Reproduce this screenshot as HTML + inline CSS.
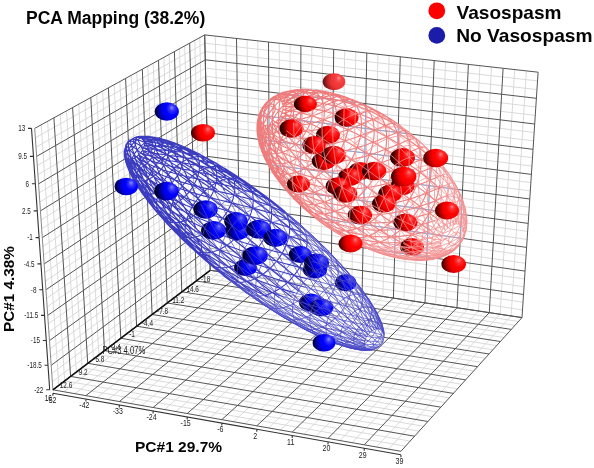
<!DOCTYPE html>
<html><head><meta charset="utf-8"><style>
html,body{margin:0;padding:0;background:#fff;}
body{width:594px;height:468px;overflow:hidden;position:relative;font-family:"Liberation Sans",sans-serif;}
svg{position:absolute;left:0;top:0;will-change:transform;}
</style></head><body>
<svg width="594" height="468" viewBox="0 0 594 468">
<defs><radialGradient id="gr" cx="0.8" cy="0.46" r="0.92" fx="0.7" fy="0.34" gradientTransform="translate(0.8 0.46) scale(1 1.45) translate(-0.8 -0.46)"><stop offset="0" stop-color="#ff7c7c"/><stop offset="0.12" stop-color="#ff2828"/><stop offset="0.28" stop-color="#ff0000"/><stop offset="0.34" stop-color="#ff0000"/><stop offset="0.44" stop-color="#ee0000"/><stop offset="0.55" stop-color="#c80000"/><stop offset="0.66" stop-color="#900000"/><stop offset="0.77" stop-color="#5a0000"/><stop offset="0.9" stop-color="#300000"/><stop offset="1" stop-color="#300000"/></radialGradient><radialGradient id="gr2" cx="0.9" cy="0.46" r="0.92" fx="0.7" fy="0.34" gradientTransform="translate(0.9 0.46) scale(1 1.45) translate(-0.9 -0.46)"><stop offset="0" stop-color="#ff7070"/><stop offset="0.12" stop-color="#ff2424"/><stop offset="0.28" stop-color="#f80000"/><stop offset="0.34" stop-color="#f80000"/><stop offset="0.44" stop-color="#e40000"/><stop offset="0.55" stop-color="#b80000"/><stop offset="0.66" stop-color="#800000"/><stop offset="0.77" stop-color="#500000"/><stop offset="0.9" stop-color="#2c0000"/><stop offset="1" stop-color="#2c0000"/></radialGradient><radialGradient id="gb2" cx="0.9" cy="0.46" r="0.92" fx="0.7" fy="0.34" gradientTransform="translate(0.9 0.46) scale(1 1.45) translate(-0.9 -0.46)"><stop offset="0" stop-color="#8080ff"/><stop offset="0.12" stop-color="#3030ff"/><stop offset="0.28" stop-color="#0000f8"/><stop offset="0.34" stop-color="#0000f8"/><stop offset="0.44" stop-color="#0000e4"/><stop offset="0.55" stop-color="#0000b8"/><stop offset="0.66" stop-color="#000080"/><stop offset="0.77" stop-color="#000050"/><stop offset="0.9" stop-color="#00002c"/><stop offset="1" stop-color="#00002c"/></radialGradient><radialGradient id="gr3" cx="0.8" cy="0.46" r="0.92" fx="0.7" fy="0.34" gradientTransform="translate(0.8 0.46) scale(1 1.45) translate(-0.8 -0.46)"><stop offset="0" stop-color="#ff9090"/><stop offset="0.12" stop-color="#f84848"/><stop offset="0.28" stop-color="#f03838"/><stop offset="0.34" stop-color="#f03838"/><stop offset="0.44" stop-color="#e83030"/><stop offset="0.55" stop-color="#c82828"/><stop offset="0.66" stop-color="#a02020"/><stop offset="0.77" stop-color="#701818"/><stop offset="0.9" stop-color="#501010"/><stop offset="1" stop-color="#501010"/></radialGradient><radialGradient id="gb" cx="0.8" cy="0.46" r="0.92" fx="0.7" fy="0.34" gradientTransform="translate(0.8 0.46) scale(1 1.45) translate(-0.8 -0.46)"><stop offset="0" stop-color="#8c8cff"/><stop offset="0.12" stop-color="#3434ff"/><stop offset="0.28" stop-color="#0000ff"/><stop offset="0.34" stop-color="#0000ff"/><stop offset="0.44" stop-color="#0000ee"/><stop offset="0.55" stop-color="#0000c8"/><stop offset="0.66" stop-color="#000090"/><stop offset="0.77" stop-color="#00005a"/><stop offset="0.9" stop-color="#000030"/><stop offset="1" stop-color="#000030"/></radialGradient></defs>
<path d="M220.1 271.8L215.3 36.1M210.0 262.9L522.5 309.9M230.0 273.3L225.9 37.2M209.8 255.5L523.0 302.2M249.9 276.4L247.1 39.6M209.5 240.6L524.0 286.8M259.9 277.9L257.8 40.8M209.3 233.1L524.5 279.0M280.1 280.9L279.3 43.2M209.0 218.0L525.6 263.3M290.2 282.5L290.1 44.4M208.8 210.4L526.1 255.4M310.6 285.5L311.8 46.9M208.4 195.2L527.1 239.4M320.8 287.1L322.7 48.1M208.3 187.5L527.6 231.4M341.4 290.2L344.7 50.5M207.9 172.0L528.7 215.3M351.7 291.8L355.8 51.8M207.7 164.2L529.2 207.2M372.5 294.9L378.0 54.3M207.4 148.5L530.3 190.9M382.9 296.5L389.1 55.5M207.2 140.6L530.8 182.6M403.9 299.7L411.6 58.0M206.8 124.7L531.9 166.1M414.5 301.3L422.9 59.3M206.6 116.8L532.5 157.7M435.7 304.5L445.6 61.8M206.3 100.7L533.6 140.9M446.3 306.1L457.0 63.1M206.1 92.6L534.1 132.5M467.8 309.4L479.9 65.7M205.7 76.3L535.3 115.4M478.5 311.0L491.5 67.0M205.5 68.1L535.8 106.9M500.2 314.3L514.7 69.6M205.1 51.5L536.9 89.6M511.1 316.0L526.4 70.9M204.9 43.2L537.5 80.9M58.8 385.3L41.2 124.9M52.3 381.7L210.0 262.9M64.7 380.8L47.6 121.3M51.8 373.5L209.8 255.5M76.3 372.0L60.2 114.4M50.6 357.1L209.5 240.6M82.1 367.7L66.5 111.0M50.0 348.8L209.3 233.1M93.4 359.1L78.7 104.2M48.9 332.2L209.0 218.0M98.9 354.8L84.8 100.9M48.3 323.8L208.8 210.4M109.9 346.5L96.7 94.3M47.1 306.9L208.4 195.2M115.4 342.3L102.6 91.1M46.5 298.4L208.3 187.5M126.1 334.2L114.2 84.7M45.3 281.2L207.9 172.0M131.4 330.2L119.9 81.5M44.7 272.6L207.7 164.2M141.8 322.3L131.2 75.3M43.5 255.2L207.4 148.5M147.0 318.3L136.8 72.3M42.9 246.4L207.2 140.6M157.1 310.6L147.8 66.2M41.7 228.8L206.8 124.7M162.2 306.8L153.2 63.3M41.1 219.9L206.6 116.8M172.1 299.3L163.9 57.4M39.8 202.0L206.3 100.7M177.0 295.5L169.1 54.5M39.2 192.9L206.1 92.6M186.7 288.2L179.5 48.8M37.9 174.7L205.7 76.3M191.4 284.6L184.7 45.9M37.3 165.6L205.5 68.1M200.9 277.4L194.8 40.4M36.0 147.1L205.1 51.5M205.5 273.8L199.8 37.6M35.3 137.8L204.9 43.2M63.9 391.7L220.1 271.8M58.8 385.3L405.5 446.2M74.9 393.7L230.0 273.3M64.7 380.8L410.1 441.1M97.0 397.6L249.9 276.4M76.3 372.0L419.1 431.2M108.1 399.6L259.9 277.9M82.1 367.7L423.5 426.3M130.5 403.5L280.1 280.9M93.4 359.1L432.2 416.7M141.8 405.5L290.2 282.5M98.9 354.8L436.5 411.9M164.4 409.5L310.6 285.5M109.9 346.5L445.0 402.6M175.8 411.5L320.8 287.1M115.4 342.3L449.2 397.9M198.7 415.6L341.4 290.2M126.1 334.2L457.5 388.8M210.2 417.6L351.7 291.8M131.4 330.2L461.6 384.3M233.4 421.7L372.5 294.9M141.8 322.3L469.6 375.5M245.1 423.7L382.9 296.5M147.0 318.3L473.6 371.1M268.5 427.9L403.9 299.7M157.1 310.6L481.4 362.4M280.3 430.0L414.5 301.3M162.2 306.8L485.2 358.2M304.1 434.2L435.7 304.5M172.1 299.3L492.8 349.8M316.0 436.3L446.3 306.1M177.0 295.5L496.6 345.6M340.0 440.5L467.8 309.4M186.7 288.2L504.0 337.5M352.1 442.6L478.5 311.0M191.4 284.6L507.7 333.4M376.4 446.9L500.2 314.3M200.9 277.4L514.9 325.4M388.6 449.1L511.1 316.0M205.5 273.8L518.5 321.5" stroke="#d6d6d6" stroke-width="0.9" fill="none"/>
<path d="M210.2 270.3L204.7 34.9M210.2 270.3L522.0 317.6M239.9 274.8L236.5 38.4M209.7 248.1L523.5 294.5M270.0 279.4L268.5 42.0M209.1 225.6L525.0 271.1M300.4 284.0L300.9 45.6M208.6 202.8L526.6 247.4M331.1 288.7L333.7 49.3M208.1 179.7L528.2 223.4M362.1 293.4L366.8 53.0M207.5 156.4L529.8 199.0M393.4 298.1L400.3 56.8M207.0 132.7L531.4 174.4M425.0 302.9L434.2 60.6M206.4 108.7L533.0 149.3M457.0 307.8L468.4 64.4M205.9 84.4L534.7 124.0M489.3 312.7L503.1 68.3M205.3 59.8L536.4 98.3M522.0 317.6L538.1 72.2M204.7 34.9L538.1 72.2M52.9 389.8L210.2 270.3M70.6 376.4L53.9 117.8M51.2 365.3L209.7 248.1M87.7 363.3L72.6 107.6M49.5 340.5L209.1 225.6M104.5 350.6L90.8 97.6M47.7 315.4L208.6 202.8M120.8 338.3L108.4 87.9M45.9 289.8L208.1 179.7M136.6 326.2L125.6 78.4M44.1 263.9L207.5 156.4M152.1 314.5L142.3 69.2M42.3 237.6L207.0 132.7M167.2 303.0L158.5 60.3M40.4 210.9L206.4 108.7M181.8 291.8L174.4 51.6M38.6 183.8L205.9 84.4M196.2 281.0L189.7 43.1M36.6 156.4L205.3 59.8M210.2 270.3L204.7 34.9M34.7 128.4L204.7 34.9M52.9 389.8L210.2 270.3M52.9 389.8L400.9 451.3M85.9 395.6L239.9 274.8M70.6 376.4L414.6 436.2M119.3 401.5L270.0 279.4M87.7 363.3L427.9 421.5M153.1 407.5L300.4 284.0M104.5 350.6L440.8 407.2M187.2 413.5L331.1 288.7M120.8 338.3L453.4 393.4M221.8 419.6L362.1 293.4M136.6 326.2L465.6 379.9M256.8 425.8L393.4 298.1M152.1 314.5L477.5 366.7M292.2 432.1L425.0 302.9M167.2 303.0L489.0 354.0M328.0 438.4L457.0 307.8M181.8 291.8L500.3 341.5M364.2 444.8L489.3 312.7M196.2 281.0L511.3 329.4M400.9 451.3L522.0 317.6M210.2 270.3L522.0 317.6" stroke="#555" stroke-width="1" fill="none"/>
<path d="M52.9 389.8L34.7 128.4" stroke="#8a8a8a" stroke-width="1" fill="none"/>
<path d="M31.5 128.4L49.7 389.8M52.9 393.2L400.9 454.7M31.5 128.4L28.0 128.4M33.4 156.4L29.9 156.4M35.4 183.8L31.9 183.8M37.2 210.9L33.7 210.9M39.1 237.6L35.6 237.6M40.9 263.9L37.4 263.9M42.7 289.8L39.2 289.8M44.5 315.4L41.0 315.4M46.3 340.5L42.8 340.5M48.0 365.3L44.5 365.3M49.7 389.8L46.2 389.8M52.9 393.2L52.9 395.8M85.9 399.0L85.9 401.6M119.3 404.9L119.3 407.5M153.1 410.9L153.1 413.5M187.2 416.9L187.2 419.5M221.8 423.0L221.8 425.6M256.8 429.2L256.8 431.8M292.2 435.5L292.2 438.1M328.0 441.8L328.0 444.4M364.2 448.2L364.2 450.8M400.9 454.7L400.9 457.3" stroke="#333" stroke-width="1.1" fill="none"/>
<path d="M52.9 389.8L210.2 270.3" stroke="#111" stroke-width="1.6" fill="none"/>
<g font-family="Liberation Sans, sans-serif"><text transform="translate(25.2 128.4) scale(0.72 1)" font-size="8.8" text-anchor="end" dominant-baseline="central" fill="#1a1a1a" >13</text><text transform="translate(27.1 156.4) scale(0.72 1)" font-size="8.8" text-anchor="end" dominant-baseline="central" fill="#1a1a1a" >9.5</text><text transform="translate(29.1 183.8) scale(0.72 1)" font-size="8.8" text-anchor="end" dominant-baseline="central" fill="#1a1a1a" >6</text><text transform="translate(30.9 210.9) scale(0.72 1)" font-size="8.8" text-anchor="end" dominant-baseline="central" fill="#1a1a1a" >2.5</text><text transform="translate(32.8 237.6) scale(0.72 1)" font-size="8.8" text-anchor="end" dominant-baseline="central" fill="#1a1a1a" >-1</text><text transform="translate(34.6 263.9) scale(0.72 1)" font-size="8.8" text-anchor="end" dominant-baseline="central" fill="#1a1a1a" >-4.5</text><text transform="translate(36.4 289.8) scale(0.72 1)" font-size="8.8" text-anchor="end" dominant-baseline="central" fill="#1a1a1a" >-8</text><text transform="translate(38.2 315.4) scale(0.72 1)" font-size="8.8" text-anchor="end" dominant-baseline="central" fill="#1a1a1a" >-11.5</text><text transform="translate(40.0 340.5) scale(0.72 1)" font-size="8.8" text-anchor="end" dominant-baseline="central" fill="#1a1a1a" >-15</text><text transform="translate(41.7 365.3) scale(0.72 1)" font-size="8.8" text-anchor="end" dominant-baseline="central" fill="#1a1a1a" >-18.5</text><text transform="translate(43.4 389.8) scale(0.72 1)" font-size="8.8" text-anchor="end" dominant-baseline="central" fill="#1a1a1a" >-22</text><text transform="translate(51.4 399.8) scale(0.8 1)" font-size="8.8" text-anchor="middle" dominant-baseline="central" fill="#1a1a1a" >-52</text><text transform="translate(84.4 405.6) scale(0.8 1)" font-size="8.8" text-anchor="middle" dominant-baseline="central" fill="#1a1a1a" >-42</text><text transform="translate(117.8 411.5) scale(0.8 1)" font-size="8.8" text-anchor="middle" dominant-baseline="central" fill="#1a1a1a" >-33</text><text transform="translate(151.6 417.5) scale(0.8 1)" font-size="8.8" text-anchor="middle" dominant-baseline="central" fill="#1a1a1a" >-24</text><text transform="translate(185.7 423.5) scale(0.8 1)" font-size="8.8" text-anchor="middle" dominant-baseline="central" fill="#1a1a1a" >-15</text><text transform="translate(220.3 429.6) scale(0.8 1)" font-size="8.8" text-anchor="middle" dominant-baseline="central" fill="#1a1a1a" >-6</text><text transform="translate(255.3 435.8) scale(0.8 1)" font-size="8.8" text-anchor="middle" dominant-baseline="central" fill="#1a1a1a" >2</text><text transform="translate(290.7 442.1) scale(0.8 1)" font-size="8.8" text-anchor="middle" dominant-baseline="central" fill="#1a1a1a" >11</text><text transform="translate(326.5 448.4) scale(0.8 1)" font-size="8.8" text-anchor="middle" dominant-baseline="central" fill="#1a1a1a" >20</text><text transform="translate(362.7 454.8) scale(0.8 1)" font-size="8.8" text-anchor="middle" dominant-baseline="central" fill="#1a1a1a" >29</text><text transform="translate(399.4 461.3) scale(0.8 1)" font-size="8.8" text-anchor="middle" dominant-baseline="central" fill="#1a1a1a" >39</text><text transform="translate(48.3 398.2) scale(0.7 1)" font-size="9.2" text-anchor="middle" dominant-baseline="central" fill="#1a1a1a" >16</text><text transform="translate(66.0 384.8) scale(0.7 1)" font-size="9.2" text-anchor="middle" dominant-baseline="central" fill="#1a1a1a" >12.6</text><text transform="translate(83.1 371.7) scale(0.7 1)" font-size="9.2" text-anchor="middle" dominant-baseline="central" fill="#1a1a1a" >9.2</text><text transform="translate(99.9 359.0) scale(0.7 1)" font-size="9.2" text-anchor="middle" dominant-baseline="central" fill="#1a1a1a" >5.8</text><text transform="translate(116.2 346.7) scale(0.7 1)" font-size="9.2" text-anchor="middle" dominant-baseline="central" fill="#1a1a1a" >2.4</text><text transform="translate(132.0 334.6) scale(0.7 1)" font-size="9.2" text-anchor="middle" dominant-baseline="central" fill="#1a1a1a" >-1</text><text transform="translate(147.5 322.9) scale(0.7 1)" font-size="9.2" text-anchor="middle" dominant-baseline="central" fill="#1a1a1a" >-4.4</text><text transform="translate(162.6 311.4) scale(0.7 1)" font-size="9.2" text-anchor="middle" dominant-baseline="central" fill="#1a1a1a" >-7.8</text><text transform="translate(177.2 300.2) scale(0.7 1)" font-size="9.2" text-anchor="middle" dominant-baseline="central" fill="#1a1a1a" >-11.2</text><text transform="translate(191.6 289.4) scale(0.7 1)" font-size="9.2" text-anchor="middle" dominant-baseline="central" fill="#1a1a1a" >-14.6</text><text transform="translate(205.6 278.7) scale(0.7 1)" font-size="9.2" text-anchor="middle" dominant-baseline="central" fill="#1a1a1a" >-18</text><text transform="translate(123.8 351.0) scale(0.72 1)" font-size="10.6" text-anchor="middle" dominant-baseline="central" fill="#1a1a1a" >PC#3 4.07%</text></g>
<path d="M381.4 345.0L379.8 346.6L377.9 347.9L375.6 349.0L373.1 349.7L370.1 350.2L366.9 350.4L363.4 350.3L359.5 349.9L355.4 349.2L351.0 348.2L346.3 347.0L341.3 345.4L336.1 343.6L330.7 341.5L325.1 339.2L319.3 336.6L313.3 333.7L307.1 330.6L300.8 327.3L294.4 323.8L287.8 320.0L281.2 316.0L274.4 311.8L267.7 307.5L260.8 302.9L254.0 298.3L247.2 293.4L240.3 288.4L233.6 283.3L226.8 278.1L220.2 272.8L213.6 267.5L207.2 262.0L200.9 256.5L194.7 251.0L188.7 245.4L182.9 239.9L177.2 234.3L171.8 228.8L166.7 223.3L161.7 217.8L157.1 212.4L152.6 207.2L148.5 201.9L144.7 196.9L141.2 191.9L137.9 187.1L135.1 182.4L132.5 177.9L130.3 173.5L128.4 169.4L126.9 165.4L125.7 161.7L124.9 158.2L124.4 154.9L124.3 151.8L124.5 149.0L125.1 146.5L126.1 144.2L127.4 142.2L129.1 140.5L131.1 139.1L133.4 137.9L136.1 137.0L139.1 136.5L142.4 136.2L146.0 136.2L149.9 136.5L154.1 137.2L158.6 138.1L163.3 139.3L168.3 140.8L173.5 142.6L178.9 144.6L184.5 147.0L190.3 149.6L196.3 152.4L202.5 155.6L208.7 158.9L215.1 162.5L221.6 166.4L228.2 170.4L234.9 174.7L241.6 179.1L248.4 183.7L255.1 188.5L261.9 193.5L268.6 198.5L275.3 203.7L282.0 209.1L288.5 214.5L295.0 220.0L301.4 225.5L307.6 231.1L313.7 236.7L319.6 242.4L325.4 248.0L330.9 253.7L336.3 259.3L341.4 264.8L346.3 270.3L351.0 275.7L355.3 281.1L359.5 286.3L363.3 291.4L366.8 296.3L370.0 301.2L373.0 305.8L375.5 310.3L377.8 314.6L379.7 318.7L381.3 322.6L382.6 326.2L383.5 329.6L384.0 332.8L384.2 335.8L384.0 338.5L383.5 340.9L382.6 343.1Z" fill="#fff" opacity="0.55"/>
<ellipse cx="361.9" cy="174.85" rx="120.1" ry="62.4" transform="rotate(34.7 361.9 174.85)" fill="#fff" opacity="0.55"/>
<clipPath id="cp"><ellipse cx="361.9" cy="174.85" rx="120.1" ry="62.4" transform="rotate(34.7 361.9 174.85)"/></clipPath>
<path d="M210.2 270.3L204.7 34.9M210.2 270.3L522.0 317.6M239.9 274.8L236.5 38.4M209.7 248.1L523.5 294.5M270.0 279.4L268.5 42.0M209.1 225.6L525.0 271.1M300.4 284.0L300.9 45.6M208.6 202.8L526.6 247.4M331.1 288.7L333.7 49.3M208.1 179.7L528.2 223.4M362.1 293.4L366.8 53.0M207.5 156.4L529.8 199.0M393.4 298.1L400.3 56.8M207.0 132.7L531.4 174.4M425.0 302.9L434.2 60.6M206.4 108.7L533.0 149.3M457.0 307.8L468.4 64.4M205.9 84.4L534.7 124.0M489.3 312.7L503.1 68.3M205.3 59.8L536.4 98.3M522.0 317.6L538.1 72.2M204.7 34.9L538.1 72.2" stroke="#98a2d4" stroke-width="1" fill="none" clip-path="url(#cp)"/>
<path d="M306.9 239.2L307.1 242.9L306.8 246.7L306.2 250.7L305.2 254.7L303.8 258.8L302.0 262.8L300.0 266.8L297.6 270.7L294.9 274.4L291.9 278.0L288.8 281.3L285.4 284.4L281.9 287.1L278.3 289.6L274.6 291.6L270.9 293.3L267.2 294.6L263.6 295.5M283.1 210.1L285.1 212.3L286.8 215.0L288.1 217.9L289.0 221.2L289.6 224.7L289.7 228.4L289.5 232.3L288.8 236.3L287.8 240.4L286.4 244.5L284.6 248.6L282.5 252.7L280.0 256.6L277.3 260.4L274.3 264.0L271.1 267.4L267.7 270.5L264.2 273.3L260.5 275.8L256.8 277.9L253.0 279.6L249.3 280.9L245.6 281.8L242.0 282.3L238.5 282.3L235.2 281.9L232.2 281.1L229.4 279.8L226.8 278.1M209.2 263.7L207.0 261.7L205.1 259.3L203.6 256.5L202.5 253.5L201.8 250.1L201.4 246.6M247.4 191.0L250.9 190.8L254.2 191.0L257.3 191.6L260.2 192.7L262.8 194.2L265.1 196.1L267.1 198.3L268.8 200.9L270.1 203.9L271.0 207.1L271.5 210.6L271.7 214.2L271.4 218.1L270.7 222.1L269.7 226.1L268.3 230.2L266.5 234.3L264.4 238.3L262.0 242.3L259.3 246.0L256.3 249.6L253.1 253.0L249.8 256.1L246.2 258.8L242.6 261.3L238.9 263.4L235.2 265.1L231.4 266.4L227.8 267.3L224.2 267.8L220.8 267.8L217.5 267.4L214.5 266.6L211.7 265.4L209.2 263.7M192.5 248.9L190.4 246.9L188.6 244.6L187.1 241.9L186.0 238.9L185.3 235.7L185.0 232.2L185.1 228.6L185.5 224.8L186.3 220.8L187.6 216.9L189.1 212.9L191.0 208.9L193.3 205.0L195.8 201.2L198.6 197.6L201.6 194.2L204.8 191.0L208.2 188.1L211.7 185.5L215.3 183.3L219.0 181.4L222.6 179.9L226.2 178.8L229.7 178.2L233.1 177.9L236.3 178.1L239.3 178.7L242.1 179.8L244.7 181.2L246.9 183.0L248.9 185.2L250.5 187.8L251.7 190.6L252.6 193.7L253.1 197.1L253.2 200.7L253.0 204.4L252.3 208.3L251.3 212.2L249.9 216.2L248.2 220.2L246.2 224.1L243.8 227.9L241.2 231.6L238.3 235.1L235.2 238.4L231.9 241.4L228.5 244.1L224.9 246.5L221.3 248.5L217.7 250.2L214.1 251.5L210.5 252.4L207.1 252.8L203.7 252.9L200.6 252.5L197.6 251.7L194.9 250.5L192.5 248.9M177.1 233.9L175.0 232.1L173.3 229.8L172.0 227.3L170.9 224.5L170.3 221.4L170.0 218.1L170.0 214.6L170.5 211.0L171.3 207.3L172.4 203.5L173.9 199.7L175.8 195.9L177.9 192.2L180.3 188.6L182.9 185.2L185.8 181.9L188.9 178.9L192.1 176.1L195.4 173.7L198.9 171.5L202.3 169.7L205.8 168.3L209.2 167.3L212.5 166.6L215.7 166.4L218.8 166.6L221.7 167.2L224.3 168.1L226.7 169.5L228.9 171.2L230.7 173.3L232.2 175.7L233.4 178.4L234.3 181.4L234.7 184.6L234.8 188.0L234.6 191.6L234.0 195.2L233.0 199.0L231.7 202.8L230.0 206.6L228.1 210.3L225.8 213.9L223.3 217.4L220.6 220.7L217.6 223.8L214.5 226.7L211.2 229.3L207.9 231.6L204.4 233.5L201.0 235.1L197.6 236.4L194.2 237.2L190.9 237.7L187.7 237.7L184.7 237.4L181.9 236.6L179.4 235.5L177.1 233.9M163.2 219.2L161.4 217.4L159.8 215.4L158.5 213.0L157.6 210.4L157.0 207.6L156.7 204.5L156.8 201.3L157.2 197.9L157.9 194.5L159.0 190.9L160.4 187.4L162.1 183.9L164.1 180.5L166.3 177.1L168.8 173.9L171.4 170.9L174.3 168.1L177.3 165.6L180.3 163.3L183.5 161.3L186.7 159.6L189.9 158.3L193.1 157.3L196.2 156.7L199.1 156.5L202.0 156.7L204.6 157.2L207.1 158.1L209.3 159.4L211.3 161.0L213.0 162.9L214.4 165.1L215.5 167.6L216.3 170.4L216.7 173.3L216.8 176.5L216.6 179.8L216.0 183.2L215.1 186.7L213.9 190.2L212.3 193.7L210.5 197.1L208.4 200.5L206.1 203.8L203.5 206.8L200.8 209.7L197.9 212.4L194.9 214.8L191.8 216.9L188.6 218.7L185.4 220.2L182.2 221.4L179.1 222.2L176.0 222.6L173.1 222.6L170.3 222.3L167.7 221.6L165.4 220.6L163.2 219.2M151.3 204.8L149.6 203.3L148.2 201.4L147.1 199.3L146.2 197.0L145.7 194.4L145.4 191.7L145.5 188.8L145.9 185.7L146.5 182.6L147.5 179.5L148.8 176.3L150.3 173.1L152.1 170.0L154.1 167.0L156.3 164.1L158.7 161.4L161.3 158.9L164.0 156.6L166.7 154.5L169.6 152.7L172.5 151.2L175.4 150.0L178.2 149.1L181.0 148.6L183.7 148.4L186.2 148.5L188.6 149.0L190.8 149.8L192.8 150.9L194.6 152.4L196.1 154.1L197.4 156.1L198.4 158.4L199.1 160.8L199.5 163.5L199.5 166.3L199.3 169.3L198.8 172.4L198.0 175.5L196.9 178.7L195.5 181.8L193.8 185.0L192.0 188.0L189.9 190.9L187.6 193.7L185.1 196.3L182.5 198.7L179.7 200.9L176.9 202.8L174.1 204.4L171.2 205.8L168.3 206.8L165.5 207.5L162.8 207.9L160.1 208.0L157.6 207.7L155.3 207.1L153.2 206.1L151.3 204.8M141.4 191.3L140.0 189.9L138.8 188.3L137.8 186.5L137.1 184.5L136.6 182.2L136.4 179.8L136.4 177.3L136.8 174.7L137.4 172.0L138.2 169.2L139.3 166.5L140.6 163.7L142.2 161.1L143.9 158.4L145.9 155.9L147.9 153.6L150.2 151.4L152.5 149.4L154.9 147.6L157.4 146.0L159.9 144.7L162.4 143.7L164.9 142.9L167.3 142.4L169.6 142.3L171.8 142.4L173.9 142.8L175.8 143.5L177.6 144.4L179.1 145.7L180.4 147.2L181.5 148.9L182.4 150.9L183.0 153.0L183.3 155.3L183.4 157.8L183.2 160.4L182.7 163.0L182.0 165.8L181.0 168.5L179.8 171.3L178.4 174.0L176.8 176.6L174.9 179.2L172.9 181.6L170.8 183.8L168.5 185.9L166.1 187.8L163.7 189.5L161.2 190.9L158.7 192.1L156.2 193.0L153.8 193.6L151.4 193.9L149.1 194.0L147.0 193.7L144.9 193.2L143.1 192.4L141.4 191.3M133.9 178.8L132.7 177.6L131.7 176.3L130.9 174.8L130.3 173.1L129.9 171.3L129.8 169.3L129.8 167.2L130.1 165.0L130.6 162.8L131.3 160.5L132.2 158.3L133.3 156.0L134.6 153.8L136.0 151.6L137.6 149.5L139.3 147.6L141.2 145.8L143.1 144.1L145.1 142.6L147.2 141.3L149.2 140.2L151.3 139.4L153.3 138.8L155.3 138.4L157.2 138.2L159.1 138.3L160.8 138.6L162.4 139.2L163.8 140.0L165.1 141.0L166.2 142.3L167.1 143.7L167.8 145.3L168.3 147.1L168.6 149.0L168.6 151.0L168.4 153.2L168.1 155.4L167.5 157.6L166.7 159.9L165.7 162.2L164.5 164.4L163.1 166.6L161.6 168.7L160.0 170.7L158.2 172.6L156.3 174.3L154.3 175.9L152.3 177.3L150.3 178.4L148.2 179.4L146.1 180.2L144.1 180.7L142.2 181.0L140.3 181.0L138.5 180.8L136.8 180.3L135.3 179.7L133.9 178.8M128.9 167.5L128.0 166.7L127.2 165.7L126.6 164.5L126.1 163.2L125.8 161.8L125.7 160.3L125.7 158.6L126.0 157.0L126.3 155.3L126.9 153.5L127.6 151.8L128.4 150.0L129.4 148.3L130.5 146.6L131.8 145.0L133.1 143.5L134.5 142.1L136.0 140.9L137.5 139.7L139.1 138.7L140.7 137.9L142.3 137.2L143.8 136.7L145.4 136.4L146.9 136.3L148.3 136.4L149.6 136.6L150.8 137.1L151.9 137.7L152.9 138.5L153.7 139.4L154.4 140.5L155.0 141.8L155.3 143.1L155.5 144.6L155.6 146.2L155.5 147.8L155.2 149.5L154.7 151.2L154.1 153.0L153.3 154.7L152.4 156.5L151.4 158.1L150.2 159.8L148.9 161.3L147.5 162.8L146.1 164.1L144.6 165.3L143.0 166.4L141.5 167.3L139.9 168.0L138.3 168.6L136.7 169.0L135.2 169.2L133.8 169.3L132.4 169.1L131.1 168.8L129.9 168.2L128.9 167.5M126.4 157.8L125.8 157.2L125.3 156.6L124.9 155.8L124.6 154.9L124.4 153.9L124.3 152.9L124.3 151.8L124.4 150.7L124.7 149.5L125.1 148.3L125.6 147.1L126.1 145.9L126.8 144.8L127.6 143.6L128.4 142.6L129.3 141.5L130.2 140.6L131.3 139.7L132.3 139.0L133.4 138.3L134.4 137.7L135.5 137.3L136.6 136.9L137.6 136.7L138.6 136.6L139.6 136.7L140.5 136.9L141.3 137.1L142.1 137.6L142.7 138.1L143.3 138.7L143.8 139.5L144.1 140.3L144.4 141.3L144.5 142.3L144.6 143.3L144.5 144.4L144.3 145.6L144.0 146.8L143.5 147.9L143.0 149.1L142.4 150.3L141.7 151.4L140.9 152.6L140.0 153.6L139.1 154.6L138.1 155.5L137.1 156.3L136.0 157.0L135.0 157.7L133.9 158.2L132.8 158.6L131.7 158.8L130.7 159.0L129.7 159.0L128.8 158.9L127.9 158.7L127.1 158.3L126.4 157.8M126.6 149.9L126.3 149.6L126.0 149.2L125.8 148.8L125.6 148.4L125.5 147.9L125.5 147.4L125.5 146.8L125.6 146.2L125.7 145.6L125.9 145.0L126.1 144.4L126.4 143.8L126.8 143.3L127.2 142.7L127.6 142.1L128.0 141.6L128.5 141.1L129.0 140.7L129.6 140.3L130.1 140.0L130.6 139.7L131.2 139.5L131.7 139.3L132.3 139.2L132.8 139.1L133.2 139.2L133.7 139.3L134.1 139.4L134.5 139.6L134.8 139.9L135.1 140.2L135.4 140.6L135.5 141.0L135.7 141.5L135.7 142.0L135.8 142.5L135.7 143.1L135.6 143.7L135.5 144.3L135.2 144.9L135.0 145.5L134.7 146.0L134.3 146.6L133.9 147.2L133.5 147.7L133.0 148.2L132.5 148.7L132.0 149.1L131.4 149.5L130.9 149.8L130.4 150.0L129.8 150.2L129.3 150.4L128.8 150.4L128.3 150.4L127.8 150.4L127.4 150.3L127.0 150.1L126.6 149.9M229.6 280.3L224.1 276.0L218.7 271.6L213.3 267.2L208.0 262.7L202.8 258.2L197.7 253.7L192.8 249.2L187.9 244.6L183.2 240.0L178.6 235.5L174.1 230.9L169.8 226.4L165.7 221.9L161.7 217.4L157.9 213.0L154.3 208.7L150.9 204.4L147.7 200.1L144.7 196.0L141.9 192.0L139.3 188.0L136.9 184.1L134.8 180.4L132.9 176.8L131.2 173.3L129.8 169.9L128.6 166.7L127.6 163.6L126.9 160.6L126.4 157.8M214.4 266.9L209.1 262.5L203.8 258.0L198.6 253.5L193.6 249.1L188.7 244.6L183.9 240.1L179.2 235.6L174.7 231.1L170.3 226.6L166.1 222.2L162.0 217.8L158.2 213.4L154.5 209.1L151.0 204.9L147.7 200.8L144.6 196.7L141.7 192.7L139.1 188.8L136.6 185.0L134.4 181.3L132.4 177.7L130.7 174.3L129.2 170.9L127.9 167.8L126.9 164.7L126.1 161.8L125.5 159.1L125.2 156.5M206.4 256.2L201.2 251.8L196.0 247.4L191.0 243.0L186.1 238.5L181.3 234.1L176.7 229.7L172.2 225.3L167.9 221.0L163.7 216.6L159.8 212.4L156.0 208.2L152.3 204.0L148.9 200.0L145.7 196.0L142.7 192.1L139.9 188.3L137.3 184.6L135.0 181.0L132.9 177.5L131.0 174.2L129.3 171.0L127.9 167.9L126.7 164.9L125.8 162.1L125.1 159.5L124.7 157.0L124.5 154.7M200.3 244.4L195.1 240.0L190.1 235.7L185.2 231.3L180.5 227.0L175.9 222.7L171.4 218.4L167.1 214.2L163.0 210.1L159.0 206.0L155.2 201.9L151.6 198.0L148.2 194.1L145.1 190.3L142.1 186.6L139.3 183.1L136.8 179.6L134.5 176.3L132.4 173.1L130.5 170.0L128.9 167.0L127.5 164.2L126.4 161.6L125.5 159.1L124.8 156.7L124.4 154.6L124.3 152.5M196.0 231.9L191.0 227.6L186.1 223.3L181.3 219.1L176.7 214.9L172.2 210.8L167.9 206.7L163.8 202.7L159.8 198.8L156.0 195.0L152.4 191.2L149.0 187.6L145.8 184.0L142.8 180.6L140.0 177.3L137.4 174.1L135.1 171.0L132.9 168.1L131.0 165.3L129.4 162.6L128.0 160.2L126.8 157.8L125.9 155.7L125.2 153.7L124.7 151.8L124.5 150.2M193.5 219.1L188.6 215.0L183.8 210.8L179.2 206.8L174.7 202.8L170.3 198.9L166.1 195.0L162.1 191.3L158.2 187.7L154.6 184.1L151.1 180.7L147.8 177.4L144.7 174.2L141.8 171.2L139.2 168.2L136.8 165.5L134.5 162.8L132.6 160.4L130.8 158.1L129.3 155.9L128.0 153.9L127.0 152.1L126.2 150.4L125.6 149.0L125.3 147.7M197.7 210.7L192.7 206.6L187.9 202.6L183.2 198.6L178.6 194.8L174.2 191.0L169.9 187.4L165.8 183.8L161.8 180.4L158.0 177.0L154.4 173.8L151.0 170.8L147.8 167.9L144.8 165.1L142.0 162.4L139.5 159.9L137.1 157.6L135.0 155.5L133.1 153.5L131.4 151.6L129.9 150.0L128.7 148.5L127.8 147.2L127.0 146.1L126.5 145.2M203.2 202.7L198.1 198.7L193.2 194.8L188.4 191.0L183.8 187.2L179.3 183.6L174.9 180.1L170.6 176.7L166.6 173.5L162.6 170.4L158.9 167.4L155.3 164.5L152.0 161.8L148.8 159.3L145.8 156.9L143.1 154.7L140.5 152.7L138.2 150.8L136.1 149.1L134.2 147.6L132.5 146.3L131.1 145.1L129.9 144.2L128.9 143.4L128.2 142.8M209.7 195.6L204.6 191.6L199.7 187.8L194.8 184.1L190.0 180.5L185.4 177.0L180.8 173.6L176.5 170.4L172.2 167.3L168.1 164.4L164.2 161.6L160.5 158.9L156.9 156.5L153.5 154.2L150.4 152.0L147.4 150.1L144.6 148.3L142.0 146.7L139.6 145.2L137.5 144.0L135.5 143.0L133.8 142.1L132.4 141.5L131.1 141.0L130.1 140.7M217.0 189.7L211.9 185.8L206.8 182.0L201.8 178.4L196.9 174.9L192.1 171.5L187.5 168.3L182.9 165.2L178.5 162.2L174.3 159.4L170.2 156.8L166.2 154.3L162.4 152.0L158.8 149.9L155.4 147.9L152.1 146.2L149.1 144.6L146.2 143.2L143.6 142.0L141.2 141.0L138.9 140.2L136.9 139.6L135.1 139.2L133.6 139.0L132.3 139.0M230.0 189.2L224.7 185.3L219.5 181.5L214.3 177.8L209.2 174.2L204.2 170.7L199.3 167.4L194.5 164.3L189.8 161.3L185.2 158.4L180.7 155.7L176.4 153.2L172.2 150.9L168.2 148.7L164.4 146.7L160.7 144.9L157.2 143.3L153.8 141.9L150.7 140.7L147.8 139.6L145.0 138.8L142.5 138.2L140.2 137.7L138.1 137.5L136.2 137.5L134.5 137.7M243.2 190.6L237.8 186.6L232.4 182.7L227.1 178.9L221.8 175.2L216.6 171.7L211.5 168.2L206.4 165.0L201.4 161.9L196.6 158.9L191.8 156.1L187.1 153.5L182.6 151.1L178.2 148.8L174.0 146.7L169.9 144.8L165.9 143.1L162.2 141.6L158.6 140.2L155.2 139.1L151.9 138.2L148.9 137.4L146.0 136.9L143.4 136.6L141.0 136.5L138.8 136.6L136.8 136.9M256.1 194.0L250.6 189.9L245.2 185.8L239.7 181.9L234.3 178.1L228.9 174.5L223.6 170.9L218.4 167.5L213.2 164.3L208.0 161.2L203.0 158.2L198.1 155.5L193.2 152.8L188.5 150.4L183.9 148.2L179.4 146.1L175.1 144.2L170.9 142.5L166.9 141.0L163.1 139.7L159.4 138.6L155.9 137.7L152.5 137.0L149.4 136.5L146.5 136.3L143.7 136.2L141.2 136.3L138.9 136.6M268.2 199.4L262.7 195.2L257.2 191.1L251.7 187.0L246.3 183.1L240.8 179.3L235.3 175.6L229.9 172.0L224.5 168.6L219.2 165.3L213.9 162.2L208.8 159.2L203.7 156.4L198.7 153.8L193.8 151.3L189.0 149.0L184.3 146.9L179.8 145.0L175.4 143.3L171.1 141.7L167.1 140.4L163.1 139.3L159.4 138.3L155.8 137.6L152.4 137.1L149.2 136.7L146.2 136.6L143.4 136.7L140.8 137.0M284.7 211.3L279.3 206.9L273.8 202.5L268.3 198.3L262.8 194.1L257.2 190.1L251.7 186.1L246.2 182.3L240.6 178.5L235.1 174.9L229.7 171.5L224.2 168.1L218.9 164.9L213.6 161.9L208.3 159.0L203.2 156.3L198.2 153.7L193.2 151.4L188.4 149.2L183.7 147.2L179.1 145.3L174.7 143.7L170.4 142.2L166.3 141.0L162.3 139.9L158.5 139.1L154.9 138.4L151.5 138.0L148.3 137.7L145.2 137.7L142.4 137.8M294.2 220.6L288.9 216.1L283.5 211.7L278.0 207.4L272.5 203.1L267.0 198.9L261.4 194.8L255.8 190.8L250.2 186.9L244.6 183.1L239.1 179.5L233.5 175.9L228.0 172.5L222.6 169.2L217.2 166.0L211.8 163.0L206.6 160.2L201.4 157.5L196.4 155.0L191.4 152.7L186.6 150.5L181.9 148.5L177.3 146.7L172.9 145.1L168.6 143.7L164.5 142.4L160.6 141.4L156.8 140.6L153.2 139.9L149.8 139.5L146.6 139.2L143.6 139.2M302.1 231.3L296.9 226.9L291.5 222.4L286.1 218.1L280.6 213.7L275.1 209.4L269.5 205.2L263.9 201.1L258.3 197.0L252.7 193.0L247.1 189.2L241.5 185.4L235.9 181.7L230.4 178.2L224.8 174.8L219.4 171.5L214.0 168.3L208.7 165.4L203.5 162.5L198.3 159.8L193.3 157.3L188.4 154.9L183.6 152.7L178.9 150.7L174.4 148.9L170.1 147.2L165.8 145.8L161.8 144.5L157.9 143.4L154.2 142.5L150.7 141.8L147.4 141.3L144.3 141.0M308.2 243.2L303.0 238.8L297.8 234.3L292.4 229.9L287.0 225.5L281.5 221.2L276.0 216.9L270.4 212.6L264.8 208.4L259.2 204.3L253.6 200.3L247.9 196.3L242.3 192.4L236.7 188.6L231.1 185.0L225.6 181.4L220.1 178.0L214.7 174.6L209.4 171.5L204.1 168.4L199.0 165.5L193.9 162.8L189.0 160.2L184.2 157.7L179.5 155.5L174.9 153.4L170.5 151.5L166.3 149.7L162.2 148.2L158.3 146.8L154.6 145.6L151.0 144.6L147.7 143.7L144.6 143.1M312.5 255.7L307.4 251.4L302.2 247.0L296.9 242.6L291.6 238.2L286.2 233.8L280.7 229.5L275.1 225.1L269.6 220.8L264.0 216.6L258.3 212.4L252.7 208.2L247.1 204.2L241.5 200.2L235.9 196.3L230.3 192.4L224.8 188.7L219.4 185.1L214.0 181.6L208.6 178.2L203.4 175.0L198.3 171.8L193.2 168.8L188.3 166.0L183.5 163.3L178.9 160.7L174.4 158.4L170.0 156.1L165.8 154.1L161.7 152.2L157.9 150.5L154.2 149.0L150.7 147.6L147.4 146.5L144.3 145.5M315.0 268.4L310.0 264.2L304.9 259.9L299.7 255.5L294.4 251.2L289.0 246.8L283.6 242.5L278.1 238.1L272.6 233.7L267.0 229.4L261.4 225.1L255.8 220.8L250.2 216.6L244.6 212.4L239.0 208.3L233.5 204.3L228.0 200.3L222.5 196.4L217.1 192.6L211.7 188.9L206.5 185.3L201.3 181.8L196.3 178.4L191.3 175.2L186.5 172.1L181.8 169.1L177.2 166.3L172.8 163.6L168.5 161.1L164.4 158.7L160.4 156.5L156.7 154.4L153.1 152.6L149.7 150.9L146.5 149.3L143.5 148.0M311.0 276.7L305.9 272.5L300.8 268.3L295.6 264.1L290.2 259.7L284.9 255.4L279.4 251.1L273.9 246.7L268.4 242.3L262.9 237.9L257.3 233.6L251.7 229.2L246.2 224.9L240.6 220.6L235.1 216.4L229.6 212.2L224.1 208.1L218.8 204.0L213.4 200.0L208.2 196.1L203.0 192.3L198.0 188.6L193.0 185.0L188.2 181.5L183.5 178.1L178.9 174.9L174.5 171.8L170.2 168.8L166.1 165.9L162.1 163.2L158.3 160.7L154.7 158.3L151.3 156.1L148.1 154.1L145.1 152.2L142.3 150.5M305.6 284.5L300.5 280.4L295.3 276.3L290.1 272.1L284.7 267.8L279.3 263.5L273.9 259.1L268.4 254.8L262.9 250.4L257.4 246.0L251.8 241.5L246.3 237.1L240.8 232.7L235.3 228.3L229.8 224.0L224.4 219.7L219.1 215.4L213.8 211.2L208.6 207.0L203.5 203.0L198.5 199.0L193.6 195.0L188.8 191.2L184.1 187.5L179.6 183.9L175.2 180.3L170.9 177.0L166.8 173.7L162.9 170.6L159.2 167.6L155.6 164.7L152.2 162.0L149.0 159.5L146.0 157.1L143.2 154.9L140.7 152.8M299.2 291.5L294.0 287.5L288.8 283.4L283.5 279.2L278.1 275.0L272.7 270.7L267.2 266.4L261.7 262.0L256.2 257.6L250.7 253.1L245.3 248.7L239.8 244.2L234.3 239.7L228.9 235.2L223.6 230.8L218.3 226.4L213.0 222.0L207.9 217.6L202.8 213.3L197.9 209.1L193.0 204.9L188.3 200.8L183.7 196.7L179.2 192.8L174.8 189.0L170.7 185.2L166.6 181.6L162.8 178.1L159.1 174.7L155.6 171.4L152.3 168.3L149.2 165.3L146.2 162.5L143.5 159.8L141.0 157.3L138.7 154.9M292.0 297.2L286.8 293.3L281.4 289.2L276.1 285.1L270.7 280.9L265.2 276.6L259.8 272.3L254.3 267.9L248.8 263.5L243.4 259.0L237.9 254.5L232.5 250.0L227.1 245.5L221.8 241.0L216.6 236.4L211.4 231.9L206.3 227.4L201.3 222.9L196.4 218.5L191.6 214.1L186.9 209.8L182.4 205.5L178.0 201.3L173.7 197.2L169.6 193.2L165.7 189.3L161.9 185.4L158.3 181.7L154.9 178.1L151.6 174.6L148.6 171.3L145.8 168.1L143.2 165.0L140.8 162.0L138.6 159.3L136.6 156.7M279.1 297.6L273.7 293.6L268.3 289.5L262.8 285.3L257.4 281.1L251.9 276.7L246.4 272.4L241.0 267.9L235.6 263.4L230.2 258.9L224.8 254.4L219.6 249.8L214.3 245.2L209.2 240.6L204.1 236.0L199.2 231.5L194.3 226.9L189.6 222.4L185.0 217.9L180.5 213.5L176.2 209.1L172.0 204.8L167.9 200.5L164.1 196.4L160.4 192.3L156.9 188.3L153.5 184.4L150.4 180.7L147.5 177.0L144.8 173.5L142.2 170.1L139.9 166.8L137.8 163.7L136.0 160.8L134.3 158.0M265.9 296.2L260.5 292.1L255.0 288.0L249.5 283.7L244.0 279.4L238.6 275.0L233.1 270.6L227.8 266.1L222.4 261.6L217.1 257.0L211.9 252.4L206.8 247.8L201.8 243.1L196.9 238.5L192.1 233.9L187.4 229.3L182.8 224.7L178.4 220.2L174.1 215.7L169.9 211.2L166.0 206.9L162.2 202.5L158.6 198.3L155.1 194.1L151.9 190.1L148.8 186.1L146.0 182.2L143.3 178.5L140.9 174.8L138.7 171.3L136.7 168.0L134.9 164.8L133.4 161.7L132.1 158.8M253.0 292.9L247.5 288.7L242.0 284.5L236.5 280.2L231.1 275.8L225.7 271.4L220.3 266.9L215.0 262.3L209.8 257.8L204.7 253.2L199.7 248.5L194.8 243.9L190.0 239.3L185.3 234.6L180.7 230.0L176.3 225.4L172.1 220.9L168.0 216.4L164.0 211.9L160.3 207.5L156.7 203.1L153.3 198.9L150.1 194.7L147.1 190.6L144.3 186.6L141.7 182.7L139.4 178.9L137.2 175.3L135.3 171.7L133.6 168.3L132.2 165.1L130.9 162.0L129.9 159.0M240.8 287.6L235.2 283.3L229.8 279.0L224.3 274.6L218.9 270.2L213.6 265.7L208.4 261.2L203.3 256.6L198.2 252.1L193.3 247.5L188.5 242.8L183.8 238.2L179.2 233.6L174.8 229.0L170.5 224.5L166.4 220.0L162.5 215.5L158.7 211.0L155.2 206.7L151.8 202.3L148.6 198.1L145.6 194.0L142.9 189.9L140.3 185.9L138.0 182.1L135.8 178.3L134.0 174.7L132.3 171.2L130.9 167.9L129.7 164.7L128.7 161.6L128.0 158.7M253.6 193.0L252.0 191.0L250.4 189.0L248.7 187.1L247.0 185.3L245.3 183.5L243.5 181.8L241.8 180.2L240.0 178.6L238.1 177.2L236.3 175.7L234.4 174.4L232.5 173.1L230.5 171.9L228.5 170.7L226.5 169.6L224.5 168.6L222.4 167.6L220.3 166.6L218.1 165.8L216.0 164.9L213.8 164.2L211.6 163.4L209.3 162.7L207.1 162.1L204.8 161.5L202.5 160.9L200.2 160.4L197.9 159.9L195.5 159.4L193.2 159.0L190.8 158.6L188.5 158.2L186.1 157.8L183.8 157.4L181.4 157.1L179.1 156.7L176.7 156.4L174.4 156.1L172.1 155.8L169.9 155.5L167.6 155.1L165.4 154.8L163.2 154.5L161.0 154.2L158.9 153.9L156.9 153.5L154.8 153.2L152.9 152.8L150.9 152.5L149.1 152.1L147.3 151.7L145.6 151.3L143.9 150.9L142.3 150.5M263.9 197.6L262.2 195.7L260.4 193.9L258.7 192.2L256.9 190.5L255.0 188.9L253.1 187.3L251.2 185.8L249.3 184.4L247.3 183.0L245.3 181.7L243.2 180.5L241.1 179.3L239.0 178.1L236.9 177.1L234.7 176.0L232.4 175.1L230.2 174.1L227.9 173.3L225.5 172.4L223.2 171.6L220.8 170.9L218.4 170.2L216.0 169.5L213.5 168.9L211.0 168.3L208.5 167.7L206.0 167.1L203.5 166.6L201.0 166.1L198.4 165.6L195.9 165.1L193.3 164.7L190.8 164.2L188.2 163.8L185.7 163.4L183.2 162.9L180.7 162.5L178.2 162.1L175.7 161.6L173.3 161.2L170.8 160.8L168.5 160.3L166.1 159.9L163.8 159.4L161.6 158.9L159.3 158.5L157.2 158.0L155.1 157.4L153.0 156.9L151.1 156.4L149.1 155.8L147.3 155.2L145.5 154.7L143.8 154.1L142.2 153.4L140.7 152.8M273.7 203.2L271.9 201.5L270.0 199.8L268.1 198.2L266.2 196.7L264.2 195.2L262.2 193.8L260.2 192.4L258.1 191.1L255.9 189.9L253.7 188.7L251.5 187.5L249.3 186.4L247.0 185.4L244.6 184.4L242.2 183.4L239.8 182.5L237.4 181.6L234.9 180.8L232.4 180.0L229.8 179.2L227.2 178.5L224.6 177.8L222.0 177.1L219.3 176.5L216.7 175.9L214.0 175.3L211.3 174.7L208.6 174.1L205.8 173.6L203.1 173.0L200.4 172.5L197.6 171.9L194.9 171.4L192.2 170.9L189.5 170.3L186.8 169.8L184.1 169.3L181.4 168.7L178.8 168.2L176.2 167.6L173.6 167.0L171.1 166.4L168.6 165.8L166.2 165.2L163.8 164.6L161.4 163.9L159.1 163.3L156.9 162.6L154.8 161.9L152.7 161.2L150.6 160.5L148.7 159.7L146.8 158.9L145.0 158.2L143.3 157.4L141.7 156.6L140.2 155.7L138.7 154.9M282.9 209.8L281.0 208.3L279.0 206.8L277.0 205.3L274.9 203.9L272.8 202.5L270.6 201.2L268.4 200.0L266.2 198.8L263.9 197.6L261.5 196.5L259.1 195.5L256.7 194.5L254.2 193.5L251.7 192.6L249.1 191.7L246.5 190.8L243.9 190.0L241.2 189.2L238.5 188.4L235.8 187.6L233.0 186.9L230.2 186.2L227.4 185.5L224.5 184.9L221.7 184.2L218.8 183.5L215.9 182.9L213.0 182.3L210.1 181.7L207.2 181.0L204.2 180.4L201.3 179.8L198.4 179.1L195.5 178.5L192.7 177.9L189.8 177.2L187.0 176.5L184.2 175.9L181.4 175.2L178.6 174.5L175.9 173.7L173.3 173.0L170.6 172.2L168.1 171.5L165.5 170.7L163.1 169.9L160.7 169.0L158.4 168.2L156.1 167.3L153.9 166.4L151.8 165.5L149.7 164.6L147.8 163.6L145.9 162.7L144.1 161.7L142.4 160.7L140.8 159.7L139.3 158.7L137.9 157.7L136.6 156.7M289.4 215.9L287.3 214.6L285.1 213.3L282.9 212.0L280.6 210.7L278.3 209.6L275.9 208.4L273.5 207.3L271.1 206.3L268.5 205.2L266.0 204.3L263.4 203.3L260.7 202.4L258.0 201.5L255.3 200.6L252.5 199.8L249.6 199.0L246.8 198.2L243.9 197.4L241.0 196.7L238.0 195.9L235.0 195.2L232.0 194.5L229.0 193.8L225.9 193.1L222.9 192.4L219.8 191.7L216.7 191.0L213.6 190.3L210.6 189.6L207.5 188.8L204.4 188.1L201.3 187.4L198.3 186.6L195.3 185.8L192.3 185.0L189.3 184.2L186.3 183.4L183.4 182.6L180.5 181.7L177.7 180.8L174.9 179.9L172.2 179.0L169.5 178.0L166.9 177.1L164.3 176.1L161.8 175.1L159.4 174.0L157.0 173.0L154.7 171.9L152.5 170.8L150.4 169.7L148.4 168.6L146.4 167.4L144.6 166.3L142.8 165.1L141.1 163.9L139.6 162.7L138.1 161.5L136.8 160.4L135.5 159.2L134.3 158.0M296.9 224.4L294.7 223.2L292.4 222.0L290.0 220.8L287.6 219.7L285.1 218.6L282.6 217.6L280.0 216.5L277.4 215.6L274.7 214.6L272.0 213.7L269.2 212.8L266.4 211.9L263.5 211.0L260.6 210.2L257.6 209.4L254.6 208.6L251.5 207.8L248.5 207.0L245.4 206.2L242.2 205.5L239.1 204.7L235.9 203.9L232.7 203.2L229.5 202.4L226.2 201.6L223.0 200.8L219.8 200.0L216.5 199.2L213.3 198.4L210.1 197.6L206.8 196.7L203.6 195.9L200.4 195.0L197.3 194.1L194.1 193.1L191.0 192.2L187.9 191.2L184.9 190.2L181.9 189.2L179.0 188.1L176.1 187.0L173.2 185.9L170.4 184.8L167.7 183.6L165.1 182.5L162.5 181.3L160.0 180.0L157.5 178.8L155.2 177.5L152.9 176.3L150.7 175.0L148.6 173.6L146.6 172.3L144.7 171.0L142.9 169.6L141.2 168.3L139.6 166.9L138.1 165.5L136.7 164.2L135.3 162.8L134.2 161.4L133.1 160.1L132.1 158.8M303.6 233.5L301.2 232.4L298.8 231.3L296.3 230.2L293.7 229.2L291.1 228.2L288.4 227.3L285.6 226.3L282.8 225.4L280.0 224.5L277.1 223.6L274.1 222.7L271.1 221.9L268.1 221.0L265.0 220.2L261.9 219.4L258.7 218.6L255.5 217.8L252.3 217.0L249.0 216.1L245.7 215.3L242.4 214.5L239.0 213.7L235.7 212.8L232.3 212.0L228.9 211.1L225.5 210.2L222.1 209.3L218.7 208.4L215.4 207.5L212.0 206.5L208.6 205.5L205.3 204.5L202.0 203.5L198.7 202.4L195.4 201.3L192.2 200.2L189.0 199.0L185.9 197.9L182.8 196.7L179.8 195.4L176.8 194.2L173.8 192.9L171.0 191.6L168.2 190.2L165.5 188.9L162.8 187.5L160.2 186.0L157.7 184.6L155.3 183.2L153.0 181.7L150.8 180.2L148.6 178.7L146.6 177.2L144.6 175.6L142.8 174.1L141.0 172.6L139.3 171.0L137.8 169.5L136.4 168.0L135.0 166.4L133.8 164.9L132.7 163.4L131.6 161.9L130.7 160.4L129.9 159.0M309.3 243.1L306.8 242.1L304.2 241.1L301.6 240.1L298.9 239.2L296.1 238.3L293.2 237.3L290.4 236.5L287.4 235.6L284.4 234.7L281.3 233.8L278.2 233.0L275.1 232.2L271.9 231.3L268.6 230.5L265.3 229.6L262.0 228.8L258.6 227.9L255.2 227.1L251.8 226.2L248.4 225.3L244.9 224.4L241.4 223.5L237.9 222.6L234.4 221.6L230.9 220.6L227.3 219.6L223.8 218.6L220.3 217.6L216.8 216.5L213.3 215.4L209.9 214.2L206.4 213.1L203.0 211.9L199.6 210.6L196.2 209.4L192.9 208.1L189.7 206.8L186.4 205.4L183.3 204.0L180.2 202.6L177.1 201.2L174.1 199.7L171.2 198.2L168.3 196.6L165.5 195.1L162.8 193.5L160.2 191.9L157.7 190.3L155.2 188.6L152.9 186.9L150.6 185.3L148.4 183.6L146.3 181.9L144.3 180.2L142.5 178.4L140.7 176.7L139.0 175.0L137.4 173.3L135.9 171.6L134.6 169.9L133.3 168.2L132.2 166.6L131.1 164.9L130.2 163.3L129.4 161.8L128.6 160.2L128.0 158.7M311.4 252.1L308.7 251.2L305.9 250.3L303.1 249.4L300.2 248.5L297.2 247.6L294.2 246.8L291.1 245.9L287.9 245.1L284.7 244.2L281.4 243.4L278.1 242.5L274.8 241.7L271.4 240.8L268.0 239.9L264.5 239.0L261.0 238.1L257.5 237.2L253.9 236.2L250.3 235.2L246.7 234.3L243.1 233.2L239.5 232.2L235.8 231.1L232.2 230.0L228.6 228.9L224.9 227.7L221.3 226.5L217.7 225.3L214.1 224.1L210.6 222.8L207.0 221.4L203.5 220.1L200.1 218.7L196.6 217.2L193.3 215.7L189.9 214.2L186.6 212.7L183.4 211.1L180.2 209.5L177.1 207.9L174.1 206.2L171.1 204.5L168.2 202.8L165.4 201.0L162.7 199.2L160.0 197.4L157.4 195.6L155.0 193.8L152.6 191.9L150.3 190.0L148.1 188.1L146.0 186.3L144.0 184.4L142.1 182.5L140.3 180.6L138.6 178.7L137.0 176.8L135.5 175.0L134.1 173.1L132.8 171.3L131.7 169.5L130.6 167.7L129.7 166.0L128.8 164.3L128.1 162.6L127.4 161.0L126.9 159.4L126.4 157.8M312.3 261.4L309.4 260.5L306.4 259.7L303.4 258.8L300.3 258.0L297.1 257.1L293.9 256.3L290.6 255.4L287.3 254.6L283.9 253.7L280.4 252.8L276.9 251.9L273.4 251.0L269.9 250.0L266.3 249.1L262.6 248.1L259.0 247.1L255.3 246.0L251.6 244.9L247.9 243.8L244.2 242.7L240.5 241.5L236.7 240.3L233.0 239.1L229.3 237.8L225.6 236.5L221.9 235.2L218.2 233.8L214.5 232.4L210.9 230.9L207.3 229.4L203.7 227.8L200.2 226.3L196.7 224.6L193.3 223.0L189.9 221.3L186.6 219.5L183.3 217.8L180.1 216.0L177.0 214.1L173.9 212.3L170.9 210.3L168.0 208.4L165.2 206.5L162.4 204.5L159.7 202.5L157.2 200.5L154.7 198.4L152.3 196.4L150.0 194.3L147.8 192.3L145.7 190.2L143.7 188.2L141.8 186.1L139.9 184.0L138.2 182.0L136.6 180.0L135.2 177.9L133.8 175.9L132.5 174.0L131.3 172.0L130.2 170.1L129.2 168.3L128.4 166.4L127.6 164.6L126.9 162.9L126.4 161.2L125.9 159.6L125.5 158.0L125.2 156.5M312.1 270.6L309.0 269.8L305.8 269.0L302.6 268.1L299.3 267.3L295.9 266.4L292.5 265.5L289.1 264.6L285.6 263.7L282.0 262.8L278.4 261.8L274.8 260.8L271.1 259.8L267.4 258.8L263.7 257.7L259.9 256.6L256.2 255.4L252.4 254.2L248.6 253.0L244.8 251.8L241.0 250.4L237.2 249.1L233.4 247.7L229.6 246.3L225.8 244.8L222.0 243.3L218.3 241.8L214.6 240.1L210.9 238.5L207.3 236.8L203.7 235.1L200.1 233.3L196.6 231.5L193.1 229.6L189.7 227.7L186.4 225.8L183.1 223.8L179.9 221.8L176.7 219.8L173.7 217.7L170.7 215.6L167.8 213.5L164.9 211.4L162.2 209.2L159.5 207.0L156.9 204.8L154.5 202.6L152.1 200.4L149.8 198.1L147.6 195.9L145.5 193.6L143.5 191.4L141.6 189.2L139.8 187.0L138.1 184.8L136.5 182.6L135.0 180.4L133.6 178.3L132.3 176.2L131.2 174.1L130.1 172.1L129.1 170.1L128.2 168.2L127.4 166.3L126.7 164.4L126.1 162.6L125.6 160.9L125.2 159.2L124.9 157.7L124.7 156.1L124.5 154.7M310.7 279.6L307.5 278.8L304.1 277.9L300.7 277.1L297.3 276.2L293.8 275.2L290.2 274.3L286.6 273.3L283.0 272.3L279.3 271.3L275.6 270.2L271.8 269.1L268.0 267.9L264.2 266.8L260.4 265.5L256.6 264.3L252.7 263.0L248.9 261.6L245.0 260.2L241.1 258.7L237.3 257.2L233.4 255.7L229.6 254.1L225.8 252.5L222.0 250.8L218.2 249.0L214.5 247.3L210.8 245.4L207.1 243.6L203.5 241.6L199.9 239.7L196.4 237.7L193.0 235.6L189.6 233.5L186.2 231.4L182.9 229.2L179.7 227.0L176.6 224.8L173.5 222.5L170.6 220.2L167.7 217.9L164.9 215.6L162.1 213.2L159.5 210.9L156.9 208.5L154.5 206.1L152.1 203.7L149.8 201.3L147.7 198.9L145.6 196.5L143.6 194.1L141.7 191.7L140.0 189.3L138.3 187.0L136.7 184.7L135.2 182.4L133.8 180.1L132.6 177.9L131.4 175.7L130.3 173.5L129.3 171.4L128.4 169.4L127.6 167.4L126.9 165.5L126.3 163.6L125.7 161.8L125.3 160.1L124.9 158.4L124.6 156.8L124.4 155.3L124.3 153.9L124.3 152.5M305.1 287.2L301.6 286.3L298.1 285.4L294.5 284.4L290.9 283.4L287.2 282.3L283.5 281.2L279.7 280.1L275.9 278.9L272.1 277.7L268.3 276.5L264.4 275.2L260.6 273.8L256.7 272.4L252.8 270.9L248.9 269.4L245.0 267.9L241.1 266.3L237.2 264.6L233.3 262.9L229.5 261.1L225.6 259.3L221.8 257.5L218.1 255.5L214.3 253.6L210.6 251.6L207.0 249.5L203.4 247.4L199.8 245.2L196.3 243.0L192.9 240.8L189.5 238.5L186.2 236.2L182.9 233.8L179.8 231.4L176.7 229.0L173.6 226.5L170.7 224.1L167.8 221.6L165.1 219.0L162.4 216.5L159.8 214.0L157.3 211.4L154.8 208.8L152.5 206.3L150.3 203.7L148.2 201.1L146.1 198.6L144.2 196.1L142.3 193.5L140.6 191.0L138.9 188.6L137.4 186.1L135.9 183.7L134.5 181.3L133.3 179.0L132.1 176.7L131.0 174.4L130.0 172.3L129.1 170.1L128.3 168.0L127.6 166.0L126.9 164.1L126.3 162.2L125.9 160.4L125.5 158.7L125.1 157.1L124.9 155.5L124.7 154.0L124.6 152.7L124.5 151.4L124.5 150.2M294.8 292.8L291.1 291.7L287.4 290.6L283.6 289.4L279.8 288.2L276.0 286.9L272.2 285.6L268.3 284.2L264.4 282.7L260.5 281.2L256.6 279.7L252.7 278.1L248.8 276.4L244.9 274.7L241.0 273.0L237.1 271.1L233.2 269.2L229.4 267.3L225.6 265.3L221.8 263.3L218.0 261.2L214.3 259.0L210.6 256.8L207.0 254.6L203.4 252.3L199.9 249.9L196.5 247.5L193.1 245.1L189.7 242.6L186.5 240.1L183.3 237.6L180.1 235.0L177.1 232.4L174.1 229.7L171.2 227.1L168.4 224.4L165.7 221.7L163.1 219.0L160.5 216.3L158.1 213.6L155.7 210.9L153.4 208.1L151.3 205.4L149.2 202.7L147.2 200.0L145.3 197.4L143.5 194.7L141.8 192.1L140.1 189.5L138.6 186.9L137.2 184.4L135.8 181.9L134.6 179.5L133.4 177.1L132.3 174.8L131.3 172.5L130.4 170.3L129.6 168.2L128.8 166.1L128.2 164.1L127.6 162.2L127.1 160.3L126.6 158.6L126.2 156.9L125.9 155.3L125.7 153.8L125.5 152.4L125.4 151.0L125.3 149.8L125.3 148.7L125.3 147.7M283.6 296.7L279.8 295.4L275.9 294.0L272.1 292.5L268.2 291.0L264.3 289.4L260.4 287.8L256.5 286.1L252.6 284.3L248.7 282.5L244.8 280.6L240.9 278.7L237.1 276.7L233.2 274.6L229.4 272.5L225.7 270.4L221.9 268.1L218.2 265.8L214.5 263.5L210.9 261.1L207.4 258.7L203.8 256.2L200.4 253.7L197.0 251.1L193.7 248.5L190.4 245.8L187.2 243.1L184.1 240.4L181.0 237.7L178.0 234.9L175.1 232.1L172.3 229.2L169.6 226.4L166.9 223.6L164.4 220.7L161.9 217.8L159.5 215.0L157.2 212.1L155.0 209.2L152.9 206.4L150.8 203.6L148.9 200.8L147.1 198.0L145.3 195.2L143.6 192.5L142.0 189.8L140.5 187.1L139.1 184.5L137.8 182.0L136.6 179.5L135.4 177.0L134.3 174.6L133.3 172.3L132.4 170.0L131.6 167.8L130.8 165.7L130.1 163.6L129.5 161.7L128.9 159.8L128.5 158.0L128.0 156.3L127.7 154.7L127.3 153.1L127.1 151.7L126.9 150.4L126.7 149.1L126.6 148.0L126.6 147.0L126.5 146.0L126.5 145.2M268.2 296.8L264.3 295.1L260.4 293.3L256.5 291.5L252.7 289.5L248.8 287.6L245.0 285.5L241.2 283.4L237.3 281.3L233.6 279.0L229.8 276.7L226.1 274.4L222.4 272.0L218.8 269.5L215.2 267.0L211.7 264.5L208.2 261.8L204.7 259.2L201.4 256.5L198.0 253.7L194.8 250.9L191.6 248.1L188.5 245.3L185.5 242.4L182.5 239.5L179.6 236.5L176.8 233.6L174.1 230.6L171.4 227.6L168.9 224.6L166.4 221.6L164.0 218.6L161.7 215.6L159.4 212.6L157.3 209.6L155.2 206.7L153.3 203.8L151.4 200.8L149.6 198.0L147.9 195.1L146.3 192.3L144.7 189.5L143.3 186.8L141.9 184.1L140.6 181.5L139.4 178.9L138.2 176.4L137.2 173.9L136.2 171.6L135.2 169.3L134.4 167.0L133.6 164.9L132.9 162.8L132.2 160.8L131.6 158.9L131.1 157.1L130.6 155.4L130.2 153.7L129.8 152.2L129.4 150.7L129.1 149.4L128.9 148.2L128.7 147.0L128.5 146.0L128.4 145.0L128.3 144.2L128.2 143.5L128.2 142.8M249.3 291.6L245.5 289.4L241.8 287.1L238.0 284.8L234.3 282.4L230.7 279.9L227.0 277.4L223.4 274.9L219.9 272.2L216.4 269.6L213.0 266.8L209.6 264.0L206.2 261.2L203.0 258.3L199.8 255.4L196.6 252.5L193.5 249.5L190.5 246.5L187.6 243.5L184.7 240.4L181.9 237.3L179.2 234.2L176.6 231.1L174.0 228.0L171.6 224.9L169.2 221.8L166.9 218.7L164.7 215.6L162.5 212.5L160.4 209.4L158.5 206.3L156.6 203.3L154.8 200.3L153.0 197.4L151.4 194.4L149.8 191.5L148.3 188.7L146.9 185.9L145.5 183.2L144.2 180.5L143.0 177.9L141.9 175.4L140.8 172.9L139.8 170.5L138.9 168.1L138.0 165.9L137.2 163.7L136.5 161.6L135.8 159.6L135.1 157.7L134.5 155.9L134.0 154.2L133.5 152.5L133.0 151.0L132.6 149.6L132.2 148.2L131.9 147.0L131.5 145.9L131.3 144.8L131.0 143.9L130.8 143.0L130.6 142.3L130.4 141.7L130.2 141.2L130.1 140.7M228.6 279.5L225.1 276.8L221.7 274.0L218.3 271.2L215.0 268.3L211.7 265.3L208.5 262.4L205.3 259.3L202.2 256.3L199.2 253.2L196.2 250.1L193.3 246.9L190.5 243.8L187.8 240.6L185.1 237.4L182.5 234.2L180.0 231.0L177.5 227.7L175.2 224.5L172.9 221.3L170.7 218.1L168.5 214.9L166.5 211.7L164.5 208.6L162.6 205.4L160.8 202.4L159.0 199.3L157.4 196.3L155.8 193.3L154.2 190.4L152.8 187.5L151.4 184.7L150.1 181.9L148.8 179.2L147.6 176.6L146.5 174.0L145.4 171.5L144.4 169.1L143.5 166.8L142.6 164.5L141.7 162.4L140.9 160.3L140.2 158.3L139.5 156.4L138.8 154.6L138.2 152.9L137.6 151.2L137.1 149.7L136.6 148.3L136.1 147.0L135.6 145.7L135.2 144.6L134.8 143.6L134.4 142.7L134.1 141.8L133.7 141.1L133.4 140.5L133.1 140.0L132.8 139.5L132.5 139.2L132.3 139.0M208.5 259.5L205.5 256.4L202.6 253.1L199.8 249.9L197.0 246.7L194.4 243.4L191.7 240.1L189.2 236.8L186.7 233.5L184.3 230.2L182.0 226.9L179.7 223.6L177.5 220.3L175.4 217.0L173.4 213.7L171.4 210.5L169.5 207.3L167.7 204.1L165.9 201.0L164.3 197.9L162.7 194.8L161.1 191.8L159.6 188.9L158.2 186.0L156.8 183.2L155.6 180.4L154.3 177.7L153.1 175.1L152.0 172.5L150.9 170.0L149.9 167.6L148.9 165.3L148.0 163.1L147.1 160.9L146.3 158.8L145.5 156.9L144.7 155.0L144.0 153.2L143.3 151.5L142.6 149.9L142.0 148.4L141.4 147.0L140.8 145.7L140.2 144.5L139.7 143.4L139.1 142.4L138.6 141.5L138.1 140.7L137.6 140.0L137.2 139.4L136.7 138.9L136.3 138.5L135.8 138.1L135.4 137.9L134.9 137.7L134.5 137.7M199.1 242.4L196.6 239.0L194.2 235.6L191.9 232.3L189.6 228.9L187.4 225.5L185.2 222.2L183.1 218.8L181.1 215.5L179.2 212.2L177.3 208.9L175.5 205.7L173.8 202.5L172.1 199.4L170.5 196.3L168.9 193.2L167.4 190.2L166.0 187.2L164.6 184.4L163.2 181.5L162.0 178.8L160.7 176.1L159.6 173.5L158.4 170.9L157.3 168.5L156.3 166.1L155.3 163.8L154.3 161.6L153.4 159.5L152.5 157.5L151.6 155.6L150.8 153.7L150.0 152.0L149.2 150.3L148.4 148.8L147.7 147.3L147.0 145.9L146.3 144.7L145.6 143.5L144.9 142.4L144.2 141.5L143.6 140.6L142.9 139.8L142.3 139.1L141.7 138.5L141.0 138.0L140.4 137.6L139.8 137.3L139.2 137.0L138.6 136.9L138.0 136.8L137.4 136.8L136.8 136.9M195.8 227.3L193.7 223.9L191.7 220.5L189.7 217.1L187.8 213.8L186.0 210.5L184.2 207.2L182.5 204.0L180.8 200.8L179.2 197.6L177.6 194.5L176.1 191.5L174.6 188.5L173.2 185.6L171.9 182.7L170.5 179.9L169.3 177.2L168.1 174.6L166.9 172.0L165.7 169.5L164.6 167.1L163.5 164.8L162.5 162.5L161.5 160.4L160.5 158.3L159.5 156.3L158.6 154.5L157.6 152.7L156.7 151.0L155.8 149.4L155.0 147.9L154.1 146.5L153.3 145.2L152.4 143.9L151.6 142.8L150.8 141.8L150.0 140.8L149.2 140.0L148.4 139.2L147.6 138.6L146.8 138.0L146.0 137.5L145.2 137.1L144.4 136.8L143.6 136.5L142.8 136.4L142.1 136.3L141.3 136.3L140.5 136.3L139.7 136.4L138.9 136.6M197.3 215.3L195.4 212.0L193.7 208.7L192.0 205.5L190.3 202.3L188.7 199.1L187.1 196.0L185.6 192.9L184.2 189.9L182.7 187.0L181.3 184.1L180.0 181.3L178.7 178.6L177.4 175.9L176.2 173.3L175.0 170.8L173.8 168.4L172.6 166.0L171.5 163.8L170.4 161.6L169.3 159.5L168.3 157.5L167.2 155.6L166.2 153.8L165.2 152.1L164.2 150.4L163.2 148.9L162.2 147.4L161.2 146.1L160.2 144.8L159.3 143.7L158.3 142.6L157.3 141.6L156.4 140.7L155.4 139.9L154.4 139.2L153.5 138.5L152.5 138.0L151.5 137.5L150.6 137.1L149.6 136.8L148.6 136.5L147.6 136.4L146.7 136.3L145.7 136.2L144.7 136.3L143.7 136.3L142.8 136.5L141.8 136.7L140.8 137.0M200.6 203.9L199.0 200.7L197.4 197.6L195.9 194.6L194.4 191.6L193.0 188.6L191.6 185.7L190.2 182.9L188.9 180.2L187.6 177.5L186.3 175.0L185.0 172.4L183.8 170.0L182.6 167.7L181.4 165.4L180.2 163.2L179.0 161.1L177.8 159.1L176.7 157.2L175.6 155.4L174.4 153.6L173.3 152.0L172.2 150.4L171.1 149.0L170.0 147.6L168.8 146.3L167.7 145.1L166.6 144.0L165.5 143.0L164.4 142.0L163.2 141.2L162.1 140.4L161.0 139.7L159.8 139.1L158.7 138.6L157.5 138.1L156.4 137.7L155.2 137.4L154.0 137.2L152.9 137.0L151.7 136.9L150.5 136.8L149.4 136.8L148.2 136.8L147.0 137.0L145.9 137.1L144.7 137.3L143.6 137.5L142.4 137.8M206.9 196.5L205.4 193.5L204.0 190.6L202.5 187.8L201.1 185.0L199.8 182.3L198.4 179.6L197.1 177.1L195.8 174.6L194.5 172.1L193.2 169.8L191.9 167.6L190.6 165.4L189.4 163.3L188.1 161.3L186.9 159.4L185.6 157.6L184.4 155.8L183.1 154.2L181.9 152.6L180.6 151.1L179.4 149.8L178.1 148.5L176.9 147.2L175.6 146.1L174.3 145.1L173.1 144.1L171.8 143.2L170.5 142.4L169.2 141.7L167.8 141.0L166.5 140.4L165.2 139.9L163.8 139.5L162.5 139.1L161.1 138.8L159.8 138.5L158.4 138.3L157.1 138.2L155.7 138.1L154.3 138.0L153.0 138.1L151.6 138.1L150.2 138.2L148.9 138.3L147.5 138.5L146.2 138.7L144.9 138.9L143.6 139.2M215.5 193.1L214.0 190.3L212.6 187.5L211.2 184.9L209.8 182.2L208.4 179.7L207.1 177.3L205.7 174.9L204.4 172.6L203.0 170.3L201.7 168.2L200.3 166.1L199.0 164.2L197.6 162.3L196.3 160.5L194.9 158.7L193.6 157.1L192.2 155.5L190.8 154.1L189.4 152.7L188.0 151.4L186.6 150.2L185.2 149.0L183.8 147.9L182.3 147.0L180.9 146.0L179.4 145.2L177.9 144.4L176.4 143.7L174.9 143.1L173.4 142.6L171.9 142.1L170.4 141.6L168.8 141.2L167.3 140.9L165.7 140.7L164.1 140.4L162.6 140.3L161.0 140.2L159.4 140.1L157.9 140.0L156.3 140.0L154.8 140.1L153.2 140.1L151.7 140.2L150.2 140.3L148.7 140.5L147.2 140.6L145.8 140.8L144.3 141.0M224.5 190.7L223.1 188.0L221.7 185.5L220.2 183.0L218.8 180.6L217.4 178.3L216.0 176.0L214.6 173.8L213.1 171.7L211.7 169.7L210.3 167.8L208.8 165.9L207.4 164.1L205.9 162.4L204.4 160.8L202.9 159.3L201.4 157.8L199.9 156.4L198.3 155.1L196.8 153.9L195.2 152.8L193.6 151.7L192.0 150.7L190.4 149.8L188.8 148.9L187.1 148.1L185.5 147.4L183.8 146.7L182.1 146.1L180.4 145.6L178.6 145.1L176.9 144.7L175.2 144.3L173.4 144.0L171.7 143.7L169.9 143.4L168.1 143.2L166.4 143.1L164.6 142.9L162.9 142.9L161.1 142.8L159.4 142.7L157.6 142.7L155.9 142.7L154.2 142.7L152.5 142.8L150.9 142.8L149.3 142.9L147.7 143.0L146.1 143.0L144.6 143.1M233.8 189.4L232.3 187.0L230.9 184.7L229.4 182.4L227.9 180.2L226.4 178.1L224.9 176.0L223.4 174.1L221.8 172.2L220.3 170.4L218.7 168.6L217.1 167.0L215.5 165.4L213.9 163.9L212.3 162.4L210.6 161.1L209.0 159.8L207.3 158.6L205.5 157.4L203.8 156.4L202.0 155.4L200.3 154.4L198.5 153.6L196.6 152.8L194.8 152.0L192.9 151.3L191.1 150.7L189.2 150.1L187.2 149.6L185.3 149.1L183.4 148.7L181.4 148.3L179.5 147.9L177.5 147.6L175.6 147.3L173.6 147.1L171.6 146.9L169.7 146.7L167.7 146.5L165.8 146.4L163.9 146.3L161.9 146.2L160.0 146.1L158.2 146.0L156.3 145.9L154.5 145.8L152.7 145.8L150.9 145.7L149.2 145.7L147.5 145.6L145.9 145.6L144.3 145.5M243.0 189.5L241.5 187.3L239.9 185.2L238.4 183.1L236.8 181.2L235.2 179.3L233.6 177.4L231.9 175.7L230.2 174.0L228.6 172.4L226.8 170.8L225.1 169.4L223.3 168.0L221.5 166.6L219.7 165.4L217.9 164.2L216.0 163.1L214.1 162.0L212.2 161.0L210.3 160.1L208.3 159.2L206.3 158.4L204.3 157.6L202.2 156.9L200.2 156.2L198.1 155.6L196.0 155.0L193.9 154.5L191.8 154.0L189.6 153.6L187.5 153.2L185.3 152.8L183.2 152.4L181.0 152.1L178.9 151.8L176.7 151.6L174.5 151.3L172.4 151.1L170.3 150.8L168.1 150.6L166.0 150.4L164.0 150.2L161.9 150.0L159.9 149.8L157.9 149.6L155.9 149.5L154.0 149.3L152.1 149.1L150.3 148.9L148.5 148.7L146.8 148.4L145.1 148.2L143.5 148.0" stroke="#3c3cc0" stroke-width="1.1" fill="none"/>
<path d="M439.7 184.9L438.7 190.4L437.2 195.9L435.2 201.5L432.7 207.1L429.9 212.5L426.6 217.8L423.0 222.8L419.0 227.6L414.8 232.0L410.4 236.0L405.8 239.6L401.0 242.7L396.2 245.4M429.5 156.3L430.6 161.0L431.2 166.1L431.2 171.4L430.7 177.0L429.6 182.6L428.1 188.4L426.0 194.2L423.5 200.0L420.5 205.6L417.1 211.1L413.3 216.3L409.2 221.3L404.9 225.9L400.3 230.1L395.5 233.8L390.5 237.0L385.6 239.8L380.5 241.9L375.6 243.5L370.7 244.4M415.8 139.4L417.9 143.4L419.5 147.9L420.6 152.7L421.2 157.9L421.2 163.3L420.6 169.0L419.6 174.8L418.0 180.7L415.9 186.7L413.3 192.6L410.2 198.3L406.8 203.9L402.9 209.3L398.8 214.3L394.3 219.0L389.6 223.3L384.7 227.1L379.6 230.4L374.5 233.2L369.4 235.4L364.3 237.0L359.4 238.0L354.5 238.4L349.9 238.1L345.6 237.2M399.1 124.8L402.2 127.8L404.8 131.4L407.0 135.4L408.6 139.9L409.7 144.7L410.3 149.9L410.3 155.4L409.8 161.1L408.7 167.0L407.1 173.0L405.0 178.9L402.4 184.9L399.3 190.7L395.8 196.3L391.9 201.7L387.7 206.8L383.2 211.5L378.5 215.8L373.5 219.7L368.5 223.0L363.3 225.8L358.2 228.0L353.1 229.6L348.0 230.6L343.2 231.0L338.5 230.7L334.2 229.8L330.1 228.3L326.4 226.2M315.4 218.0L312.1 215.3L309.3 212.1M376.1 112.0L380.3 113.2L384.2 115.0L387.6 117.4L390.7 120.4L393.3 123.9L395.4 127.9L397.1 132.3L398.2 137.2L398.7 142.3L398.7 147.8L398.2 153.5L397.1 159.3L395.5 165.2L393.4 171.1L390.9 177.0L387.8 182.8L384.3 188.4L380.5 193.7L376.3 198.8L371.8 203.5L367.1 207.8L362.2 211.6L357.2 214.9L352.1 217.7L347.0 219.9L341.9 221.5L336.9 222.5L332.1 222.8L327.5 222.6L323.1 221.7L319.1 220.1L315.4 218.0M305.1 209.2L301.9 206.6L299.1 203.4L296.8 199.8L295.0 195.6L293.7 191.1M355.5 105.0L360.1 105.0L364.5 105.5L368.6 106.7L372.4 108.5L375.8 110.9L378.8 113.8L381.3 117.2L383.4 121.1L385.0 125.4L386.1 130.2L386.6 135.2L386.6 140.6L386.1 146.1L385.1 151.8L383.5 157.6L381.4 163.4L378.9 169.1L375.9 174.8L372.6 180.3L368.8 185.5L364.7 190.4L360.3 195.0L355.7 199.2L350.9 203.0L346.0 206.2L341.0 208.9L336.0 211.1L331.0 212.6L326.2 213.6L321.4 213.9L316.9 213.7L312.7 212.8L308.7 211.3L305.1 209.2M295.7 200.0L292.6 197.4L289.9 194.4L287.7 190.8L285.9 186.9L284.6 182.5L283.8 177.8L283.6 172.8L283.8 167.5M325.2 105.6L330.0 103.2L334.8 101.4L339.5 100.2L344.2 99.6L348.6 99.5L352.8 100.1L356.8 101.2L360.4 103.0L363.7 105.2L366.6 108.0L369.1 111.3L371.1 115.1L372.6 119.3L373.6 123.8L374.1 128.7L374.2 133.8L373.7 139.2L372.7 144.7L371.2 150.2L369.2 155.8L366.7 161.4L363.9 166.8L360.6 172.1L357.0 177.1L353.0 181.9L348.8 186.3L344.4 190.3L339.8 193.9L335.0 197.0L330.2 199.7L325.4 201.7L320.6 203.2L315.9 204.2L311.4 204.5L307.0 204.2L303.0 203.4L299.1 202.0L295.7 200.0M287.2 190.3L284.3 187.9L281.7 185.0L279.6 181.7L277.9 177.9L276.7 173.8L276.0 169.3L275.7 164.6L276.0 159.6L276.7 154.5L277.9 149.2L279.5 143.9L281.6 138.7L284.1 133.4L287.0 128.4L290.3 123.5L293.9 118.8L297.7 114.5L301.9 110.5L306.1 106.9L310.6 103.7L315.1 100.9L319.7 98.7L324.2 97.0L328.7 95.9L333.1 95.3L337.3 95.2L341.3 95.8L345.1 96.8L348.5 98.5L351.6 100.6L354.3 103.3L356.7 106.4L358.6 110.0L360.0 113.9L361.0 118.2L361.5 122.8L361.5 127.7L361.0 132.8L360.1 137.9L358.7 143.2L356.8 148.5L354.5 153.8L351.8 158.9L348.7 163.9L345.2 168.7L341.5 173.2L337.5 177.4L333.3 181.2L328.9 184.6L324.5 187.6L319.9 190.0L315.3 192.0L310.8 193.4L306.4 194.3L302.1 194.6L298.0 194.4L294.1 193.6L290.5 192.2L287.2 190.3M279.8 180.5L277.1 178.2L274.7 175.5L272.8 172.4L271.2 168.9L270.1 165.1L269.4 160.9L269.1 156.5L269.4 151.9L270.0 147.1L271.1 142.3L272.7 137.3L274.6 132.4L276.9 127.6L279.6 122.9L282.7 118.3L286.0 114.0L289.6 110.0L293.4 106.2L297.4 102.9L301.5 99.9L305.7 97.4L310.0 95.3L314.2 93.7L318.4 92.7L322.5 92.1L326.4 92.1L330.1 92.6L333.6 93.6L336.8 95.1L339.7 97.1L342.2 99.5L344.4 102.5L346.1 105.8L347.5 109.4L348.4 113.4L348.9 117.7L348.9 122.3L348.4 126.9L347.5 131.8L346.2 136.7L344.5 141.6L342.3 146.5L339.8 151.3L336.9 155.9L333.7 160.3L330.3 164.5L326.6 168.4L322.7 172.0L318.6 175.1L314.4 177.9L310.2 180.2L306.0 182.0L301.7 183.3L297.6 184.2L293.6 184.5L289.8 184.2L286.2 183.5L282.8 182.2L279.8 180.5M273.6 170.5L271.1 168.5L269.0 166.0L267.2 163.2L265.8 160.0L264.7 156.5L264.1 152.7L263.9 148.7L264.1 144.5L264.7 140.2L265.7 135.8L267.1 131.3L268.9 126.8L271.0 122.4L273.5 118.1L276.2 114.0L279.2 110.1L282.5 106.4L286.0 103.0L289.6 100.0L293.4 97.3L297.2 95.0L301.0 93.1L304.9 91.6L308.7 90.7L312.4 90.2L316.0 90.1L319.3 90.6L322.5 91.5L325.4 92.9L328.0 94.7L330.4 96.9L332.3 99.6L333.9 102.6L335.2 105.9L336.0 109.6L336.4 113.5L336.4 117.6L336.0 121.8L335.2 126.2L334.0 130.7L332.4 135.2L330.5 139.6L328.2 144.0L325.6 148.2L322.7 152.2L319.5 156.0L316.1 159.6L312.6 162.8L308.9 165.7L305.1 168.2L301.2 170.3L297.4 171.9L293.6 173.1L289.8 173.9L286.2 174.1L282.7 173.9L279.4 173.3L276.4 172.1L273.6 170.5M268.7 160.6L266.5 158.8L264.6 156.7L263.0 154.2L261.7 151.3L260.8 148.2L260.3 144.9L260.1 141.3L260.3 137.6L260.8 133.8L261.7 129.9L262.9 125.9L264.5 121.9L266.4 118.0L268.6 114.2L271.0 110.6L273.7 107.1L276.6 103.8L279.7 100.8L282.9 98.1L286.2 95.7L289.6 93.7L293.0 92.0L296.4 90.8L299.8 89.9L303.1 89.4L306.2 89.4L309.2 89.8L312.0 90.6L314.6 91.8L316.9 93.4L319.0 95.4L320.7 97.8L322.1 100.4L323.2 103.4L324.0 106.6L324.3 110.1L324.3 113.7L324.0 117.5L323.3 121.4L322.2 125.4L320.8 129.3L319.1 133.2L317.0 137.1L314.7 140.8L312.2 144.4L309.4 147.8L306.4 150.9L303.2 153.8L300.0 156.3L296.6 158.6L293.2 160.4L289.8 161.9L286.4 163.0L283.0 163.6L279.8 163.8L276.7 163.7L273.8 163.1L271.1 162.0L268.7 160.6M265.1 151.0L263.2 149.4L261.6 147.6L260.3 145.4L259.2 143.0L258.4 140.3L257.9 137.5L257.8 134.4L257.9 131.2L258.4 127.9L259.1 124.6L260.2 121.2L261.5 117.8L263.2 114.5L265.0 111.2L267.1 108.1L269.4 105.1L271.9 102.3L274.5 99.7L277.3 97.4L280.1 95.4L283.0 93.6L286.0 92.2L288.9 91.1L291.8 90.4L294.6 90.0L297.3 89.9L299.8 90.3L302.2 91.0L304.5 92.0L306.5 93.4L308.2 95.1L309.7 97.1L310.9 99.4L311.8 101.9L312.5 104.7L312.8 107.7L312.8 110.8L312.5 114.0L311.9 117.4L311.0 120.7L309.8 124.1L308.3 127.5L306.5 130.8L304.6 134.0L302.4 137.1L300.0 140.0L297.4 142.6L294.7 145.1L291.9 147.3L289.0 149.2L286.1 150.8L283.2 152.0L280.3 152.9L277.4 153.5L274.7 153.7L272.0 153.6L269.5 153.0L267.2 152.2L265.1 151.0M263.0 141.6L261.4 140.4L260.1 138.8L259.0 137.1L258.1 135.1L257.5 132.9L257.1 130.6L257.0 128.1L257.1 125.5L257.5 122.8L258.1 120.1L259.0 117.3L260.1 114.5L261.4 111.8L262.9 109.1L264.6 106.5L266.5 104.1L268.5 101.8L270.7 99.7L272.9 97.8L275.3 96.1L277.6 94.7L280.0 93.6L282.4 92.7L284.8 92.1L287.1 91.7L289.3 91.7L291.4 92.0L293.4 92.6L295.2 93.4L296.8 94.5L298.2 95.9L299.4 97.6L300.4 99.4L301.2 101.5L301.7 103.8L302.0 106.2L302.0 108.8L301.7 111.4L301.2 114.1L300.5 116.9L299.5 119.7L298.3 122.4L296.9 125.1L295.2 127.8L293.4 130.3L291.5 132.6L289.4 134.8L287.2 136.8L284.9 138.6L282.5 140.2L280.2 141.5L277.8 142.5L275.4 143.3L273.0 143.7L270.8 143.9L268.6 143.8L266.6 143.3L264.7 142.6L263.0 141.6M262.3 132.8L261.1 131.8L260.1 130.7L259.2 129.3L258.6 127.8L258.1 126.2L257.8 124.4L257.7 122.5L257.8 120.5L258.1 118.4L258.5 116.3L259.2 114.2L260.0 112.1L261.1 110.0L262.2 108.0L263.5 106.0L265.0 104.2L266.5 102.4L268.2 100.8L269.9 99.4L271.6 98.1L273.5 97.0L275.3 96.1L277.1 95.4L278.9 95.0L280.7 94.7L282.4 94.7L284.0 94.9L285.5 95.3L286.8 96.0L288.1 96.9L289.2 97.9L290.1 99.2L290.9 100.6L291.4 102.2L291.8 103.9L292.0 105.8L292.0 107.7L291.9 109.7L291.5 111.8L290.9 113.9L290.2 116.0L289.2 118.1L288.1 120.2L286.9 122.2L285.5 124.1L284.0 125.9L282.4 127.6L280.8 129.1L279.0 130.5L277.2 131.7L275.4 132.7L273.6 133.5L271.7 134.0L270.0 134.4L268.2 134.5L266.6 134.4L265.0 134.1L263.6 133.5L262.3 132.8M263.0 124.6L262.2 123.9L261.6 123.1L261.0 122.2L260.5 121.2L260.2 120.1L260.0 118.9L259.9 117.6L260.0 116.3L260.2 114.9L260.5 113.4L261.0 112.0L261.5 110.6L262.2 109.2L263.0 107.8L263.9 106.5L264.8 105.2L265.9 104.1L267.0 103.0L268.2 102.0L269.4 101.1L270.6 100.4L271.8 99.8L273.0 99.3L274.3 99.0L275.4 98.9L276.6 98.9L277.7 99.0L278.7 99.3L279.6 99.7L280.4 100.3L281.2 101.0L281.8 101.9L282.3 102.8L282.7 103.9L283.0 105.1L283.1 106.3L283.1 107.6L283.0 109.0L282.7 110.4L282.3 111.8L281.8 113.3L281.2 114.7L280.5 116.1L279.6 117.4L278.7 118.7L277.7 119.9L276.6 121.1L275.5 122.1L274.3 123.0L273.1 123.8L271.9 124.5L270.6 125.0L269.4 125.4L268.2 125.6L267.1 125.7L265.9 125.7L264.9 125.4L263.9 125.1L263.0 124.6M265.2 117.1L264.8 116.7L264.5 116.3L264.2 115.9L264.0 115.4L263.8 114.8L263.7 114.2L263.7 113.6L263.7 112.9L263.8 112.2L264.0 111.5L264.2 110.7L264.5 110.0L264.8 109.3L265.2 108.6L265.6 108.0L266.1 107.3L266.7 106.7L267.2 106.2L267.8 105.7L268.4 105.3L269.0 104.9L269.6 104.6L270.3 104.4L270.9 104.2L271.5 104.1L272.0 104.1L272.6 104.2L273.1 104.3L273.6 104.6L274.0 104.8L274.4 105.2L274.7 105.6L274.9 106.1L275.1 106.7L275.3 107.2L275.3 107.9L275.3 108.5L275.3 109.2L275.1 109.9L275.0 110.6L274.7 111.4L274.4 112.1L274.0 112.8L273.6 113.5L273.1 114.1L272.6 114.7L272.1 115.3L271.5 115.8L270.9 116.3L270.3 116.7L269.7 117.0L269.1 117.3L268.4 117.5L267.8 117.6L267.3 117.6L266.7 117.6L266.2 117.5L265.7 117.3L265.2 117.1M328.5 227.6L324.3 224.7L320.2 221.7L316.1 218.6L312.2 215.4L308.4 212.1L304.6 208.8L301.0 205.4L297.5 201.9L294.2 198.4L291.0 194.8L287.9 191.2L284.9 187.5L282.2 183.8L279.6 180.1L277.1 176.4L274.9 172.7L272.8 169.0L270.8 165.3L269.1 161.6L267.6 158.0L266.2 154.4L265.1 150.8L264.1 147.3L263.4 143.8L262.8 140.4L262.4 137.1L262.3 133.8L262.3 130.6L262.6 127.5L263.0 124.6M309.3 211.7L305.4 208.5L301.6 205.3L298.0 202.0L294.5 198.7L291.1 195.3L287.8 191.9L284.7 188.4L281.8 185.0L279.0 181.5L276.4 177.9L273.9 174.4L271.7 170.9L269.6 167.4L267.7 163.9L266.0 160.4L264.5 157.0L263.2 153.5L262.1 150.2L261.2 146.9L260.5 143.6L260.0 140.4L259.7 137.3L259.6 134.2L259.8 131.2L260.1 128.4L260.6 125.6L261.4 122.9M293.7 192.8L290.2 189.6L286.9 186.3L283.7 183.1L280.7 179.8L277.9 176.5L275.2 173.2L272.7 169.9L270.3 166.6L268.2 163.3L266.2 160.1L264.5 156.9L262.9 153.7L261.6 150.5L260.4 147.5L259.4 144.4L258.7 141.5L258.2 138.6L257.8 135.7L257.7 133.0L257.8 130.3L258.1 127.7L258.7 125.3L259.4 122.9L260.3 120.6M285.3 175.4L282.2 172.3L279.2 169.3L276.4 166.2L273.7 163.1L271.2 160.1L269.0 157.1L266.9 154.1L264.9 151.2L263.2 148.4L261.7 145.5L260.4 142.8L259.3 140.1L258.4 137.5L257.8 134.9L257.3 132.4L257.0 130.1L257.0 127.8L257.1 125.6L257.5 123.5L258.1 121.5L258.9 119.6L259.9 117.8M283.2 160.4L280.2 157.5L277.4 154.7L274.7 151.9L272.2 149.2L269.9 146.5L267.8 143.9L265.8 141.3L264.1 138.9L262.5 136.4L261.2 134.1L260.1 131.8L259.1 129.7L258.4 127.6L257.9 125.6L257.6 123.7L257.5 122.0L257.6 120.3L257.9 118.7L258.5 117.3L259.2 116.0L260.2 114.8M283.8 145.2L280.8 142.7L278.1 140.2L275.5 137.8L273.1 135.4L270.8 133.2L268.8 131.0L266.9 128.9L265.3 126.9L263.8 125.0L262.5 123.2L261.5 121.5L260.6 119.9L259.9 118.5L259.5 117.1L259.2 115.9L259.2 114.8L259.4 113.8L259.8 112.9L260.3 112.1L261.1 111.5M286.5 130.8L283.6 128.6L280.9 126.5L278.3 124.5L275.9 122.6L273.7 120.8L271.7 119.1L269.8 117.5L268.1 116.1L266.6 114.7L265.3 113.5L264.2 112.4L263.3 111.4L262.6 110.6L262.1 109.9L261.8 109.3L261.7 108.9L261.8 108.6L262.2 108.4L262.7 108.3M294.2 119.8L291.1 117.9L288.2 116.0L285.4 114.3L282.7 112.8L280.3 111.3L278.0 110.0L275.8 108.8L273.9 107.7L272.1 106.8L270.5 106.0L269.1 105.4L267.9 104.9L266.8 104.5L266.0 104.3L265.3 104.2L264.9 104.3L264.6 104.5L264.6 104.9L264.7 105.4M306.7 112.1L303.3 110.3L300.0 108.6L296.8 107.0L293.8 105.6L290.8 104.3L288.1 103.1L285.5 102.1L283.0 101.3L280.7 100.6L278.6 100.0L276.7 99.6L274.9 99.3L273.3 99.2L271.8 99.3L270.6 99.5L269.5 99.9L268.6 100.4L268.0 101.0L267.5 101.9L267.2 102.8M320.7 106.3L316.9 104.5L313.3 102.8L309.8 101.3L306.3 99.9L303.0 98.7L299.8 97.6L296.7 96.7L293.8 95.9L291.0 95.4L288.3 94.9L285.8 94.6L283.5 94.5L281.3 94.6L279.2 94.8L277.4 95.2L275.7 95.7L274.1 96.4L272.8 97.3L271.6 98.3L270.7 99.5L269.9 100.8M335.5 103.0L331.5 101.1L327.6 99.4L323.7 97.8L319.9 96.4L316.2 95.2L312.6 94.1L309.1 93.2L305.7 92.4L302.4 91.8L299.2 91.4L296.2 91.1L293.3 91.1L290.5 91.2L287.9 91.4L285.4 91.8L283.1 92.4L280.9 93.2L278.9 94.1L277.1 95.2L275.4 96.5L274.0 97.9L272.7 99.5M354.7 104.7L350.5 102.6L346.3 100.6L342.1 98.8L337.9 97.1L333.9 95.6L329.8 94.3L325.8 93.1L322.0 92.0L318.1 91.2L314.4 90.5L310.8 90.0L307.3 89.6L303.8 89.5L300.5 89.5L297.4 89.7L294.3 90.0L291.4 90.5L288.7 91.2L286.1 92.1L283.6 93.1L281.3 94.3L279.2 95.7L277.2 97.2L275.4 98.9M377.9 112.7L373.6 110.1L369.2 107.7L364.9 105.5L360.5 103.3L356.1 101.3L351.8 99.5L347.5 97.8L343.2 96.3L338.9 94.9L334.7 93.7L330.5 92.7L326.5 91.8L322.4 91.1L318.5 90.5L314.6 90.2L310.9 90.0L307.2 90.0L303.7 90.1L300.3 90.4L297.0 90.9L293.8 91.6L290.8 92.4L287.9 93.4L285.1 94.6L282.6 95.9L280.2 97.4L277.9 99.0M399.5 125.0L395.3 122.1L391.1 119.3L386.7 116.6L382.4 114.1L378.0 111.6L373.5 109.3L369.0 107.1L364.6 105.1L360.1 103.2L355.6 101.4L351.1 99.8L346.7 98.4L342.2 97.1L337.9 95.9L333.5 94.9L329.3 94.1L325.1 93.5L320.9 93.0L316.9 92.7L312.9 92.5L309.1 92.5L305.3 92.7L301.7 93.0L298.2 93.5L294.8 94.2L291.5 95.0L288.4 96.0L285.5 97.2L282.7 98.5L280.0 100.0M414.5 138.0L410.5 135.0L406.4 132.0L402.2 129.1L397.9 126.3L393.6 123.5L389.1 120.9L384.7 118.4L380.2 116.1L375.6 113.8L371.0 111.6L366.4 109.6L361.8 107.8L357.2 106.0L352.6 104.4L348.0 102.9L343.5 101.6L339.0 100.5L334.5 99.4L330.1 98.6L325.8 97.9L321.5 97.3L317.3 96.9L313.2 96.7L309.2 96.6L305.3 96.7L301.5 96.9L297.9 97.3L294.3 97.9L291.0 98.6L287.7 99.5L284.6 100.5L281.7 101.7M430.1 156.9L426.5 153.7L422.7 150.6L418.8 147.5L414.9 144.5L410.8 141.5L406.6 138.6L402.3 135.8L397.9 133.0L393.5 130.3L389.0 127.8L384.4 125.3L379.8 122.9L375.2 120.6L370.5 118.5L365.8 116.4L361.1 114.5L356.4 112.7L351.8 111.0L347.1 109.5L342.5 108.0L337.9 106.8L333.3 105.6L328.9 104.6L324.4 103.7L320.1 103.0L315.9 102.4L311.7 102.0L307.6 101.7L303.7 101.6L299.9 101.6L296.1 101.8L292.6 102.1L289.1 102.6L285.9 103.2L282.7 103.9M438.5 174.3L435.2 171.2L431.7 168.1L428.1 165.0L424.4 162.0L420.5 159.0L416.5 156.0L412.4 153.0L408.2 150.1L404.0 147.3L399.6 144.5L395.1 141.8L390.6 139.1L386.0 136.5L381.4 134.0L376.8 131.5L372.1 129.2L367.4 126.9L362.6 124.8L357.9 122.7L353.2 120.8L348.5 118.9L343.8 117.2L339.2 115.6L334.6 114.1L330.0 112.7L325.6 111.5L321.2 110.4L316.9 109.4L312.6 108.6L308.5 107.9L304.5 107.3L300.6 106.8L296.8 106.5L293.2 106.4L289.7 106.3L286.3 106.5L283.1 106.7M440.6 189.3L437.4 186.4L434.1 183.5L430.6 180.6L427.0 177.7L423.2 174.7L419.4 171.8L415.4 168.9L411.3 166.0L407.1 163.1L402.8 160.2L398.5 157.3L394.0 154.5L389.5 151.7L384.9 149.0L380.3 146.3L375.7 143.7L371.0 141.2L366.3 138.7L361.6 136.3L356.9 133.9L352.2 131.7L347.5 129.5L342.9 127.5L338.3 125.5L333.7 123.6L329.2 121.8L324.8 120.2L320.5 118.6L316.2 117.2L312.0 115.9L307.9 114.7L303.9 113.6L300.1 112.6L296.4 111.8L292.8 111.1L289.3 110.5L286.0 110.1L282.9 109.8M440.0 204.5L437.0 201.9L433.7 199.2L430.3 196.5L426.8 193.7L423.2 190.9L419.4 188.1L415.5 185.2L411.5 182.4L407.4 179.5L403.2 176.6L398.9 173.6L394.6 170.7L390.2 167.8L385.7 165.0L381.2 162.1L376.6 159.3L372.0 156.5L367.4 153.7L362.8 151.0L358.2 148.3L353.5 145.7L348.9 143.1L344.4 140.6L339.8 138.2L335.3 135.8L330.9 133.6L326.5 131.4L322.2 129.3L318.0 127.3L313.8 125.3L309.8 123.5L305.9 121.8L302.0 120.2L298.3 118.7L294.8 117.3L291.3 116.1L288.1 114.9L284.9 113.9L281.9 113.0M437.3 218.9L434.2 216.6L431.0 214.2L427.7 211.8L424.2 209.2L420.6 206.6L416.9 204.0L413.1 201.2L409.1 198.5L405.1 195.6L401.0 192.8L396.8 189.9L392.5 186.9L388.2 184.0L383.8 181.0L379.4 178.0L375.0 175.0L370.5 172.0L366.0 169.0L361.5 166.1L356.9 163.1L352.4 160.2L348.0 157.3L343.5 154.4L339.1 151.6L334.7 148.8L330.4 146.0L326.2 143.4L322.0 140.8L317.9 138.2L313.9 135.8L310.0 133.4L306.2 131.1L302.5 128.9L298.9 126.7L295.5 124.7L292.1 122.8L289.0 121.0L286.0 119.3L283.1 117.7L280.4 116.2M429.6 229.9L426.4 227.8L423.1 225.7L419.6 223.4L416.0 221.1L412.3 218.6L408.5 216.1L404.6 213.5L400.6 210.8L396.6 208.0L392.4 205.1L388.3 202.2L384.0 199.3L379.7 196.3L375.4 193.2L371.0 190.1L366.7 187.0L362.3 183.9L357.9 180.7L353.5 177.5L349.2 174.3L344.8 171.2L340.5 168.0L336.3 164.8L332.1 161.7L327.9 158.6L323.9 155.5L319.9 152.5L315.9 149.5L312.1 146.5L308.4 143.7L304.8 140.8L301.3 138.1L297.9 135.4L294.7 132.8L291.6 130.3L288.6 127.9L285.8 125.5L283.2 123.3L280.7 121.2L278.3 119.2M417.1 237.6L413.6 235.6L410.0 233.5L406.2 231.3L402.4 229.0L398.5 226.6L394.5 224.0L390.5 221.4L386.4 218.7L382.2 215.8L378.0 212.9L373.8 209.9L369.6 206.9L365.3 203.8L361.0 200.6L356.8 197.4L352.5 194.1L348.3 190.8L344.0 187.4L339.9 184.1L335.7 180.7L331.6 177.3L327.6 173.9L323.7 170.5L319.8 167.1L316.0 163.7L312.3 160.3L308.7 157.0L305.3 153.7L301.9 150.5L298.6 147.3L295.5 144.1L292.5 141.1L289.7 138.0L287.0 135.1L284.5 132.2L282.1 129.5L279.8 126.8L277.8 124.2L275.9 121.7M403.1 243.4L399.3 241.4L395.4 239.3L391.5 237.1L387.5 234.8L383.4 232.3L379.3 229.7L375.1 227.0L371.0 224.2L366.8 221.3L362.6 218.3L358.4 215.2L354.2 212.1L350.0 208.8L345.8 205.5L341.7 202.1L337.6 198.7L333.6 195.2L329.6 191.7L325.7 188.2L321.9 184.6L318.1 181.0L314.4 177.4L310.9 173.7L307.4 170.1L304.0 166.5L300.8 162.9L297.7 159.4L294.7 155.8L291.8 152.3L289.1 148.9L286.6 145.5L284.2 142.2L281.9 138.9L279.8 135.7L277.9 132.6L276.2 129.5L274.6 126.6L273.2 123.7M388.3 246.7L384.2 244.7L380.2 242.6L376.0 240.3L371.9 237.8L367.7 235.3L363.5 232.6L359.3 229.8L355.1 226.9L350.9 223.9L346.7 220.8L342.6 217.6L338.5 214.3L334.5 210.9L330.5 207.5L326.6 204.0L322.7 200.4L319.0 196.8L315.3 193.1L311.7 189.4L308.2 185.7L304.8 182.0L301.6 178.2L298.4 174.4L295.4 170.6L292.6 166.9L289.8 163.1L287.2 159.4L284.8 155.7L282.5 152.1L280.4 148.5L278.5 144.9L276.7 141.4L275.1 138.0L273.6 134.6L272.4 131.4L271.3 128.2L270.4 125.1M369.1 245.0L364.8 242.7L360.6 240.3L356.3 237.8L352.1 235.1L347.9 232.3L343.7 229.4L339.5 226.4L335.4 223.3L331.4 220.1L327.4 216.8L323.4 213.4L319.6 209.9L315.8 206.4L312.2 202.7L308.6 199.1L305.1 195.4L301.8 191.6L298.6 187.8L295.5 184.0L292.5 180.2L289.7 176.3L287.0 172.5L284.5 168.6L282.2 164.8L280.0 161.0L277.9 157.2L276.1 153.5L274.4 149.8L272.9 146.1L271.5 142.5L270.4 139.0L269.4 135.5L268.7 132.2L268.1 128.9L267.7 125.7M345.9 237.0L341.6 234.4L337.4 231.6L333.2 228.7L329.1 225.6L325.0 222.5L321.0 219.3L317.1 216.0L313.3 212.6L309.6 209.2L306.0 205.6L302.4 202.0L299.1 198.4L295.8 194.7L292.7 191.0L289.7 187.2L286.9 183.4L284.2 179.6L281.7 175.7L279.3 171.9L277.1 168.1L275.1 164.3L273.3 160.5L271.6 156.8L270.1 153.0L268.8 149.4L267.7 145.7L266.8 142.2L266.1 138.7L265.6 135.3L265.2 131.9L265.1 128.7L265.2 125.5M397.7 123.8L397.1 123.4L396.4 123.1L395.6 122.9L394.7 122.8L393.7 122.9L392.7 123.1L391.5 123.4L390.1 123.7L388.7 124.2L387.2 124.8L385.6 125.4L383.8 126.1L382.0 126.9L380.1 127.7L378.0 128.6L375.8 129.6L373.6 130.5L371.2 131.5L368.8 132.5L366.2 133.5L363.6 134.6L360.9 135.6L358.1 136.6L355.3 137.6L352.4 138.6L349.4 139.5L346.4 140.4L343.4 141.2L340.3 142.0L337.2 142.7L334.0 143.4L330.9 144.0L327.7 144.5L324.6 144.9L321.5 145.2L318.3 145.5L315.3 145.7L312.2 145.7L309.2 145.7L306.2 145.6L303.3 145.4L300.5 145.1L297.7 144.7L295.1 144.2L292.5 143.6L290.0 142.9L287.6 142.1L285.3 141.2L283.1 140.2L281.0 139.2L279.1 138.1L277.3 136.9L275.6 135.7L274.1 134.4L272.6 133.0L271.4 131.6L270.2 130.2L269.2 128.7L268.4 127.2L267.7 125.7M406.5 130.6L405.7 130.5L404.8 130.5L403.8 130.6L402.6 130.8L401.4 131.1L400.0 131.5L398.6 132.0L397.0 132.6L395.3 133.2L393.5 134.0L391.6 134.8L389.5 135.6L387.4 136.5L385.1 137.5L382.8 138.5L380.3 139.5L377.8 140.5L375.1 141.6L372.4 142.6L369.6 143.6L366.7 144.7L363.7 145.7L360.6 146.6L357.5 147.6L354.4 148.5L351.2 149.3L347.9 150.1L344.6 150.8L341.3 151.5L338.0 152.1L334.6 152.6L331.3 153.0L328.0 153.3L324.6 153.6L321.3 153.7L318.1 153.8L314.8 153.7L311.6 153.6L308.5 153.3L305.4 153.0L302.4 152.5L299.5 152.0L296.7 151.3L293.9 150.6L291.2 149.8L288.7 148.8L286.2 147.8L283.9 146.7L281.7 145.5L279.6 144.2L277.6 142.9L275.8 141.5L274.1 140.1L272.5 138.6L271.1 137.0L269.8 135.4L268.7 133.8L267.7 132.2L266.9 130.5L266.2 128.8L265.6 127.2L265.2 125.5M415.3 138.6L414.3 138.6L413.3 138.8L412.1 139.0L410.8 139.3L409.4 139.8L407.9 140.3L406.3 140.9L404.5 141.6L402.7 142.4L400.7 143.2L398.6 144.1L396.4 145.0L394.1 146.0L391.6 147.0L389.1 148.0L386.4 149.0L383.7 150.1L380.8 151.1L377.9 152.2L374.9 153.2L371.8 154.2L368.6 155.2L365.4 156.2L362.1 157.1L358.7 157.9L355.3 158.7L351.9 159.4L348.4 160.1L344.9 160.6L341.4 161.1L337.9 161.5L334.4 161.9L330.9 162.1L327.4 162.2L323.9 162.2L320.4 162.2L317.0 162.0L313.7 161.7L310.4 161.3L307.2 160.8L304.0 160.2L300.9 159.5L297.9 158.7L295.0 157.8L292.2 156.8L289.5 155.7L286.9 154.5L284.5 153.3L282.1 151.9L279.9 150.5L277.8 149.0L275.8 147.4L274.0 145.8L272.3 144.1L270.7 142.4L269.3 140.7L268.1 138.9L266.9 137.1L266.0 135.3L265.1 133.4L264.4 131.6L263.9 129.8L263.5 128.0L263.2 126.3L263.0 124.6M423.3 147.2L422.2 147.4L421.0 147.6L419.7 148.0L418.3 148.5L416.7 149.0L415.0 149.7L413.3 150.4L411.4 151.2L409.3 152.0L407.2 152.9L404.9 153.9L402.5 154.8L400.0 155.9L397.4 156.9L394.7 158.0L391.9 159.0L388.9 160.1L385.9 161.1L382.8 162.2L379.6 163.2L376.3 164.2L373.0 165.1L369.6 166.0L366.1 166.8L362.5 167.6L359.0 168.3L355.3 169.0L351.7 169.5L348.0 170.0L344.3 170.4L340.7 170.7L337.0 170.9L333.3 171.0L329.6 171.0L326.0 170.9L322.4 170.7L318.9 170.3L315.4 169.9L311.9 169.4L308.5 168.7L305.2 168.0L302.0 167.1L298.9 166.1L295.9 165.0L292.9 163.9L290.1 162.6L287.4 161.2L284.8 159.8L282.3 158.3L280.0 156.7L277.8 155.0L275.7 153.2L273.7 151.4L271.9 149.6L270.3 147.7L268.7 145.8L267.4 143.8L266.1 141.9L265.0 139.9L264.1 137.9L263.3 135.9L262.6 133.9L262.1 132.0L261.7 130.1L261.4 128.2L261.3 126.4L261.3 124.6L261.4 122.9M429.2 156.6L427.9 157.0L426.4 157.5L424.9 158.1L423.2 158.7L421.4 159.5L419.5 160.3L417.4 161.1L415.2 162.0L412.9 163.0L410.5 164.0L407.9 165.0L405.3 166.1L402.5 167.1L399.6 168.2L396.6 169.3L393.5 170.3L390.3 171.3L387.0 172.4L383.7 173.3L380.2 174.3L376.7 175.2L373.1 176.0L369.5 176.8L365.8 177.5L362.0 178.1L358.3 178.6L354.5 179.1L350.6 179.5L346.8 179.7L343.0 179.9L339.1 180.0L335.3 179.9L331.5 179.8L327.8 179.5L324.0 179.1L320.3 178.7L316.7 178.1L313.1 177.4L309.6 176.5L306.2 175.6L302.9 174.5L299.7 173.4L296.5 172.1L293.5 170.8L290.5 169.3L287.7 167.8L285.0 166.1L282.4 164.4L280.0 162.6L277.7 160.8L275.5 158.8L273.5 156.8L271.6 154.8L269.8 152.7L268.2 150.6L266.7 148.5L265.4 146.3L264.2 144.2L263.2 142.0L262.3 139.9L261.5 137.7L260.9 135.6L260.4 133.5L260.0 131.5L259.8 129.5L259.7 127.6L259.7 125.7L259.8 123.9L260.0 122.2L260.3 120.6M433.9 166.6L432.4 167.2L430.7 167.9L428.9 168.7L426.9 169.5L424.8 170.4L422.6 171.3L420.3 172.3L417.9 173.3L415.3 174.3L412.6 175.3L409.8 176.4L406.8 177.5L403.8 178.5L400.6 179.6L397.4 180.6L394.1 181.6L390.6 182.6L387.1 183.5L383.5 184.4L379.8 185.2L376.1 186.0L372.3 186.7L368.5 187.3L364.6 187.8L360.7 188.2L356.8 188.6L352.8 188.8L348.8 188.9L344.9 189.0L340.9 188.9L337.0 188.7L333.1 188.4L329.2 188.0L325.3 187.4L321.5 186.8L317.8 186.0L314.1 185.1L310.5 184.1L307.0 183.0L303.6 181.7L300.3 180.4L297.0 178.9L293.9 177.4L290.9 175.7L288.0 174.0L285.2 172.1L282.5 170.2L280.0 168.2L277.6 166.2L275.4 164.1L273.3 161.9L271.3 159.6L269.5 157.4L267.8 155.1L266.2 152.8L264.8 150.4L263.6 148.1L262.4 145.7L261.5 143.4L260.6 141.1L259.9 138.8L259.3 136.6L258.9 134.4L258.6 132.2L258.4 130.1L258.3 128.1L258.3 126.2L258.4 124.3L258.7 122.5L259.0 120.9L259.4 119.3L259.9 117.8M439.1 176.4L437.4 177.1L435.6 177.9L433.7 178.7L431.6 179.6L429.4 180.5L427.1 181.5L424.6 182.5L422.0 183.5L419.3 184.6L416.5 185.7L413.5 186.7L410.5 187.8L407.3 188.8L404.0 189.9L400.6 190.8L397.2 191.8L393.6 192.7L390.0 193.6L386.2 194.4L382.4 195.1L378.6 195.8L374.7 196.4L370.7 196.9L366.7 197.3L362.7 197.6L358.6 197.8L354.6 197.9L350.5 197.9L346.4 197.7L342.4 197.5L338.3 197.2L334.3 196.7L330.3 196.1L326.4 195.4L322.5 194.5L318.7 193.6L315.0 192.5L311.3 191.3L307.7 189.9L304.2 188.5L300.8 187.0L297.5 185.3L294.3 183.5L291.2 181.7L288.3 179.7L285.4 177.7L282.7 175.6L280.2 173.4L277.7 171.1L275.4 168.8L273.2 166.4L271.2 164.0L269.3 161.5L267.6 159.0L266.0 156.5L264.5 154.0L263.2 151.5L262.0 148.9L261.0 146.4L260.1 143.9L259.3 141.5L258.7 139.1L258.2 136.7L257.8 134.4L257.5 132.1L257.4 130.0L257.3 127.9L257.4 125.8L257.6 123.9L257.8 122.1L258.1 120.4L258.6 118.8L259.0 117.3L259.6 116.0L260.2 114.8M441.6 187.0L439.7 187.8L437.7 188.7L435.5 189.6L433.2 190.6L430.7 191.6L428.2 192.6L425.5 193.7L422.6 194.7L419.7 195.8L416.6 196.8L413.5 197.9L410.2 198.9L406.8 199.9L403.3 200.8L399.7 201.7L396.0 202.6L392.3 203.3L388.4 204.0L384.5 204.7L380.6 205.2L376.6 205.7L372.5 206.1L368.4 206.4L364.3 206.5L360.2 206.6L356.0 206.5L351.8 206.4L347.7 206.1L343.6 205.7L339.5 205.1L335.4 204.5L331.3 203.7L327.3 202.8L323.4 201.8L319.5 200.6L315.7 199.3L312.0 197.9L308.4 196.4L304.8 194.8L301.4 193.0L298.1 191.1L294.8 189.2L291.7 187.1L288.7 184.9L285.9 182.7L283.1 180.4L280.5 178.0L278.0 175.5L275.7 173.0L273.5 170.4L271.4 167.8L269.5 165.1L267.8 162.4L266.1 159.7L264.6 157.0L263.3 154.3L262.1 151.6L261.0 148.9L260.1 146.2L259.3 143.6L258.6 141.0L258.0 138.5L257.6 136.0L257.3 133.6L257.1 131.2L257.0 129.0L257.0 126.8L257.1 124.8L257.3 122.8L257.5 121.0L257.9 119.2L258.3 117.6L258.7 116.1L259.3 114.8L259.9 113.6L260.5 112.5L261.1 111.5M440.8 198.4L438.6 199.4L436.2 200.4L433.7 201.4L431.0 202.4L428.2 203.5L425.3 204.5L422.3 205.6L419.1 206.6L415.8 207.6L412.4 208.6L409.0 209.5L405.4 210.4L401.7 211.2L397.9 211.9L394.1 212.6L390.2 213.2L386.2 213.8L382.2 214.2L378.1 214.6L374.0 214.8L369.8 214.9L365.6 214.9L361.4 214.9L357.2 214.6L353.0 214.3L348.8 213.9L344.6 213.3L340.5 212.6L336.3 211.7L332.3 210.7L328.2 209.6L324.3 208.4L320.4 207.0L316.5 205.6L312.8 203.9L309.1 202.2L305.6 200.4L302.1 198.4L298.8 196.3L295.5 194.1L292.4 191.9L289.4 189.5L286.5 187.1L283.8 184.5L281.2 181.9L278.7 179.2L276.3 176.5L274.1 173.7L272.1 170.9L270.2 168.1L268.4 165.2L266.7 162.3L265.2 159.4L263.9 156.5L262.7 153.6L261.6 150.7L260.6 147.9L259.8 145.1L259.1 142.3L258.5 139.6L258.1 137.0L257.7 134.4L257.5 132.0L257.3 129.6L257.3 127.3L257.3 125.1L257.5 123.0L257.7 121.0L258.0 119.1L258.3 117.4L258.7 115.8L259.2 114.3L259.7 112.9L260.2 111.7L260.8 110.7L261.4 109.7L262.0 109.0L262.7 108.3M441.0 208.7L438.5 209.7L435.9 210.8L433.2 211.8L430.3 212.8L427.3 213.9L424.2 214.9L421.0 215.8L417.7 216.8L414.2 217.7L410.7 218.6L407.0 219.4L403.3 220.1L399.5 220.7L395.6 221.3L391.6 221.8L387.6 222.2L383.5 222.5L379.3 222.8L375.2 222.9L371.0 222.8L366.7 222.7L362.5 222.4L358.3 222.1L354.0 221.6L349.8 220.9L345.6 220.2L341.4 219.3L337.3 218.2L333.2 217.1L329.2 215.8L325.2 214.3L321.3 212.8L317.5 211.1L313.7 209.2L310.1 207.3L306.5 205.2L303.1 203.1L299.8 200.8L296.5 198.4L293.4 195.9L290.4 193.4L287.6 190.7L284.8 188.0L282.2 185.1L279.8 182.3L277.5 179.4L275.3 176.4L273.2 173.4L271.3 170.3L269.6 167.3L267.9 164.2L266.5 161.1L265.1 158.0L263.9 155.0L262.8 151.9L261.9 148.9L261.0 146.0L260.3 143.1L259.7 140.2L259.3 137.4L258.9 134.7L258.6 132.1L258.5 129.6L258.4 127.1L258.4 124.8L258.5 122.6L258.7 120.5L258.9 118.5L259.2 116.6L259.6 114.9L260.0 113.3L260.5 111.9L260.9 110.5L261.4 109.4L262.0 108.3L262.5 107.5L263.1 106.7L263.6 106.1L264.2 105.7L264.7 105.4M434.8 220.6L431.9 221.6L428.8 222.5L425.7 223.5L422.4 224.4L419.0 225.3L415.5 226.2L412.0 226.9L408.3 227.6L404.5 228.3L400.6 228.8L396.7 229.3L392.7 229.7L388.7 230.0L384.6 230.1L380.4 230.2L376.2 230.2L372.0 230.0L367.8 229.7L363.5 229.3L359.3 228.7L355.1 228.0L350.8 227.2L346.7 226.3L342.5 225.2L338.4 223.9L334.3 222.6L330.3 221.1L326.3 219.4L322.5 217.7L318.7 215.8L315.0 213.8L311.3 211.6L307.8 209.4L304.4 207.0L301.1 204.5L297.9 201.9L294.9 199.2L291.9 196.4L289.1 193.6L286.4 190.7L283.9 187.7L281.4 184.6L279.2 181.5L277.0 178.3L275.0 175.1L273.1 171.9L271.4 168.7L269.8 165.4L268.4 162.2L267.1 158.9L265.9 155.7L264.8 152.5L263.9 149.4L263.1 146.3L262.4 143.2L261.8 140.2L261.3 137.3L261.0 134.5L260.7 131.7L260.5 129.1L260.5 126.5L260.5 124.1L260.5 121.7L260.7 119.5L260.9 117.4L261.1 115.5L261.5 113.6L261.8 111.9L262.2 110.4L262.6 109.0L263.1 107.7L263.5 106.6L264.0 105.6L264.5 104.8L265.0 104.1L265.5 103.6L265.9 103.2L266.4 102.9L266.8 102.8L267.2 102.8M426.7 231.4L423.5 232.2L420.1 233.1L416.6 233.8L413.0 234.5L409.3 235.1L405.5 235.6L401.6 236.1L397.7 236.4L393.7 236.7L389.6 236.8L385.5 236.9L381.4 236.8L377.2 236.6L373.0 236.3L368.8 235.8L364.6 235.2L360.4 234.5L356.2 233.6L352.0 232.6L347.8 231.5L343.7 230.2L339.6 228.8L335.6 227.3L331.7 225.6L327.8 223.7L323.9 221.8L320.2 219.7L316.5 217.5L313.0 215.1L309.5 212.7L306.2 210.1L302.9 207.4L299.8 204.6L296.8 201.7L293.9 198.8L291.2 195.7L288.6 192.6L286.1 189.4L283.7 186.2L281.5 182.9L279.4 179.6L277.5 176.2L275.7 172.8L274.0 169.4L272.5 166.0L271.1 162.6L269.8 159.2L268.6 155.9L267.6 152.5L266.7 149.2L266.0 146.0L265.3 142.8L264.7 139.7L264.3 136.7L263.9 133.7L263.7 130.9L263.5 128.1L263.4 125.5L263.4 122.9L263.5 120.5L263.6 118.2L263.8 116.0L264.1 113.9L264.3 112.0L264.7 110.3L265.0 108.6L265.4 107.1L265.8 105.8L266.2 104.6L266.6 103.5L267.0 102.6L267.4 101.9L267.8 101.3L268.2 100.8L268.6 100.5L268.9 100.3L269.2 100.2L269.5 100.3L269.7 100.5L269.9 100.8M410.1 241.7L406.3 242.1L402.5 242.4L398.6 242.7L394.6 242.8L390.6 242.8L386.5 242.7L382.4 242.5L378.3 242.1L374.1 241.6L370.0 241.0L365.8 240.3L361.6 239.4L357.5 238.3L353.4 237.2L349.3 235.9L345.2 234.4L341.2 232.8L337.3 231.0L333.4 229.2L329.5 227.1L325.8 225.0L322.1 222.7L318.6 220.3L315.1 217.8L311.7 215.1L308.5 212.4L305.3 209.5L302.3 206.5L299.4 203.5L296.6 200.3L293.9 197.1L291.4 193.8L289.0 190.5L286.7 187.1L284.6 183.6L282.6 180.1L280.7 176.6L279.0 173.1L277.4 169.5L275.9 166.0L274.6 162.4L273.4 158.9L272.3 155.4L271.3 152.0L270.5 148.6L269.8 145.2L269.2 142.0L268.6 138.7L268.2 135.6L267.9 132.6L267.7 129.6L267.5 126.8L267.4 124.0L267.4 121.4L267.5 118.9L267.6 116.5L267.8 114.3L268.0 112.1L268.3 110.2L268.6 108.3L268.9 106.6L269.2 105.1L269.6 103.7L269.9 102.4L270.3 101.3L270.6 100.4L271.0 99.5L271.3 98.9L271.6 98.3L271.9 98.0L272.1 97.7L272.3 97.6L272.5 97.6L272.6 97.8L272.7 98.0L272.7 98.4L272.7 98.9L272.7 99.5M339.3 233.9L335.5 231.9L331.8 229.7L328.2 227.4M314.5 216.8L311.4 213.9L308.3 210.8L305.4 207.7L302.6 204.5L299.9 201.2L297.4 197.8L295.0 194.3L292.7 190.8L290.5 187.3L288.5 183.7L286.6 180.1L284.8 176.4L283.2 172.7L281.6 169.1L280.3 165.4L279.0 161.8L277.9 158.1L276.9 154.6L276.0 151.0L275.2 147.5L274.5 144.1L274.0 140.7L273.5 137.4L273.1 134.2L272.8 131.1L272.6 128.1L272.5 125.1L272.5 122.3L272.5 119.7L272.5 117.1L272.7 114.7L272.8 112.4L273.0 110.2L273.3 108.2L273.5 106.3L273.8 104.6L274.1 103.0L274.4 101.5L274.7 100.2L275.0 99.1L275.3 98.1L275.6 97.3L275.8 96.6L276.0 96.0L276.2 95.6L276.4 95.3L276.5 95.1L276.6 95.1L276.6 95.2L276.6 95.4L276.5 95.8L276.4 96.2L276.2 96.7L276.0 97.4L275.7 98.1L275.4 98.9M282.4 153.3L281.6 149.7L280.9 146.1L280.3 142.6L279.8 139.1L279.4 135.8L279.0 132.5L278.8 129.4L278.6 126.3L278.5 123.3L278.5 120.5L278.5 117.8L278.6 115.2L278.7 112.7L278.9 110.4L279.1 108.2L279.3 106.2L279.5 104.3L279.8 102.5L280.0 100.9L280.3 99.5L280.6 98.2L280.8 97.0L281.0 96.0L281.2 95.2L281.4 94.4L281.5 93.9L281.6 93.4L281.7 93.1L281.7 92.9L281.7 92.9L281.6 93.0L281.5 93.2L281.3 93.5L281.1 93.9L280.8 94.4L280.4 95.0L280.0 95.7L279.6 96.4L279.1 97.2L278.5 98.1L277.9 99.0M286.2 134.0L285.9 130.7L285.7 127.6L285.6 124.5L285.5 121.5L285.5 118.7L285.6 115.9L285.7 113.3L285.8 110.9L285.9 108.5L286.1 106.4L286.3 104.3L286.5 102.4L286.8 100.7L287.0 99.1L287.2 97.6L287.4 96.4L287.6 95.2L287.7 94.2L287.8 93.4L287.9 92.6L288.0 92.1L288.0 91.6L288.0 91.3L287.9 91.2L287.8 91.1L287.6 91.2L287.3 91.4L287.0 91.7L286.7 92.1L286.3 92.6L285.8 93.1L285.3 93.8L284.7 94.5L284.0 95.3L283.3 96.2L282.6 97.1L281.8 98.0L280.9 99.0L280.0 100.0M293.5 122.7L293.5 119.7L293.5 116.9L293.5 114.2L293.6 111.6L293.8 109.2L293.9 106.9L294.1 104.7L294.3 102.7L294.5 100.9L294.6 99.2L294.8 97.6L295.0 96.2L295.1 94.9L295.2 93.8L295.3 92.8L295.4 92.0L295.4 91.3L295.3 90.8L295.3 90.4L295.1 90.1L294.9 89.9L294.7 89.9L294.4 90.0L294.0 90.2L293.6 90.5L293.1 90.9L292.6 91.4L292.0 92.0L291.3 92.6L290.6 93.4L289.8 94.1L288.9 95.0L288.0 95.9L287.1 96.8L286.1 97.7L285.0 98.7L283.9 99.7L282.8 100.7L281.7 101.7M302.4 112.8L302.5 110.2L302.6 107.8L302.8 105.6L302.9 103.5L303.1 101.5L303.2 99.7L303.4 98.1L303.5 96.5L303.6 95.2L303.7 94.0L303.7 92.9L303.7 92.0L303.7 91.2L303.6 90.6L303.5 90.1L303.3 89.7L303.0 89.5L302.7 89.4L302.4 89.4L301.9 89.5L301.4 89.8L300.9 90.1L300.3 90.5L299.6 91.0L298.8 91.6L298.0 92.3L297.1 93.0L296.2 93.8L295.2 94.6L294.1 95.5L293.0 96.4L291.8 97.3L290.6 98.3L289.4 99.3L288.1 100.2L286.8 101.2L285.5 102.1L284.1 103.0L282.7 103.9M312.1 109.2L312.2 106.9L312.3 104.8L312.5 102.7L312.6 100.8L312.7 99.1L312.8 97.5L312.9 96.1L312.9 94.8L312.9 93.7L312.9 92.7L312.8 91.8L312.7 91.1L312.5 90.6L312.2 90.2L311.9 89.9L311.6 89.7L311.2 89.6L310.7 89.7L310.1 89.9L309.5 90.1L308.8 90.5L308.0 91.0L307.1 91.5L306.2 92.1L305.3 92.8L304.2 93.6L303.1 94.4L301.9 95.2L300.7 96.1L299.4 97.0L298.1 97.9L296.7 98.9L295.3 99.8L293.8 100.8L292.4 101.7L290.8 102.6L289.3 103.5L287.8 104.4L286.2 105.2L284.7 106.0L283.1 106.7M322.5 104.5L322.6 102.6L322.7 100.8L322.8 99.2L322.8 97.7L322.8 96.3L322.8 95.2L322.7 94.1L322.6 93.2L322.4 92.5L322.2 91.9L321.9 91.4L321.5 91.0L321.1 90.8L320.6 90.7L320.1 90.7L319.4 90.9L318.7 91.1L317.9 91.4L317.1 91.9L316.1 92.4L315.1 93.0L314.1 93.6L312.9 94.4L311.7 95.1L310.4 96.0L309.1 96.8L307.7 97.7L306.2 98.6L304.7 99.6L303.1 100.5L301.5 101.4L299.9 102.4L298.2 103.3L296.5 104.2L294.8 105.0L293.1 105.9L291.4 106.7L289.6 107.4L287.9 108.1L286.2 108.7L284.5 109.3L282.9 109.8M333.3 103.2L333.3 101.5L333.3 100.0L333.3 98.6L333.2 97.4L333.1 96.3L333.0 95.4L332.7 94.6L332.5 94.0L332.1 93.5L331.7 93.1L331.2 92.8L330.7 92.7L330.0 92.7L329.3 92.8L328.5 93.0L327.7 93.3L326.7 93.7L325.7 94.2L324.6 94.8L323.4 95.4L322.2 96.2L320.8 96.9L319.4 97.7L318.0 98.6L316.4 99.5L314.8 100.4L313.2 101.3L311.5 102.3L309.7 103.2L307.9 104.1L306.1 105.0L304.2 105.9L302.4 106.8L300.4 107.7L298.5 108.5L296.6 109.2L294.7 109.9L292.8 110.6L290.9 111.2L289.0 111.7L287.2 112.1L285.4 112.5L283.6 112.8L281.9 113.0M344.3 104.5L344.2 103.0L344.2 101.6L344.1 100.4L343.9 99.3L343.7 98.4L343.5 97.6L343.1 96.9L342.7 96.4L342.3 96.0L341.7 95.7L341.1 95.6L340.4 95.6L339.6 95.7L338.8 95.9L337.8 96.2L336.8 96.6L335.7 97.0L334.5 97.6L333.2 98.3L331.8 99.0L330.4 99.7L328.9 100.5L327.3 101.4L325.6 102.3L323.9 103.2L322.1 104.1L320.3 105.1L318.4 106.0L316.4 107.0L314.4 107.9L312.4 108.8L310.3 109.7L308.2 110.5L306.1 111.4L304.0 112.1L301.9 112.9L299.7 113.5L297.6 114.1L295.6 114.7L293.5 115.1L291.5 115.5L289.5 115.8L287.5 116.1L285.6 116.2L283.8 116.3L282.1 116.3L280.4 116.2M355.3 105.4L355.2 104.2L355.0 103.1L354.8 102.2L354.5 101.4L354.1 100.7L353.6 100.2L353.1 99.8L352.5 99.5L351.8 99.4L351.1 99.4L350.2 99.5L349.3 99.7L348.3 100.0L347.1 100.4L345.9 100.8L344.7 101.4L343.3 102.0L341.8 102.8L340.3 103.5L338.6 104.3L336.9 105.2L335.1 106.1L333.3 107.0L331.3 108.0L329.3 108.9L327.3 109.9L325.1 110.8L323.0 111.8L320.8 112.7L318.5 113.6L316.3 114.5L314.0 115.3L311.7 116.1L309.3 116.8L307.0 117.5L304.7 118.1L302.4 118.7L300.1 119.2L297.8 119.6L295.6 119.9L293.4 120.2L291.3 120.3L289.2 120.4L287.2 120.4L285.2 120.3L283.4 120.2L281.6 119.9L279.9 119.6L278.3 119.2M366.2 107.7L365.9 106.8L365.6 106.0L365.2 105.3L364.7 104.8L364.1 104.4L363.4 104.2L362.7 104.0L361.9 104.0L361.0 104.1L359.9 104.3L358.8 104.7L357.7 105.1L356.4 105.6L355.0 106.1L353.5 106.8L351.9 107.5L350.3 108.3L348.5 109.1L346.7 110.0L344.8 110.9L342.8 111.8L340.7 112.8L338.6 113.8L336.4 114.8L334.1 115.7L331.8 116.7L329.4 117.6L327.0 118.5L324.5 119.4L322.0 120.3L319.5 121.1L317.0 121.8L314.5 122.5L311.9 123.2L309.4 123.7L306.9 124.2L304.4 124.6L301.9 125.0L299.5 125.2L297.1 125.4L294.8 125.5L292.5 125.5L290.3 125.4L288.2 125.3L286.1 125.0L284.2 124.7L282.3 124.2L280.5 123.7L278.9 123.1L277.3 122.5L275.9 121.7M377.1 112.1L376.7 111.4L376.2 110.7L375.7 110.3L375.1 109.9L374.4 109.7L373.6 109.6L372.7 109.6L371.7 109.7L370.6 109.9L369.4 110.2L368.2 110.7L366.8 111.2L365.3 111.8L363.7 112.4L362.1 113.2L360.3 114.0L358.5 114.8L356.5 115.7L354.5 116.6L352.3 117.6L350.1 118.6L347.9 119.6L345.5 120.5L343.1 121.5L340.6 122.5L338.1 123.5L335.5 124.4L332.9 125.3L330.2 126.2L327.5 127.0L324.8 127.8L322.0 128.5L319.3 129.1L316.5 129.7L313.8 130.2L311.1 130.6L308.4 131.0L305.7 131.2L303.1 131.4L300.5 131.5L298.0 131.5L295.5 131.4L293.1 131.2L290.8 131.0L288.6 130.6L286.4 130.2L284.4 129.6L282.4 129.0L280.6 128.3L278.9 127.5L277.3 126.7L275.8 125.8L274.4 124.8L273.2 123.7M387.6 117.5L387.1 116.9L386.5 116.5L385.9 116.1L385.1 115.9L384.3 115.8L383.3 115.9L382.3 116.0L381.2 116.3L379.9 116.6L378.6 117.1L377.1 117.6L375.6 118.2L373.9 118.9L372.1 119.7L370.3 120.5L368.3 121.3L366.3 122.3L364.1 123.2L361.9 124.2L359.5 125.2L357.1 126.2L354.6 127.2L352.1 128.2L349.4 129.2L346.7 130.2L344.0 131.1L341.2 132.0L338.3 132.9L335.5 133.7L332.6 134.5L329.6 135.2L326.7 135.9L323.7 136.5L320.8 137.0L317.8 137.4L314.9 137.8L312.0 138.0L309.2 138.2L306.3 138.3L303.6 138.3L300.9 138.2L298.2 138.0L295.6 137.7L293.1 137.3L290.7 136.8L288.4 136.3L286.2 135.6L284.0 134.9L282.0 134.1L280.1 133.2L278.3 132.2L276.7 131.2L275.2 130.0L273.8 128.9L272.5 127.7L271.4 126.4L270.4 125.1" stroke="#ef7c7c" stroke-width="1.1" fill="none"/>
<ellipse cx="305.4" cy="104" rx="11.5" ry="8.25" fill="url(#gr2)"/>
<ellipse cx="346.6" cy="117.4" rx="12.0" ry="9.25" fill="url(#gr2)"/>
<ellipse cx="291.5" cy="128.5" rx="12.0" ry="9.25" fill="url(#gr2)"/>
<ellipse cx="328" cy="134.8" rx="12.0" ry="9.0" fill="url(#gr2)"/>
<ellipse cx="314" cy="145" rx="11.75" ry="9.0" fill="url(#gr2)"/>
<ellipse cx="323.8" cy="161" rx="12.0" ry="9.0" fill="url(#gr2)"/>
<ellipse cx="333.8" cy="155.1" rx="12.2" ry="9.25" fill="url(#gr2)"/>
<ellipse cx="402.5" cy="157.6" rx="12.5" ry="9.5" fill="url(#gr2)"/>
<ellipse cx="360.4" cy="171" rx="12.0" ry="9.0" fill="url(#gr2)"/>
<ellipse cx="374.2" cy="171.1" rx="12.2" ry="9.25" fill="url(#gr2)"/>
<ellipse cx="349.8" cy="177" rx="12.0" ry="9.0" fill="url(#gr2)"/>
<ellipse cx="402.5" cy="186.2" rx="12.0" ry="9.0" fill="url(#gr2)"/>
<ellipse cx="337.7" cy="186.2" rx="12.0" ry="9.0" fill="url(#gr2)"/>
<ellipse cx="345.3" cy="193.8" rx="12.0" ry="9.0" fill="url(#gr2)"/>
<ellipse cx="390.2" cy="193.5" rx="12.0" ry="9.0" fill="url(#gr2)"/>
<ellipse cx="384" cy="203.6" rx="12.0" ry="9.0" fill="url(#gr2)"/>
<ellipse cx="298.5" cy="184.1" rx="11.5" ry="8.5" fill="url(#gr2)"/>
<ellipse cx="360" cy="215" rx="12.25" ry="9.25" fill="url(#gr2)"/>
<ellipse cx="405.5" cy="222.5" rx="12.0" ry="9.0" fill="url(#gr2)"/>
<ellipse cx="412" cy="247" rx="12.0" ry="9.0" fill="url(#gr2)"/>
<ellipse cx="166.5" cy="191.1" rx="12.3" ry="9.3" fill="url(#gb2)"/>
<ellipse cx="205.6" cy="209.4" rx="12.15" ry="9.25" fill="url(#gb2)"/>
<ellipse cx="237.2" cy="231.2" rx="12.0" ry="9.0" fill="url(#gb2)"/>
<ellipse cx="213.6" cy="230.4" rx="12.5" ry="9.4" fill="url(#gb2)"/>
<ellipse cx="236" cy="221.5" rx="11.8" ry="9.4" fill="url(#gb2)"/>
<ellipse cx="258.7" cy="229.2" rx="12.4" ry="9.4" fill="url(#gb2)"/>
<ellipse cx="275.5" cy="237.9" rx="12.0" ry="9.15" fill="url(#gb2)"/>
<ellipse cx="245.6" cy="267.6" rx="11.5" ry="8.5" fill="url(#gb2)"/>
<ellipse cx="255" cy="255.7" rx="12.8" ry="9.4" fill="url(#gb2)"/>
<ellipse cx="300.2" cy="254.5" rx="11.5" ry="8.5" fill="url(#gb2)"/>
<ellipse cx="315" cy="270" rx="12.0" ry="8.5" fill="url(#gb2)"/>
<ellipse cx="316.5" cy="263" rx="12.5" ry="9.5" fill="url(#gb2)"/>
<ellipse cx="311" cy="302.4" rx="12.0" ry="9.0" fill="url(#gb2)"/>
<ellipse cx="321.3" cy="307.5" rx="12.0" ry="9.0" fill="url(#gb2)"/>
<ellipse cx="345.7" cy="282.8" rx="11.0" ry="8.5" fill="url(#gb2)"/>
<path d="M374.4 347.2L374.0 346.9L373.8 346.5L373.6 346.1L373.4 345.7L373.3 345.2L373.2 344.7L373.2 344.2L373.3 343.6L373.4 343.1L373.6 342.5L373.8 341.9L374.0 341.4L374.4 340.8L374.7 340.3L375.1 339.8L375.5 339.3L376.0 338.8L376.5 338.4L377.0 338.0L377.5 337.7L378.0 337.5L378.6 337.3L379.1 337.1L379.6 337.0L380.1 337.0L380.6 337.0L381.0 337.1L381.4 337.3L381.8 337.5L382.1 337.8L382.4 338.1L382.7 338.5L382.9 338.9L383.0 339.3L383.1 339.8L383.1 340.3L383.1 340.9L383.0 341.4L382.9 342.0L382.7 342.6L382.4 343.2L382.1 343.7L381.8 344.3L381.4 344.8L381.0 345.3L380.6 345.8L380.1 346.2L379.6 346.6L379.1 346.9L378.6 347.2L378.0 347.4L377.5 347.6L377.0 347.7L376.5 347.8L376.0 347.8L375.5 347.7L375.1 347.6L374.7 347.4L374.4 347.2M366.8 348.8L366.2 348.2L365.7 347.6L365.2 346.8L364.9 345.9L364.7 345.0L364.6 344.0L364.6 342.9L364.7 341.9L364.9 340.7L365.2 339.6L365.7 338.5L366.2 337.3L366.8 336.2L367.5 335.2L368.3 334.1L369.2 333.2L370.1 332.3L371.1 331.5L372.1 330.7L373.1 330.1L374.1 329.6L375.2 329.2L376.2 328.9L377.2 328.7L378.2 328.7L379.1 328.7L380.0 328.9L380.8 329.2L381.6 329.7L382.2 330.2L382.8 330.8L383.3 331.6L383.7 332.4L384.0 333.3L384.1 334.3L384.2 335.3L384.1 336.4L384.0 337.5L383.7 338.6L383.3 339.7L382.8 340.9L382.2 342.0L381.6 343.1L380.8 344.1L380.0 345.1L379.1 346.0L378.2 346.9L377.2 347.6L376.2 348.3L375.2 348.9L374.1 349.4L373.1 349.7L372.1 349.9L371.1 350.1L370.1 350.0L369.2 349.9L368.3 349.7L367.5 349.3L366.8 348.8M357.0 348.4L356.1 347.5L355.3 346.5L354.7 345.4L354.2 344.1L353.8 342.7L353.7 341.2L353.7 339.7L353.8 338.1L354.2 336.4L354.7 334.7L355.3 333.1L356.1 331.4L357.0 329.8L358.1 328.2L359.2 326.7L360.5 325.2L361.8 323.9L363.3 322.7L364.7 321.7L366.2 320.7L367.8 320.0L369.3 319.4L370.8 318.9L372.3 318.7L373.8 318.6L375.2 318.7L376.5 319.0L377.7 319.4L378.8 320.1L379.8 320.8L380.6 321.8L381.3 322.9L381.9 324.1L382.3 325.4L382.5 326.8L382.6 328.4L382.5 329.9L382.3 331.6L381.9 333.2L381.3 334.9L380.6 336.6L379.7 338.2L378.8 339.8L377.7 341.4L376.4 342.8L375.1 344.2L373.8 345.5L372.3 346.6L370.8 347.6L369.3 348.4L367.8 349.1L366.2 349.6L364.7 350.0L363.2 350.2L361.8 350.1L360.5 350.0L359.2 349.6L358.0 349.1L357.0 348.4M345.1 345.8L343.9 344.7L342.8 343.4L342.0 341.9L341.4 340.2L341.0 338.4L340.7 336.5L340.7 334.5L341.0 332.4L341.4 330.2L342.0 328.0L342.9 325.8L343.9 323.7L345.1 321.5L346.5 319.5L348.0 317.5L349.6 315.7L351.4 313.9L353.2 312.4L355.2 311.0L357.1 309.8L359.1 308.8L361.2 308.0L363.1 307.4L365.1 307.1L367.0 307.0L368.8 307.1L370.5 307.5L372.0 308.1L373.5 308.9L374.7 309.9L375.8 311.1L376.8 312.5L377.5 314.1L378.0 315.9L378.3 317.7L378.4 319.7L378.3 321.8L378.0 323.9L377.5 326.1L376.7 328.2L375.8 330.4L374.7 332.6L373.4 334.7L372.0 336.7L370.4 338.6L368.7 340.4L366.9 342.0L365.0 343.5L363.1 344.8L361.1 345.9L359.1 346.8L357.1 347.4L355.1 347.9L353.2 348.1L351.3 348.1L349.6 347.9L347.9 347.4L346.4 346.7L345.1 345.8M331.2 341.2L329.8 339.8L328.6 338.2L327.6 336.4L326.8 334.4L326.3 332.2L326.0 329.9L326.0 327.5L326.3 324.9L326.8 322.3L327.6 319.6L328.6 317.0L329.9 314.3L331.3 311.7L333.0 309.2L334.8 306.8L336.8 304.6L339.0 302.5L341.2 300.6L343.6 298.9L346.0 297.4L348.4 296.2L350.8 295.3L353.2 294.6L355.6 294.2L357.9 294.0L360.1 294.2L362.1 294.6L364.0 295.3L365.8 296.3L367.3 297.6L368.6 299.1L369.7 300.8L370.6 302.7L371.2 304.8L371.6 307.1L371.7 309.5L371.6 312.0L371.2 314.5L370.6 317.2L369.7 319.8L368.5 322.5L367.2 325.1L365.6 327.6L363.9 330.1L362.0 332.4L359.9 334.5L357.7 336.5L355.5 338.3L353.1 339.9L350.7 341.2L348.2 342.3L345.8 343.1L343.4 343.7L341.1 344.0L338.9 343.9L336.7 343.7L334.7 343.1L332.9 342.3L331.2 341.2M315.8 334.6L314.2 333.0L312.7 331.2L311.6 329.1L310.7 326.8L310.1 324.3L309.8 321.6L309.8 318.7L310.2 315.8L310.8 312.8L311.7 309.7L312.8 306.6L314.3 303.6L316.0 300.6L317.9 297.7L320.1 294.9L322.4 292.3L324.9 289.9L327.5 287.6L330.2 285.7L332.9 284.0L335.7 282.6L338.6 281.5L341.3 280.7L344.1 280.2L346.7 280.0L349.2 280.2L351.6 280.7L353.8 281.5L355.8 282.7L357.6 284.1L359.1 285.8L360.4 287.8L361.4 290.0L362.1 292.5L362.6 295.1L362.7 297.9L362.5 300.8L362.1 303.7L361.3 306.8L360.3 309.9L359.0 312.9L357.4 315.9L355.6 318.9L353.6 321.7L351.4 324.4L349.0 326.9L346.5 329.2L343.8 331.2L341.1 333.0L338.3 334.6L335.5 335.9L332.7 336.8L329.9 337.5L327.2 337.8L324.6 337.8L322.2 337.4L319.9 336.8L317.8 335.8L315.8 334.6M299.2 326.2L297.3 324.4L295.7 322.4L294.4 320.1L293.5 317.5L292.8 314.7L292.5 311.7L292.5 308.5L292.9 305.2L293.5 301.9L294.6 298.4L295.9 295.0L297.5 291.6L299.4 288.2L301.6 285.0L303.9 281.9L306.5 279.0L309.3 276.3L312.2 273.8L315.2 271.6L318.3 269.7L321.5 268.1L324.6 266.9L327.7 266.0L330.7 265.4L333.7 265.3L336.5 265.5L339.1 266.0L341.6 266.9L343.8 268.2L345.8 269.8L347.5 271.7L348.9 273.9L350.0 276.4L350.8 279.1L351.3 282.0L351.4 285.1L351.3 288.4L350.7 291.7L349.9 295.1L348.7 298.5L347.3 301.9L345.5 305.3L343.5 308.6L341.3 311.7L338.8 314.7L336.1 317.5L333.3 320.1L330.4 322.4L327.3 324.4L324.2 326.1L321.1 327.6L318.0 328.6L314.9 329.4L311.9 329.7L309.0 329.7L306.2 329.4L303.7 328.6L301.3 327.6L299.2 326.2M281.6 316.1L279.5 314.2L277.8 312.0L276.4 309.5L275.4 306.7L274.7 303.7L274.4 300.4L274.4 297.0L274.8 293.4L275.5 289.8L276.6 286.1L278.1 282.3L279.8 278.6L281.9 275.0L284.2 271.5L286.8 268.1L289.6 264.9L292.6 262.0L295.8 259.3L299.1 256.9L302.4 254.9L305.8 253.1L309.2 251.8L312.6 250.8L315.9 250.2L319.1 250.0L322.1 250.2L325.0 250.8L327.6 251.8L330.0 253.2L332.2 254.9L334.0 257.0L335.5 259.4L336.7 262.1L337.6 265.0L338.1 268.2L338.2 271.5L338.0 275.0L337.5 278.7L336.6 282.3L335.3 286.1L333.7 289.8L331.8 293.4L329.6 296.9L327.2 300.4L324.5 303.6L321.6 306.6L318.6 309.4L315.4 311.9L312.1 314.1L308.7 316.0L305.3 317.6L301.9 318.7L298.6 319.5L295.3 319.9L292.2 319.9L289.2 319.6L286.4 318.8L283.9 317.6L281.6 316.1M263.4 304.6L261.3 302.6L259.5 300.3L258.0 297.6L256.9 294.7L256.1 291.5L255.8 288.0L255.8 284.4L256.3 280.6L257.1 276.8L258.2 272.8L259.8 268.9L261.6 265.0L263.8 261.1L266.3 257.4L269.0 253.8L272.0 250.5L275.2 247.4L278.5 244.5L282.0 242.0L285.5 239.8L289.1 238.0L292.7 236.5L296.3 235.5L299.8 234.9L303.1 234.6L306.4 234.9L309.4 235.5L312.2 236.5L314.7 238.0L317.0 239.8L318.9 242.0L320.5 244.5L321.8 247.4L322.7 250.5L323.2 253.8L323.4 257.4L323.1 261.1L322.5 264.9L321.5 268.8L320.2 272.7L318.5 276.6L316.5 280.5L314.2 284.2L311.6 287.9L308.8 291.3L305.7 294.5L302.5 297.4L299.1 300.1L295.6 302.5L292.0 304.5L288.4 306.1L284.9 307.3L281.3 308.2L277.9 308.6L274.6 308.6L271.4 308.2L268.5 307.4L265.8 306.2L263.4 304.6M245.0 291.9L242.8 289.8L241.0 287.4L239.4 284.7L238.3 281.6L237.6 278.3L237.2 274.8L237.2 271.0L237.7 267.1L238.5 263.1L239.7 259.0L241.3 254.9L243.3 250.9L245.5 246.9L248.1 243.0L251.0 239.4L254.0 235.9L257.3 232.6L260.8 229.7L264.4 227.1L268.0 224.8L271.8 222.9L275.5 221.4L279.2 220.3L282.8 219.7L286.2 219.4L289.6 219.6L292.7 220.3L295.6 221.4L298.2 222.9L300.5 224.7L302.5 227.0L304.2 229.6L305.5 232.5L306.4 235.8L306.9 239.2M263.6 295.5L260.0 296.0L256.6 296.0L253.3 295.6L250.3 294.8L247.5 293.5L245.0 291.9M226.8 278.1L224.6 276.1L222.7 273.7L221.2 270.9L220.1 267.8L219.3 264.4L219.0 260.8L219.0 257.0L219.5 253.1L220.3 249.0L221.6 244.9L223.2 240.8L225.1 236.7L227.4 232.6L230.1 228.7L232.9 225.0L236.1 221.4L239.4 218.1L242.9 215.1L246.5 212.5L250.3 210.2L254.0 208.2L257.8 206.7L261.5 205.6L265.2 204.9L268.7 204.7L272.0 204.9L275.2 205.6L278.1 206.6L280.8 208.2L283.1 210.1M201.4 246.6L201.5 242.8L201.9 238.9L202.8 234.9L204.0 230.8L205.6 226.6L207.6 222.6L209.9 218.5L212.5 214.7L215.4 210.9L218.5 207.4L221.8 204.2L225.3 201.2L228.9 198.5L232.6 196.2L236.3 194.3L240.1 192.8L243.7 191.7L247.4 191.0M366.8 348.8L364.1 348.9L361.1 348.8L357.9 348.5L354.5 348.0L351.0 347.3L347.2 346.4L343.3 345.3L339.2 344.0L334.9 342.5L330.5 340.9L325.9 339.0L321.2 337.0L316.4 334.8L311.4 332.5L306.4 329.9L301.2 327.2L296.0 324.4L290.6 321.4L285.2 318.3L279.7 315.0L274.2 311.6L268.7 308.0L263.1 304.4L257.5 300.6L251.9 296.7L246.3 292.8L240.7 288.7L235.1 284.5L229.6 280.3M365.6 347.5L362.7 347.4L359.5 347.1L356.2 346.6L352.6 345.9L348.9 345.0L345.0 343.9L340.9 342.6L336.6 341.2L332.2 339.5L327.7 337.7L323.0 335.7L318.1 333.6L313.2 331.2L308.1 328.7L302.9 326.1L297.6 323.3L292.3 320.3L286.9 317.2L281.4 314.0L275.8 310.6L270.2 307.1L264.6 303.5L259.0 299.8L253.3 296.0L247.7 292.1L242.0 288.0L236.4 283.9L230.8 279.8L225.3 275.5L219.8 271.2L214.4 266.9M364.9 345.7L361.8 345.4L358.5 344.8L355.1 344.0L351.4 343.1L347.6 342.0L343.6 340.7L339.4 339.2L335.0 337.5L330.5 335.6L325.9 333.6L321.1 331.4L316.2 329.1L311.1 326.6L306.0 323.9L300.7 321.1L295.4 318.1L290.0 315.0L284.5 311.8L278.9 308.4L273.3 304.9L267.7 301.3L262.1 297.6L256.4 293.8L250.7 289.9L245.0 285.9L239.4 281.9L233.7 277.7L228.2 273.5L222.6 269.3L217.1 264.9L211.7 260.6L206.4 256.2M364.6 343.7L361.5 343.0L358.2 342.1L354.7 341.1L351.0 339.8L347.1 338.4L343.0 336.8L338.8 335.1L334.4 333.1L329.9 331.0L325.2 328.7L320.4 326.3L315.4 323.7L310.4 321.0L305.2 318.1L299.9 315.1L294.6 311.9L289.1 308.7L283.6 305.3L278.1 301.8L272.4 298.1L266.8 294.4L261.1 290.6L255.5 286.7L249.8 282.7L244.1 278.6L238.4 274.5L232.8 270.3L227.2 266.1L221.7 261.8L216.2 257.5L210.8 253.1L205.5 248.8L200.3 244.4M364.8 341.4L361.7 340.4L358.4 339.2L355.0 337.8L351.3 336.2L347.5 334.5L343.4 332.6L339.2 330.5L334.9 328.3L330.4 325.9L325.7 323.4L320.9 320.7L316.0 317.8L310.9 314.8L305.8 311.7L300.6 308.5L295.2 305.1L289.8 301.7L284.3 298.1L278.8 294.4L273.2 290.6L267.6 286.7L261.9 282.8L256.2 278.8L250.6 274.7L244.9 270.5L239.2 266.3L233.6 262.1L228.0 257.8L222.5 253.5L217.1 249.2L211.7 244.9L206.3 240.5L201.1 236.2L196.0 231.9M365.5 339.0L362.5 337.6L359.3 336.1L356.0 334.3L352.4 332.5L348.6 330.4L344.7 328.2L340.6 325.8L336.3 323.2L331.9 320.6L327.3 317.7L322.6 314.8L317.8 311.6L312.8 308.4L307.7 305.1L302.6 301.6L297.3 298.0L291.9 294.3L286.5 290.6L281.0 286.7L275.5 282.7L269.9 278.7L264.3 274.6L258.7 270.5L253.0 266.3L247.4 262.1L241.8 257.8L236.2 253.5L230.6 249.2L225.1 244.9L219.7 240.5L214.3 236.2L208.9 231.9L203.7 227.6L198.6 223.3L193.5 219.1M366.6 336.6L363.8 334.9L360.8 333.0L357.6 330.9L354.2 328.7L350.6 326.3L346.8 323.8L342.9 321.1L338.7 318.2L334.5 315.3L330.0 312.1L325.5 308.9L320.7 305.5L315.9 302.0L310.9 298.4L305.9 294.7L300.7 290.9L295.5 287.0L290.1 283.1L284.7 279.0L279.3 274.9L273.8 270.7L268.2 266.5L262.7 262.3L257.1 258.0L251.5 253.6L245.9 249.3L240.4 244.9L234.8 240.6L229.3 236.2L223.9 231.9L218.5 227.6L213.1 223.3L207.9 219.0L202.7 214.8L197.7 210.7M368.1 334.4L365.6 332.3L362.8 330.1L359.8 327.7L356.6 325.2L353.2 322.5L349.6 319.6L345.9 316.6L342.0 313.5L337.9 310.2L333.6 306.9L329.2 303.3L324.7 299.7L320.0 296.0L315.2 292.2L310.3 288.2L305.3 284.2L300.2 280.2L295.0 276.0L289.7 271.8L284.4 267.5L279.0 263.2L273.5 258.9L268.0 254.5L262.5 250.1L257.0 245.7L251.4 241.2L245.9 236.8L240.4 232.4L234.9 228.1L229.5 223.7L224.1 219.4L218.7 215.1L213.5 210.9L208.3 206.8L203.2 202.7M370.0 332.4L367.7 330.1L365.1 327.5L362.4 324.9L359.5 322.1L356.4 319.1L353.1 316.0L349.6 312.7L345.9 309.3L342.0 305.8L338.0 302.2L333.8 298.4L329.5 294.6L325.0 290.6L320.4 286.6L315.7 282.5L310.8 278.3L305.9 274.0L300.8 269.7L295.7 265.3L290.4 260.9L285.2 256.5L279.8 252.0L274.4 247.5L269.0 243.1L263.5 238.6L258.1 234.1L252.6 229.6L247.1 225.2L241.6 220.8L236.2 216.4L230.8 212.1L225.4 207.9L220.1 203.7L214.9 199.6L209.7 195.6M372.0 330.8L370.0 328.2L367.8 325.4L365.4 322.5L362.8 319.5L359.9 316.3L356.9 312.9L353.6 309.5L350.2 305.9L346.6 302.1L342.8 298.3L338.9 294.4L334.8 290.3L330.5 286.2L326.2 282.0L321.6 277.7L317.0 273.4L312.2 269.0L307.3 264.5L302.3 260.0L297.2 255.5L292.1 251.0L286.9 246.4L281.6 241.8L276.2 237.3L270.9 232.7L265.4 228.2L260.0 223.7L254.6 219.2L249.1 214.8L243.7 210.4L238.3 206.1L232.9 201.9L227.6 197.7L222.3 193.6L217.0 189.7M374.2 329.6L372.5 326.8L370.6 323.9L368.5 320.8L366.2 317.6L363.6 314.2L360.9 310.7L358.0 307.1L354.8 303.3L351.5 299.4L348.0 295.5L344.3 291.4L340.4 287.2L336.4 283.0L332.2 278.6L327.9 274.2L323.5 269.8L318.9 265.3L314.2 260.7L309.3 256.1L304.4 251.5L299.4 246.9L294.3 242.2L289.1 237.6L283.9 233.0L278.6 228.4L273.2 223.8L267.8 219.2L262.4 214.8L257.0 210.3L251.6 205.9L246.2 201.6L240.8 197.4L235.4 193.3L230.0 189.2M376.4 328.9L375.0 326.0L373.5 323.0L371.7 319.8L369.6 316.5L367.4 313.0L364.9 309.4L362.3 305.7L359.4 301.8L356.4 297.9L353.1 293.8L349.7 289.6L346.1 285.4L342.3 281.0L338.3 276.6L334.2 272.2L329.9 267.6L325.5 263.0L321.0 258.4L316.4 253.8L311.6 249.1L306.7 244.4L301.7 239.8L296.6 235.1L291.5 230.4L286.3 225.8L281.0 221.2L275.7 216.6L270.3 212.1L264.9 207.7L259.5 203.3L254.0 199.0L248.6 194.7L243.2 190.6M378.5 328.7L377.4 325.8L376.2 322.7L374.7 319.5L372.9 316.2L371.0 312.7L368.8 309.1L366.4 305.3L363.8 301.4L361.0 297.4L358.0 293.4L354.8 289.2L351.4 284.9L347.9 280.5L344.1 276.1L340.2 271.6L336.1 267.1L331.9 262.5L327.5 257.8L323.0 253.2L318.4 248.5L313.6 243.8L308.8 239.1L303.8 234.4L298.7 229.7L293.6 225.1L288.4 220.5L283.1 215.9L277.8 211.4L272.4 206.9L267.0 202.5L261.5 198.2L256.1 194.0M380.3 329.0L379.6 326.2L378.6 323.2L377.3 320.0L375.9 316.7L374.2 313.3L372.3 309.7L370.1 306.0L367.8 302.2L365.2 298.2L362.4 294.2L359.4 290.0L356.2 285.8L352.9 281.5L349.3 277.1L345.6 272.6L341.7 268.1L337.6 263.5L333.4 258.9L329.0 254.3L324.5 249.6L319.9 245.0L315.1 240.3L310.2 235.6L305.2 230.9L300.2 226.3L295.0 221.7L289.8 217.1L284.4 212.6L279.1 208.1L273.7 203.8L268.2 199.4M381.9 329.9L381.4 327.2L380.6 324.3L379.6 321.3L378.4 318.1L376.9 314.8L375.2 311.3L373.2 307.7L371.1 304.0L368.7 300.2L366.1 296.3L363.3 292.2L360.3 288.1L357.1 283.8L353.7 279.5L350.1 275.2L346.3 270.7L342.4 266.2L338.3 261.7L334.0 257.1L329.6 252.5L325.1 247.9L320.4 243.2L315.6 238.6L310.7 234.0L305.6 229.4L300.5 224.8L295.3 220.2L290.0 215.7L284.7 211.3M383.1 331.3L382.8 328.8L382.2 326.1L381.3 323.2L380.3 320.3L378.9 317.1L377.4 313.8L375.6 310.4L373.6 306.9L371.4 303.2L368.9 299.4L366.2 295.5L363.4 291.6L360.3 287.5L357.0 283.3L353.5 279.0L349.9 274.7L346.0 270.3L342.0 265.9L337.8 261.4L333.5 256.9L329.0 252.4L324.4 247.8L319.7 243.2L314.8 238.7L309.8 234.1L304.7 229.6L299.5 225.0L294.2 220.6M383.9 333.0L383.6 330.8L383.2 328.4L382.4 325.8L381.5 323.0L380.2 320.1L378.8 317.1L377.1 313.9L375.2 310.6L373.0 307.1L370.7 303.6L368.1 299.9L365.3 296.1L362.3 292.2L359.1 288.2L355.7 284.1L352.1 280.0L348.3 275.7L344.3 271.4L340.2 267.1L335.9 262.7L331.5 258.3L326.9 253.8L322.2 249.3L317.3 244.8L312.4 240.3L307.3 235.8L302.1 231.3M384.2 335.1L384.0 333.2L383.5 331.0L382.8 328.8L381.9 326.3L380.7 323.7L379.3 320.9L377.7 318.0L375.8 315.0L373.7 311.8L371.3 308.5L368.8 305.0L366.0 301.4L363.0 297.8L359.8 294.0L356.5 290.1L352.9 286.1L349.1 282.1L345.2 278.0L341.1 273.8L336.8 269.5L332.4 265.2L327.8 260.8L323.1 256.5L318.3 252.1L313.3 247.6L308.2 243.2M384.0 337.4L383.7 335.8L383.3 334.0L382.5 332.0L381.6 329.9L380.4 327.6L378.9 325.2L377.2 322.6L375.3 319.8L373.2 316.9L370.8 313.8L368.3 310.7L365.5 307.4L362.5 303.9L359.2 300.4L355.8 296.7L352.2 292.9L348.5 289.1L344.5 285.1L340.4 281.1L336.1 277.0L331.6 272.9L327.0 268.6L322.3 264.4L317.5 260.1L312.5 255.7M383.3 339.8L382.9 338.5L382.4 337.1L381.5 335.5L380.5 333.7L379.2 331.7L377.7 329.6L375.9 327.3L373.9 324.8L371.7 322.2L369.2 319.5L366.5 316.6L363.7 313.5L360.6 310.3L357.3 307.0L353.8 303.6L350.2 300.1L346.3 296.4L342.3 292.6L338.1 288.8L333.8 284.9L329.3 280.9L324.7 276.8L319.9 272.6L315.0 268.4M382.2 342.1L381.7 341.2L380.9 340.1L379.9 338.9L378.7 337.4L377.2 335.8L375.6 334.0L373.6 332.0L371.5 329.8L369.1 327.5L366.5 325.0L363.7 322.4L360.7 319.6L357.5 316.7L354.1 313.6L350.6 310.4L346.8 307.1L342.8 303.6L338.7 300.1L334.5 296.4L330.0 292.6L325.5 288.8L320.8 284.8L315.9 280.8L311.0 276.7M380.6 344.4L379.9 343.8L378.9 343.0L377.7 342.1L376.3 340.9L374.6 339.6L372.7 338.1L370.6 336.4L368.3 334.5L365.7 332.5L363.0 330.3L360.0 327.9L356.8 325.4L353.5 322.7L349.9 319.8L346.2 316.8L342.2 313.7L338.2 310.5L333.9 307.1L329.5 303.6L325.0 300.0L320.4 296.2L315.6 292.4L310.7 288.5L305.6 284.5M378.8 346.3L377.8 346.1L376.6 345.6L375.1 344.9L373.4 344.0L371.5 343.0L369.4 341.7L367.0 340.3L364.4 338.7L361.6 336.9L358.6 334.9L355.5 332.8L352.1 330.5L348.5 328.0L344.8 325.4L340.9 322.6L336.8 319.6L332.5 316.5L328.2 313.3L323.6 310.0L319.0 306.5L314.2 302.9L309.3 299.2L304.3 295.4L299.2 291.5M376.7 348.0L375.4 347.9L373.9 347.7L372.2 347.2L370.2 346.6L368.0 345.8L365.6 344.7L362.9 343.5L360.1 342.1L357.0 340.5L353.8 338.8L350.4 336.8L346.8 334.7L343.0 332.4L339.0 329.9L334.9 327.3L330.7 324.5L326.3 321.5L321.7 318.5L317.0 315.2L312.2 311.9L307.3 308.4L302.3 304.8L297.2 301.0L292.0 297.2M374.6 349.2L372.9 349.3L371.1 349.2L369.0 349.0L366.7 348.5L364.2 347.8L361.5 347.0L358.6 345.9L355.5 344.6L352.2 343.2L348.7 341.6L345.0 339.8L341.2 337.8L337.2 335.6L333.0 333.3L328.7 330.7L324.2 328.1L319.6 325.2L314.9 322.3L310.0 319.1L305.1 315.8L300.0 312.4L294.9 308.9L289.7 305.2L284.4 301.4L279.1 297.6M372.4 349.9L370.4 350.1L368.3 350.1L365.9 350.0L363.3 349.6L360.5 349.0L357.5 348.3L354.3 347.3L350.9 346.1L347.3 344.8L343.6 343.3L339.6 341.5L335.5 339.6L331.3 337.5L326.9 335.3L322.4 332.8L317.7 330.2L312.9 327.4L308.0 324.5L303.0 321.4L297.9 318.2L292.7 314.9L287.5 311.4L282.2 307.7L276.8 304.0L271.4 300.1L265.9 296.2M370.3 350.1L368.0 350.3L365.6 350.4L362.9 350.2L360.0 349.9L356.9 349.4L353.6 348.6L350.1 347.7L346.5 346.5L342.7 345.2L338.6 343.7L334.5 342.0L330.2 340.1L325.7 338.0L321.1 335.8L316.4 333.4L311.5 330.8L306.5 328.1L301.5 325.1L296.3 322.1L291.1 318.9L285.8 315.5L280.4 312.1L275.0 308.4L269.5 304.7L264.0 300.9L258.5 296.9L253.0 292.9M368.4 349.7L365.9 349.9L363.1 349.9L360.2 349.7L357.0 349.3L353.7 348.8L350.1 348.0L346.4 347.0L342.5 345.8L338.5 344.4L334.2 342.9L329.8 341.2L325.3 339.2L320.6 337.1L315.8 334.9L310.9 332.4L305.9 329.8L300.8 327.0L295.6 324.1L290.3 321.0L284.9 317.8L279.5 314.4L274.0 310.9L268.5 307.3L263.0 303.6L257.4 299.7L251.9 295.8L246.3 291.7L240.8 287.6M364.9 345.7L363.3 345.3L361.7 344.7L360.0 344.0L358.3 343.2L356.6 342.4L354.8 341.4L353.0 340.3L351.1 339.1L349.2 337.9L347.3 336.5L345.4 335.0L343.5 333.5L341.6 331.8L339.6 330.1L337.6 328.3L335.7 326.3L333.7 324.3L331.7 322.2L329.8 320.1L327.8 317.8L325.8 315.5L323.9 313.1L321.9 310.6L320.0 308.1L318.1 305.5L316.2 302.8L314.3 300.1L312.5 297.3L310.6 294.5L308.8 291.7L307.0 288.7L305.2 285.8L303.4 282.8L301.7 279.8L300.0 276.8L298.3 273.7L296.6 270.7L294.9 267.6L293.3 264.5L291.7 261.4L290.1 258.3L288.5 255.2L286.9 252.1L285.4 249.0L283.8 246.0L282.3 242.9L280.8 239.9L279.3 236.9L277.8 233.9L276.3 231.0L274.8 228.1L273.3 225.3L271.9 222.5L270.4 219.7L268.9 217.0L267.4 214.3L265.9 211.7L264.4 209.2L262.9 206.7L261.4 204.2L259.9 201.9L258.4 199.6L256.8 197.3L255.2 195.1L253.6 193.0M364.6 343.7L363.1 343.0L361.5 342.2L359.9 341.3L358.3 340.4L356.7 339.3L355.0 338.1L353.3 336.9L351.6 335.5L349.9 334.0L348.1 332.5L346.4 330.8L344.6 329.1L342.8 327.3L341.1 325.4L339.3 323.4L337.5 321.3L335.8 319.2L334.0 316.9L332.2 314.6L330.5 312.3L328.8 309.8L327.0 307.3L325.3 304.8L323.6 302.2L321.9 299.5L320.2 296.8L318.6 294.0L316.9 291.2L315.3 288.4L313.7 285.5L312.1 282.7L310.5 279.7L309.0 276.8L307.4 273.8L305.9 270.9L304.4 267.9L302.9 264.9L301.4 262.0L299.9 259.0L298.5 256.0L297.0 253.1L295.5 250.1L294.1 247.2L292.7 244.3L291.2 241.5L289.8 238.6L288.4 235.8L286.9 233.1L285.5 230.3L284.0 227.7L282.6 225.0L281.1 222.4L279.6 219.9L278.2 217.4L276.7 215.0L275.1 212.6L273.6 210.3L272.0 208.0L270.5 205.8L268.9 203.7L267.2 201.6L265.6 199.6L263.9 197.6M364.8 341.4L363.4 340.5L361.9 339.5L360.4 338.5L359.0 337.3L357.4 336.1L355.9 334.7L354.4 333.3L352.8 331.7L351.3 330.1L349.7 328.4L348.1 326.6L346.6 324.7L345.0 322.7L343.4 320.7L341.9 318.6L340.3 316.4L338.7 314.2L337.2 311.8L335.6 309.5L334.1 307.0L332.6 304.5L331.1 302.0L329.6 299.4L328.1 296.8L326.6 294.1L325.1 291.4L323.7 288.7L322.2 285.9L320.8 283.1L319.4 280.3L318.0 277.5L316.6 274.7L315.2 271.8L313.8 269.0L312.4 266.2L311.1 263.3L309.7 260.5L308.3 257.7L307.0 254.9L305.6 252.1L304.2 249.4L302.9 246.6L301.5 243.9L300.1 241.3L298.7 238.6L297.3 236.1L295.9 233.5L294.5 231.0L293.0 228.5L291.6 226.1L290.1 223.8L288.6 221.5L287.0 219.2L285.5 217.0L283.9 214.9L282.3 212.8L280.6 210.7L279.0 208.8L277.2 206.9L275.5 205.0L273.7 203.2M365.5 339.0L364.2 337.9L362.9 336.8L361.5 335.6L360.2 334.2L358.9 332.8L357.5 331.3L356.1 329.7L354.8 328.0L353.4 326.3L352.0 324.4L350.6 322.5L349.3 320.5L347.9 318.5L346.5 316.3L345.2 314.1L343.8 311.9L342.5 309.6L341.1 307.2L339.8 304.8L338.4 302.4L337.1 299.9L335.8 297.3L334.5 294.8L333.2 292.2L331.9 289.6L330.6 286.9L329.4 284.3L328.1 281.6L326.8 278.9L325.5 276.2L324.3 273.5L323.0 270.8L321.8 268.2L320.5 265.5L319.2 262.8L317.9 260.2L316.7 257.6L315.4 255.0L314.1 252.4L312.7 249.8L311.4 247.3L310.1 244.8L308.7 242.4L307.3 240.0L305.9 237.6L304.5 235.3L303.0 233.0L301.5 230.8L300.0 228.6L298.5 226.5L296.9 224.4L295.3 222.4L293.6 220.5L292.0 218.5L290.2 216.7L288.5 214.9L286.7 213.2L284.8 211.5L282.9 209.8M366.6 336.6L365.5 335.4L364.3 334.1L363.2 332.7L362.0 331.3L360.8 329.7L359.6 328.1L358.5 326.4L357.3 324.6L356.1 322.7L354.9 320.8L353.7 318.8L352.6 316.8L351.4 314.6L350.2 312.5L349.1 310.3L347.9 308.0L346.7 305.7L345.6 303.3L344.4 301.0L343.3 298.5L342.2 296.1L341.0 293.6L339.9 291.2L338.7 288.6L337.6 286.1L336.5 283.6L335.3 281.1L334.2 278.5L333.0 276.0L331.9 273.5L330.7 271.0L329.5 268.5L328.3 266.0L327.1 263.5L325.9 261.1L324.7 258.7L323.4 256.3L322.1 253.9L320.8 251.6L319.5 249.3L318.2 247.0L316.8 244.8L315.4 242.7L313.9 240.5L312.4 238.4L310.9 236.4L309.4 234.4L307.8 232.5L306.1 230.6L304.5 228.8L302.7 227.0L301.0 225.3L299.2 223.6L297.3 221.9L295.4 220.4L293.4 218.8L291.4 217.4L289.4 215.9M368.1 334.4L367.2 333.0L366.2 331.6L365.2 330.1L364.2 328.6L363.2 326.9L362.2 325.2L361.2 323.4L360.3 321.6L359.3 319.6L358.3 317.7L357.3 315.7L356.3 313.6L355.3 311.5L354.3 309.3L353.3 307.1L352.4 304.9L351.4 302.7L350.4 300.4L349.4 298.1L348.4 295.7L347.4 293.4L346.4 291.1L345.4 288.7L344.4 286.3L343.3 284.0L342.3 281.6L341.3 279.2L340.2 276.9L339.1 274.6L338.0 272.2L336.9 269.9L335.7 267.7L334.6 265.4L333.4 263.2L332.2 261.0L330.9 258.8L329.6 256.7L328.3 254.6L327.0 252.5L325.6 250.5L324.1 248.5L322.7 246.6L321.1 244.7L319.6 242.9L318.0 241.1L316.3 239.3L314.6 237.6L312.9 236.0L311.1 234.4L309.2 232.8L307.3 231.3L305.3 229.8L303.3 228.4L301.3 227.0L299.1 225.7L296.9 224.4M370.0 332.4L369.2 331.0L368.4 329.5L367.6 327.9L366.8 326.3L366.0 324.6L365.2 322.8L364.4 321.0L363.6 319.1L362.7 317.2L361.9 315.3L361.1 313.3L360.3 311.2L359.5 309.2L358.6 307.1L357.8 305.0L357.0 302.8L356.1 300.7L355.3 298.5L354.4 296.3L353.5 294.1L352.6 291.9L351.7 289.7L350.8 287.5L349.8 285.3L348.9 283.2L347.9 281.0L346.9 278.9L345.8 276.7L344.8 274.6L343.7 272.5L342.6 270.5L341.4 268.5L340.2 266.5L339.0 264.5L337.7 262.6L336.4 260.7L335.0 258.8L333.6 257.0L332.1 255.2L330.6 253.5L329.1 251.8L327.4 250.1L325.8 248.5L324.1 246.9L322.3 245.4L320.4 243.9L318.5 242.5L316.6 241.1L314.6 239.7L312.5 238.4L310.4 237.1L308.2 235.9L305.9 234.7L303.6 233.5M372.0 330.8L371.4 329.3L370.8 327.7L370.2 326.1L369.5 324.5L368.9 322.8L368.3 321.0L367.6 319.2L367.0 317.4L366.3 315.5L365.7 313.6L365.0 311.7L364.3 309.7L363.6 307.8L362.9 305.8L362.2 303.8L361.5 301.8L360.8 299.8L360.0 297.7L359.2 295.7L358.4 293.7L357.6 291.7L356.7 289.7L355.8 287.7L354.9 285.7L353.9 283.8L352.9 281.9L351.9 279.9L350.9 278.1L349.8 276.2L348.6 274.4L347.4 272.6L346.2 270.8L344.9 269.1L343.6 267.4L342.2 265.7L340.7 264.1L339.2 262.5L337.7 260.9L336.1 259.4L334.4 257.9L332.7 256.5L330.9 255.1L329.0 253.7L327.1 252.4L325.1 251.1L323.0 249.9L320.9 248.7L318.7 247.5L316.5 246.4L314.2 245.3L311.8 244.2L309.3 243.1M374.2 329.6L373.8 328.1L373.3 326.5L372.8 324.9L372.4 323.3L371.9 321.6L371.4 319.9L370.9 318.2L370.4 316.4L369.9 314.7L369.4 312.9L368.8 311.1L368.2 309.2L367.6 307.4L367.0 305.6L366.4 303.7L365.7 301.9L365.0 300.0L364.3 298.2L363.5 296.4L362.8 294.6L361.9 292.8L361.1 291.0L360.2 289.2L359.2 287.5L358.2 285.8L357.2 284.1L356.1 282.4L355.0 280.8L353.8 279.2L352.5 277.6L351.2 276.1L349.9 274.6L348.5 273.1L347.0 271.7L345.5 270.3L343.8 268.9L342.2 267.6L340.4 266.3L338.6 265.0L336.7 263.7L334.8 262.5L332.8 261.4L330.7 260.2L328.5 259.1L326.3 258.0L324.0 257.0L321.6 256.0L319.2 255.0L316.7 254.0L314.1 253.0L311.4 252.1M376.4 328.9L376.1 327.4L375.8 325.9L375.5 324.4L375.1 322.8L374.8 321.2L374.4 319.6L374.0 318.0L373.6 316.3L373.2 314.7L372.8 313.0L372.3 311.4L371.8 309.7L371.2 308.0L370.7 306.4L370.0 304.7L369.4 303.1L368.7 301.5L368.0 299.8L367.2 298.2L366.4 296.7L365.6 295.1L364.6 293.6L363.7 292.0L362.7 290.5L361.6 289.1L360.4 287.6L359.3 286.2L358.0 284.8L356.7 283.5L355.3 282.2L353.8 280.9L352.3 279.6L350.7 278.4L349.1 277.2L347.3 276.0L345.5 274.9L343.6 273.8L341.7 272.7L339.6 271.6L337.5 270.6L335.4 269.6L333.1 268.6L330.8 267.6L328.3 266.7L325.9 265.8L323.3 264.9L320.7 264.0L318.0 263.1L315.2 262.2L312.3 261.4M378.5 328.7L378.3 327.3L378.1 325.9L377.9 324.4L377.7 323.0L377.4 321.5L377.1 320.0L376.8 318.6L376.5 317.1L376.1 315.6L375.7 314.1L375.3 312.6L374.8 311.2L374.3 309.7L373.7 308.2L373.1 306.8L372.4 305.4L371.7 304.0L370.9 302.6L370.1 301.2L369.2 299.9L368.2 298.5L367.2 297.2L366.2 296.0L365.0 294.7L363.8 293.5L362.5 292.3L361.2 291.1L359.8 290.0L358.3 288.8L356.7 287.8L355.1 286.7L353.3 285.6L351.5 284.6L349.7 283.6L347.7 282.7L345.7 281.7L343.6 280.8L341.4 279.9L339.1 279.0L336.7 278.1L334.3 277.2L331.8 276.4L329.2 275.6L326.5 274.7L323.8 273.9L321.0 273.1L318.1 272.3L315.1 271.4L312.1 270.6M380.3 329.0L380.3 327.8L380.2 326.5L380.0 325.2L379.9 323.9L379.7 322.5L379.5 321.2L379.2 319.9L378.9 318.6L378.5 317.3L378.1 316.0L377.6 314.8L377.1 313.5L376.6 312.2L375.9 311.0L375.3 309.8L374.5 308.6L373.7 307.4L372.9 306.2L371.9 305.1L370.9 304.0L369.8 302.9L368.7 301.8L367.5 300.8L366.2 299.8L364.8 298.8L363.4 297.8L361.8 296.8L360.2 295.9L358.5 295.0L356.7 294.1L354.9 293.2L352.9 292.3L350.9 291.5L348.8 290.7L346.6 289.9L344.3 289.1L342.0 288.3L339.5 287.5L337.0 286.7L334.4 285.9L331.7 285.2L328.9 284.4L326.1 283.6L323.1 282.8L320.1 282.0L317.1 281.2L313.9 280.4L310.7 279.6M381.9 329.9L381.9 328.8L381.9 327.6L381.8 326.5L381.6 325.4L381.5 324.2L381.2 323.1L380.9 322.0L380.6 320.9L380.2 319.8L379.8 318.7L379.2 317.7L378.7 316.6L378.0 315.6L377.3 314.6L376.5 313.6L375.7 312.6L374.8 311.6L373.8 310.7L372.7 309.8L371.5 308.9L370.3 308.0L369.0 307.1L367.6 306.3L366.1 305.5L364.5 304.7L362.9 303.9L361.1 303.1L359.3 302.3L357.4 301.6L355.4 300.9L353.3 300.1L351.1 299.4L348.8 298.7L346.5 298.0L344.0 297.3L341.5 296.6L338.9 295.8L336.2 295.1L333.4 294.4L330.6 293.7L327.6 292.9L324.6 292.2L321.5 291.4L318.4 290.6L315.2 289.8L311.9 289.0L308.5 288.1L305.1 287.2M383.1 331.3L383.1 330.3L383.1 329.3L383.0 328.4L382.8 327.4L382.6 326.5L382.4 325.6L382.0 324.7L381.6 323.8L381.2 322.9L380.6 322.0L380.0 321.2L379.4 320.3L378.6 319.5L377.8 318.7L376.8 317.9L375.9 317.2L374.8 316.4L373.6 315.7L372.4 315.0L371.0 314.2L369.6 313.6L368.1 312.9L366.5 312.2L364.8 311.5L363.0 310.9L361.1 310.3L359.1 309.6L357.1 309.0L354.9 308.4L352.7 307.7L350.3 307.1L347.9 306.4L345.4 305.8L342.8 305.2L340.1 304.5L337.4 303.8L334.5 303.1L331.6 302.4L328.6 301.7L325.5 300.9L322.4 300.2L319.1 299.4L315.8 298.5L312.5 297.7L309.0 296.8L305.6 295.8L302.0 294.9L298.4 293.9L294.8 292.8M383.9 333.0L383.9 332.2L383.8 331.5L383.7 330.7L383.5 330.0L383.2 329.2L382.8 328.5L382.4 327.8L381.9 327.1L381.4 326.4L380.7 325.8L380.0 325.1L379.1 324.5L378.2 323.9L377.2 323.3L376.2 322.7L375.0 322.1L373.7 321.5L372.4 320.9L370.9 320.4L369.4 319.8L367.7 319.3L366.0 318.8L364.2 318.2L362.3 317.7L360.2 317.1L358.1 316.6L355.9 316.0L353.6 315.5L351.3 314.9L348.8 314.3L346.2 313.8L343.6 313.1L340.8 312.5L338.0 311.9L335.1 311.2L332.1 310.5L329.1 309.8L325.9 309.0L322.7 308.2L319.4 307.4L316.1 306.5L312.7 305.6L309.2 304.7L305.7 303.7L302.1 302.6L298.5 301.6L294.8 300.4L291.1 299.2L287.4 298.0L283.6 296.7M384.2 335.1L384.1 334.5L384.0 333.9L383.7 333.4L383.4 332.8L383.1 332.3L382.6 331.8L382.1 331.3L381.4 330.8L380.7 330.3L379.9 329.8L379.0 329.3L378.0 328.9L377.0 328.4L375.8 328.0L374.5 327.5L373.1 327.1L371.7 326.7L370.1 326.2L368.4 325.8L366.7 325.4L364.8 324.9L362.9 324.5L360.8 324.0L358.7 323.6L356.5 323.1L354.1 322.6L351.7 322.1L349.2 321.5L346.6 321.0L343.9 320.4L341.1 319.8L338.3 319.1L335.3 318.5L332.3 317.8L329.2 317.0L326.0 316.2L322.8 315.4L319.5 314.6L316.1 313.6L312.7 312.7L309.2 311.7L305.7 310.6L302.1 309.5L298.4 308.3L294.7 307.1L291.0 305.8L287.3 304.5L283.5 303.0L279.7 301.6L275.9 300.1L272.0 298.5L268.2 296.8M384.0 337.4L383.8 337.0L383.6 336.6L383.2 336.2L382.8 335.9L382.3 335.5L381.7 335.2L381.0 334.9L380.2 334.5L379.3 334.2L378.3 333.9L377.3 333.6L376.1 333.3L374.8 332.9L373.4 332.6L372.0 332.3L370.4 332.0L368.7 331.7L366.9 331.3L365.1 331.0L363.1 330.6L361.0 330.2L358.9 329.8L356.6 329.4L354.3 328.9L351.8 328.4L349.3 327.9L346.6 327.4L343.9 326.8L341.1 326.2L338.3 325.6L335.3 324.9L332.3 324.2L329.1 323.4L326.0 322.6L322.7 321.7L319.4 320.8L316.0 319.8L312.6 318.8L309.1 317.7L305.6 316.6L302.0 315.4L298.4 314.1L294.7 312.8L291.0 311.4L287.3 309.9L283.5 308.4L279.7 306.8L275.9 305.1L272.1 303.4L268.3 301.6L264.5 299.7L260.7 297.8L256.9 295.8L253.1 293.7L249.3 291.6M383.3 339.8L383.0 339.6L382.6 339.4L382.1 339.2L381.6 339.0L380.9 338.8L380.1 338.6L379.3 338.4L378.3 338.2L377.2 338.0L376.1 337.8L374.8 337.6L373.4 337.4L371.9 337.2L370.4 337.0L368.7 336.7L366.9 336.5L365.0 336.2L363.0 335.9L361.0 335.6L358.8 335.2L356.5 334.8L354.2 334.4L351.7 333.9L349.2 333.5L346.5 332.9L343.8 332.4L341.0 331.8L338.1 331.1L335.2 330.4L332.1 329.6L329.0 328.8L325.8 328.0L322.6 327.0L319.3 326.1L315.9 325.0L312.5 323.9L309.1 322.7L305.6 321.5L302.0 320.2L298.4 318.8L294.8 317.4L291.1 315.9L287.5 314.3L283.8 312.7L280.1 311.0L276.3 309.2L272.6 307.3L268.8 305.4L265.1 303.3L261.4 301.3L257.6 299.1L253.9 296.9L250.2 294.6L246.5 292.3L242.9 289.8L239.2 287.3L235.6 284.8L232.1 282.2L228.6 279.5M382.2 342.1L381.7 342.1L381.2 342.0L380.5 342.0L379.8 341.9L378.9 341.9L378.0 341.8L376.9 341.7L375.8 341.6L374.5 341.6L373.2 341.4L371.7 341.3L370.1 341.2L368.5 341.0L366.7 340.8L364.8 340.6L362.8 340.3L360.8 340.1L358.6 339.7L356.3 339.4L354.0 339.0L351.5 338.6L349.0 338.1L346.4 337.6L343.7 337.0L340.9 336.4L338.0 335.7L335.1 334.9L332.0 334.1L329.0 333.3L325.8 332.4L322.6 331.4L319.4 330.3L316.0 329.2L312.7 328.0L309.3 326.8L305.8 325.5L302.3 324.1L298.8 322.6L295.2 321.0L291.6 319.4L288.0 317.7L284.4 315.9L280.8 314.1L277.1 312.2L273.5 310.2L269.8 308.1L266.2 306.0L262.5 303.7L258.9 301.4L255.3 299.1L251.7 296.6L248.2 294.1L244.6 291.6L241.1 288.9L237.6 286.2L234.2 283.5L230.8 280.7L227.5 277.8L224.2 274.9L220.9 271.9L217.7 268.9L214.6 265.8L211.5 262.7L208.5 259.5M380.6 344.4L380.0 344.4L379.3 344.5L378.5 344.6L377.6 344.6L376.5 344.7L375.4 344.7L374.2 344.7L372.8 344.7L371.4 344.6L369.8 344.5L368.2 344.4L366.4 344.3L364.5 344.1L362.6 343.9L360.5 343.7L358.4 343.4L356.1 343.1L353.8 342.7L351.4 342.3L348.9 341.8L346.3 341.2L343.6 340.7L340.8 340.0L338.0 339.3L335.1 338.5L332.1 337.7L329.1 336.8L326.0 335.8L322.9 334.7L319.7 333.6L316.4 332.4L313.1 331.2L309.8 329.8L306.4 328.4L303.0 326.9L299.5 325.3L296.1 323.7L292.6 321.9L289.1 320.1L285.5 318.2L282.0 316.3L278.5 314.2L274.9 312.1L271.4 309.9L267.9 307.6L264.4 305.3L260.9 302.8L257.4 300.3L253.9 297.8L250.5 295.1L247.1 292.4L243.7 289.6L240.4 286.8L237.1 283.9L233.9 281.0L230.7 278.0L227.5 274.9L224.4 271.8L221.4 268.7L218.4 265.5L215.4 262.3L212.6 259.0L209.8 255.7L207.0 252.4L204.3 249.1L201.7 245.8L199.1 242.4M378.8 346.3L378.0 346.5L377.1 346.7L376.1 346.8L375.0 346.9L373.8 347.0L372.5 347.1L371.1 347.1L369.5 347.1L367.9 347.0L366.2 347.0L364.3 346.8L362.4 346.7L360.4 346.4L358.3 346.2L356.1 345.9L353.8 345.5L351.4 345.1L348.9 344.6L346.4 344.0L343.7 343.4L341.0 342.7L338.3 342.0L335.4 341.2L332.5 340.3L329.6 339.3L326.5 338.3L323.5 337.2L320.3 336.0L317.2 334.7L314.0 333.4L310.7 331.9L307.4 330.4L304.1 328.8L300.8 327.1L297.4 325.4L294.0 323.6L290.6 321.6L287.2 319.6L283.8 317.5L280.4 315.4L277.0 313.1L273.6 310.8L270.3 308.4L266.9 305.9L263.5 303.4L260.2 300.8L256.9 298.1L253.6 295.3L250.4 292.5L247.2 289.6L244.0 286.7L240.9 283.7L237.8 280.6L234.7 277.5L231.7 274.3L228.8 271.1L225.9 267.9L223.1 264.6L220.3 261.3L217.6 258.0L214.9 254.6L212.3 251.2L209.8 247.8L207.3 244.4L204.9 241.0L202.5 237.6L200.2 234.1L198.0 230.7L195.8 227.3M376.7 348.0L375.8 348.2L374.7 348.4L373.5 348.6L372.2 348.7L370.9 348.8L369.4 348.8L367.8 348.8L366.1 348.8L364.3 348.7L362.4 348.6L360.4 348.4L358.4 348.1L356.2 347.8L354.0 347.5L351.7 347.0L349.2 346.5L346.8 346.0L344.2 345.3L341.6 344.6L338.9 343.8L336.1 343.0L333.3 342.0L330.4 341.0L327.5 339.9L324.5 338.7L321.5 337.5L318.4 336.1L315.3 334.7L312.2 333.2L309.0 331.6L305.8 329.9L302.6 328.1L299.4 326.3L296.1 324.3L292.9 322.3L289.6 320.2L286.3 318.0L283.1 315.7L279.8 313.4L276.6 311.0L273.4 308.4L270.2 305.9L267.0 303.2L263.8 300.5L260.7 297.7L257.6 294.8L254.5 291.9L251.4 288.9L248.4 285.9L245.5 282.8L242.6 279.6L239.7 276.4L236.9 273.2L234.1 269.9L231.4 266.6L228.7 263.3L226.1 259.9L223.5 256.5L221.0 253.1L218.6 249.6L216.2 246.2L213.8 242.7L211.6 239.3L209.3 235.8L207.2 232.4L205.1 228.9L203.0 225.5L201.1 222.1L199.1 218.7L197.3 215.3M374.6 349.2L373.4 349.4L372.2 349.6L370.9 349.8L369.4 349.9L367.9 349.9L366.2 349.9L364.5 349.9L362.7 349.8L360.8 349.6L358.8 349.3L356.7 349.0L354.5 348.7L352.2 348.2L349.9 347.7L347.5 347.1L345.0 346.5L342.5 345.7L339.9 344.9L337.2 344.0L334.5 343.0L331.7 341.9L328.9 340.8L326.0 339.5L323.1 338.2L320.2 336.8L317.2 335.3L314.2 333.7L311.1 332.0L308.1 330.2L305.0 328.4L301.9 326.4L298.8 324.4L295.7 322.3L292.6 320.1L289.5 317.8L286.4 315.4L283.4 313.0L280.3 310.5L277.2 307.9L274.2 305.2L271.2 302.5L268.2 299.6L265.2 296.8L262.3 293.8L259.4 290.8L256.6 287.8L253.7 284.6L251.0 281.5L248.2 278.3L245.5 275.0L242.9 271.7L240.3 268.4L237.7 265.0L235.2 261.6L232.8 258.2L230.4 254.8L228.0 251.3L225.7 247.9L223.5 244.4L221.3 241.0L219.1 237.5L217.1 234.0L215.0 230.6L213.1 227.1L211.1 223.7L209.3 220.3L207.4 217.0L205.6 213.6L203.9 210.4L202.2 207.1L200.6 203.9M372.4 349.9L371.1 350.1L369.7 350.2L368.2 350.3L366.7 350.4L365.0 350.3L363.2 350.3L361.4 350.1L359.4 349.9L357.4 349.6L355.3 349.2L353.2 348.7L350.9 348.2L348.6 347.6L346.2 346.9L343.8 346.1L341.3 345.3L338.8 344.3L336.1 343.3L333.5 342.2L330.8 340.9L328.1 339.6L325.3 338.3L322.5 336.8L319.6 335.2L316.8 333.5L313.9 331.8L311.0 329.9L308.1 328.0L305.2 326.0L302.2 323.9L299.3 321.7L296.4 319.4L293.5 317.0L290.5 314.6L287.6 312.1L284.7 309.5L281.9 306.8L279.0 304.1L276.2 301.3L273.4 298.4L270.6 295.4L267.9 292.4L265.2 289.4L262.5 286.3L259.9 283.1L257.3 279.9L254.7 276.6L252.2 273.4L249.7 270.0L247.3 266.7L244.9 263.3L242.6 259.9L240.3 256.5L238.1 253.0L235.9 249.6L233.7 246.1L231.6 242.7L229.6 239.2L227.6 235.8L225.6 232.3L223.7 228.9L221.8 225.5L220.0 222.1L218.2 218.8L216.5 215.5L214.8 212.2L213.2 209.0L211.5 205.8L210.0 202.6L208.4 199.6L206.9 196.5M370.3 350.1L368.9 350.2L367.4 350.3L365.8 350.3L364.1 350.2L362.3 350.0L360.5 349.8L358.6 349.5L356.6 349.1L354.5 348.7L352.4 348.1L350.2 347.5L347.9 346.8L345.6 346.0L343.2 345.1L340.8 344.1L338.3 343.0L335.8 341.8L333.2 340.6L330.6 339.2L328.0 337.8L325.3 336.2L322.7 334.6L320.0 332.9L317.2 331.1L314.5 329.2L311.8 327.2L309.0 325.1L306.3 322.9L303.5 320.7L300.8 318.3L298.1 315.9L295.3 313.4L292.6 310.8L289.9 308.2L287.2 305.5L284.6 302.7L281.9 299.8L279.3 296.9L276.8 293.9L274.2 290.9L271.7 287.8L269.2 284.6L266.8 281.4L264.3 278.2L262.0 274.9L259.6 271.6L257.3 268.3L255.1 265.0L252.9 261.6L250.7 258.2L248.6 254.8L246.5 251.4L244.5 247.9L242.5 244.5L240.5 241.1L238.6 237.7L236.7 234.3L234.9 230.9L233.1 227.5L231.3 224.2L229.6 220.9L227.9 217.6L226.3 214.4L224.6 211.2L223.0 208.1L221.5 205.0L219.9 201.9L218.4 198.9L217.0 196.0L215.5 193.1M368.4 349.7L366.9 349.7L365.3 349.7L363.6 349.5L361.9 349.3L360.1 349.0L358.2 348.6L356.2 348.2L354.2 347.6L352.1 347.0L350.0 346.2L347.8 345.4L345.5 344.5L343.3 343.4L340.9 342.3L338.5 341.1L336.1 339.8L333.7 338.4L331.2 336.9L328.8 335.4L326.2 333.7L323.7 331.9L321.2 330.0L318.6 328.1L316.1 326.0L313.5 323.9L310.9 321.7L308.4 319.4L305.8 317.0L303.3 314.5L300.8 312.0L298.2 309.4L295.7 306.7L293.3 304.0L290.8 301.1L288.4 298.3L285.9 295.3L283.6 292.3L281.2 289.3L278.9 286.2L276.6 283.0L274.3 279.8L272.1 276.6L269.9 273.3L267.8 270.1L265.6 266.8L263.6 263.4L261.5 260.1L259.5 256.7L257.5 253.3L255.6 250.0L253.7 246.6L251.8 243.2L250.0 239.9L248.2 236.5L246.5 233.2L244.7 229.9L243.0 226.6L241.4 223.4L239.7 220.2L238.1 217.0L236.5 213.9L235.0 210.8L233.4 207.7L231.9 204.8L230.4 201.8L228.9 198.9L227.4 196.1L226.0 193.4L224.5 190.7M366.8 348.8L365.3 348.7L363.6 348.5L361.9 348.2L360.1 347.8L358.3 347.3L356.4 346.8L354.4 346.1L352.4 345.4L350.4 344.5L348.3 343.6L346.2 342.5L344.0 341.4L341.8 340.1L339.5 338.8L337.2 337.4L335.0 335.8L332.6 334.2L330.3 332.5L328.0 330.7L325.6 328.8L323.2 326.8L320.9 324.7L318.5 322.6L316.1 320.3L313.8 318.0L311.4 315.6L309.1 313.1L306.7 310.6L304.4 307.9L302.1 305.2L299.9 302.5L297.6 299.6L295.4 296.8L293.1 293.8L291.0 290.8L288.8 287.8L286.7 284.7L284.6 281.6L282.5 278.4L280.4 275.2L278.4 272.0L276.4 268.8L274.5 265.5L272.6 262.2L270.7 258.9L268.8 255.6L267.0 252.3L265.2 249.0L263.4 245.7L261.7 242.5L260.0 239.2L258.3 236.0L256.7 232.7L255.0 229.5L253.4 226.4L251.8 223.2L250.3 220.1L248.7 217.1L247.2 214.1L245.7 211.1L244.2 208.2L242.7 205.3L241.2 202.5L239.7 199.8L238.2 197.1L236.7 194.5L235.3 191.9L233.8 189.4M365.6 347.5L364.0 347.2L362.4 346.8L360.7 346.3L358.9 345.8L357.1 345.1L355.2 344.3L353.3 343.4L351.4 342.5L349.4 341.4L347.4 340.3L345.4 339.0L343.3 337.6L341.2 336.2L339.1 334.7L336.9 333.0L334.8 331.3L332.6 329.4L330.5 327.5L328.3 325.5L326.1 323.4L324.0 321.3L321.8 319.0L319.6 316.7L317.5 314.3L315.3 311.8L313.2 309.2L311.1 306.6L309.0 303.9L306.9 301.1L304.9 298.3L302.8 295.5L300.8 292.5L298.8 289.6L296.8 286.6L294.9 283.5L293.0 280.5L291.1 277.4L289.2 274.2L287.4 271.1L285.5 267.9L283.8 264.7L282.0 261.5L280.3 258.3L278.5 255.1L276.9 251.9L275.2 248.7L273.5 245.5L271.9 242.3L270.3 239.2L268.7 236.0L267.2 232.9L265.6 229.9L264.1 226.8L262.5 223.8L261.0 220.9L259.5 217.9L258.0 215.1L256.5 212.2L255.0 209.5L253.6 206.8L252.1 204.1L250.6 201.5L249.1 199.0L247.6 196.5L246.1 194.1L244.6 191.8L243.0 189.5" stroke="#4a4ac8" stroke-width="1" fill="none" opacity="0.75"/>
<path d="M450.0 245.0L449.6 244.7L449.3 244.3L449.0 243.8L448.7 243.3L448.6 242.8L448.5 242.1L448.4 241.5L448.5 240.8L448.6 240.1L448.7 239.4L449.0 238.7L449.2 238.0L449.6 237.3L450.0 236.6L450.4 235.9L450.9 235.3L451.4 234.7L452.0 234.1L452.6 233.6L453.2 233.2L453.8 232.8L454.4 232.5L455.1 232.3L455.7 232.2L456.3 232.1L456.8 232.1L457.4 232.1L457.9 232.3L458.4 232.5L458.8 232.8L459.2 233.2L459.5 233.6L459.7 234.1L459.9 234.6L460.1 235.2L460.1 235.8L460.1 236.5L460.1 237.2L459.9 237.9L459.7 238.6L459.5 239.3L459.2 240.0L458.8 240.7L458.4 241.4L457.9 242.1L457.4 242.7L456.9 243.2L456.3 243.8L455.7 244.2L455.1 244.6L454.5 245.0L453.8 245.2L453.2 245.4L452.6 245.5L452.0 245.6L451.5 245.6L450.9 245.5L450.5 245.3L450.0 245.0M443.8 249.7L443.0 249.0L442.3 248.3L441.7 247.4L441.3 246.3L440.9 245.2L440.7 244.0L440.7 242.7L440.7 241.4L440.9 240.0L441.2 238.6L441.7 237.2L442.3 235.7L442.9 234.3L443.7 233.0L444.6 231.6L445.6 230.4L446.6 229.2L447.7 228.1L448.9 227.1L450.1 226.3L451.3 225.5L452.5 224.9L453.8 224.5L455.0 224.2L456.2 224.0L457.3 224.0L458.4 224.1L459.4 224.4L460.3 224.9L461.2 225.5L461.9 226.2L462.5 227.0L463.1 228.0L463.4 229.0L463.7 230.2L463.8 231.5L463.9 232.8L463.7 234.1L463.5 235.5L463.1 237.0L462.6 238.4L461.9 239.8L461.2 241.2L460.4 242.6L459.5 243.8L458.4 245.1L457.4 246.2L456.2 247.2L455.0 248.2L453.8 249.0L452.6 249.6L451.4 250.1L450.1 250.5L448.9 250.8L447.8 250.9L446.7 250.8L445.6 250.6L444.7 250.2L443.8 249.7M436.3 253.3L435.2 252.3L434.1 251.2L433.3 249.8L432.6 248.3L432.1 246.7L431.8 244.9L431.7 243.0L431.8 241.0L432.1 238.9L432.6 236.8L433.3 234.7L434.1 232.6L435.1 230.5L436.3 228.5L437.6 226.5L439.0 224.7L440.6 222.9L442.2 221.3L443.9 219.9L445.7 218.6L447.5 217.5L449.3 216.6L451.2 215.9L453.0 215.5L454.7 215.2L456.4 215.2L458.0 215.4L459.5 215.9L460.9 216.5L462.1 217.4L463.2 218.4L464.2 219.7L464.9 221.1L465.5 222.7L465.9 224.4L466.1 226.3L466.1 228.2L465.9 230.2L465.5 232.3L464.9 234.4L464.2 236.6L463.3 238.7L462.2 240.7L460.9 242.7L459.6 244.6L458.1 246.4L456.5 248.1L454.8 249.6L453.0 251.0L451.3 252.2L449.4 253.2L447.6 254.0L445.8 254.5L444.0 254.9L442.3 255.0L440.6 254.9L439.1 254.6L437.6 254.1L436.3 253.3M427.8 255.8L426.3 254.5L424.9 253.0L423.8 251.2L422.9 249.2L422.3 247.1L421.9 244.7L421.8 242.2L421.9 239.6L422.3 236.9L422.9 234.2L423.8 231.4L424.9 228.6L426.2 225.9L427.7 223.2L429.4 220.7L431.3 218.2L433.3 215.9L435.5 213.8L437.7 211.9L440.1 210.3L442.5 208.8L444.8 207.7L447.2 206.8L449.6 206.2L451.9 205.9L454.1 205.8L456.2 206.1L458.2 206.7L460.0 207.5L461.6 208.7L463.0 210.1L464.3 211.7L465.3 213.6L466.0 215.7L466.5 217.9L466.8 220.3L466.8 222.9L466.6 225.5L466.1 228.3L465.3 231.0L464.3 233.8L463.1 236.6L461.7 239.3L460.1 241.9L458.3 244.4L456.3 246.8L454.2 249.0L452.0 251.0L449.7 252.7L447.4 254.3L445.0 255.6L442.6 256.6L440.2 257.4L437.9 257.8L435.6 258.0L433.4 257.9L431.4 257.5L429.5 256.7L427.8 255.8M418.3 257.0L416.4 255.5L414.8 253.6L413.5 251.5L412.4 249.1L411.6 246.4L411.1 243.5L411.0 240.5L411.1 237.3L411.6 234.0L412.3 230.7L413.4 227.3L414.7 223.9L416.3 220.5L418.2 217.3L420.3 214.1L422.6 211.2L425.1 208.4L427.7 205.8L430.5 203.5L433.3 201.4L436.2 199.7L439.2 198.3L442.1 197.2L445.0 196.4L447.8 196.0L450.5 196.0L453.0 196.4L455.4 197.1L457.6 198.1L459.6 199.5L461.4 201.2L462.9 203.2L464.1 205.5L465.0 208.0L465.7 210.8L466.0 213.7L466.0 216.8L465.7 220.1L465.1 223.4L464.2 226.8L463.0 230.2L461.5 233.6L459.7 236.9L457.8 240.1L455.6 243.1L453.2 246.0L450.6 248.7L447.9 251.2L445.1 253.4L442.2 255.3L439.3 256.8L436.4 258.1L433.5 259.0L430.6 259.6L427.9 259.8L425.2 259.6L422.7 259.1L420.4 258.2L418.3 257.0M408.0 257.1L405.8 255.3L403.9 253.1L402.3 250.6L401.1 247.8L400.2 244.7L399.6 241.4L399.4 237.8L399.6 234.1L400.1 230.3L401.0 226.3L402.3 222.4L403.8 218.4L405.7 214.5L407.9 210.7L410.3 207.0L413.0 203.6L415.9 200.3L419.0 197.3L422.2 194.6L425.5 192.2L428.9 190.2L432.3 188.5L435.7 187.2L439.1 186.4L442.4 185.9L445.5 185.9L448.5 186.3L451.3 187.1L453.9 188.3L456.3 189.9L458.3 191.9L460.0 194.3L461.5 196.9L462.5 199.9L463.3 203.1L463.7 206.6L463.7 210.2L463.3 214.0L462.6 217.9L461.5 221.8L460.1 225.8L458.4 229.7L456.4 233.6L454.1 237.3L451.5 240.9L448.7 244.3L445.7 247.4L442.6 250.3L439.3 252.8L435.9 255.0L432.5 256.9L429.1 258.4L425.7 259.4L422.4 260.1L419.1 260.3L416.1 260.1L413.2 259.5L410.5 258.5L408.0 257.1M397.0 256.0L394.6 254.0L392.4 251.5L390.6 248.7L389.2 245.5L388.2 242.0L387.6 238.2L387.3 234.2L387.5 230.0L388.1 225.7L389.1 221.2L390.5 216.8L392.3 212.3L394.4 207.9L396.9 203.6L399.7 199.5L402.7 195.5L405.9 191.9L409.4 188.5L413.0 185.4L416.8 182.7L420.6 180.4L424.5 178.6L428.3 177.1L432.1 176.1L435.8 175.6L439.4 175.6L442.8 176.0L445.9 177.0L448.9 178.3L451.5 180.1L453.8 182.4L455.8 185.0L457.4 188.0L458.6 191.4L459.4 195.0L459.8 198.9L459.9 203.0L459.5 207.3L458.6 211.7L457.4 216.2L455.9 220.6L453.9 225.1L451.6 229.4L449.0 233.6L446.1 237.7L442.9 241.5L439.6 245.0L436.0 248.3L432.3 251.1L428.5 253.6L424.7 255.7L420.8 257.4L417.0 258.6L413.2 259.3L409.6 259.6L406.1 259.4L402.8 258.7L399.8 257.6L397.0 256.0M385.5 253.7L382.8 251.4L380.5 248.8L378.5 245.6L376.9 242.1L375.8 238.3L375.1 234.1L374.9 229.7L375.1 225.1L375.8 220.3L376.9 215.5L378.4 210.6L380.3 205.7L382.7 200.8L385.4 196.1L388.4 191.5L391.8 187.2L395.3 183.2L399.2 179.5L403.1 176.1L407.3 173.1L411.5 170.6L415.7 168.5L420.0 167.0L424.1 165.9L428.2 165.3L432.1 165.3L435.8 165.8L439.3 166.8L442.5 168.3L445.4 170.3L447.9 172.8L450.1 175.7L451.9 179.0L453.2 182.7L454.1 186.7L454.6 190.9L454.6 195.5L454.2 200.2L453.3 205.0L452.0 209.9L450.2 214.8L448.1 219.7L445.5 224.5L442.7 229.1L439.5 233.6L436.0 237.7L432.3 241.6L428.4 245.2L424.3 248.4L420.2 251.1L415.9 253.4L411.7 255.2L407.5 256.6L403.4 257.4L399.4 257.7L395.5 257.4L391.9 256.7L388.6 255.4L385.5 253.7M373.7 250.2L370.8 247.8L368.2 244.9L366.1 241.6L364.4 237.8L363.2 233.7L362.5 229.2L362.2 224.5L362.5 219.5L363.2 214.4L364.4 209.1L366.0 203.8L368.1 198.6L370.6 193.3L373.5 188.3L376.8 183.4L380.4 178.7L384.3 174.4L388.4 170.4L392.6 166.8L397.1 163.6L401.6 160.8L406.2 158.6L410.7 156.9L415.2 155.8L419.6 155.2L423.8 155.1L427.8 155.7L431.6 156.7L435.0 158.4L438.1 160.5L440.8 163.2L443.2 166.3L445.1 169.9L446.5 173.8L447.5 178.1L448.0 182.7L448.0 187.6L447.5 192.7L446.6 197.8L445.2 203.1L443.3 208.4L441.0 213.7L438.3 218.8L435.2 223.8L431.7 228.6L428.0 233.1L424.0 237.3L419.8 241.1L415.5 244.5L411.0 247.5L406.4 249.9L401.8 251.9L397.3 253.3L392.9 254.2L388.6 254.5L384.5 254.3L380.6 253.5L377.0 252.1L373.7 250.2M361.7 245.7L358.6 243.1L355.9 240.1L353.7 236.5L351.9 232.6L350.6 228.2L349.9 223.5L349.6 218.5L349.8 213.2L350.6 207.8L351.8 202.3L353.6 196.7L355.8 191.1L358.4 185.6L361.5 180.2L365.0 175.1L368.8 170.2L372.8 165.6L377.2 161.3L381.7 157.5L386.4 154.2L391.2 151.3L396.0 148.9L400.8 147.1L405.5 145.9L410.2 145.3L414.6 145.3L418.8 145.8L422.8 146.9L426.4 148.7L429.7 150.9L432.6 153.7L435.1 157.0L437.1 160.8L438.6 165.0L439.6 169.5L440.2 174.4L440.2 179.5L439.7 184.9M396.2 245.4L391.4 247.4L386.6 248.9L381.9 249.9L377.4 250.2L373.1 249.9L369.0 249.1L365.2 247.7L361.7 245.7M349.7 240.1L346.5 237.4L343.7 234.3L341.4 230.6L339.5 226.5L338.2 221.9L337.4 217.0L337.1 211.8L337.4 206.4L338.1 200.8L339.5 195.0L341.3 189.2L343.6 183.4L346.3 177.7L349.5 172.1L353.1 166.8L357.0 161.7L361.3 156.9L365.8 152.5L370.5 148.6L375.3 145.1L380.3 142.1L385.3 139.6L390.3 137.8L395.2 136.5L400.0 135.9L404.6 135.8L409.0 136.4L413.1 137.6L416.9 139.4L420.3 141.7L423.3 144.6L425.9 148.0L428.0 152.0L429.5 156.3M370.7 244.4L366.0 244.8L361.5 244.5L357.2 243.6L353.3 242.2L349.7 240.1M337.9 233.5L334.6 230.8L331.7 227.6L329.4 223.8L327.5 219.6L326.1 215.0L325.3 210.0L325.0 204.7L325.3 199.1L326.1 193.3L327.4 187.5L329.2 181.5L331.6 175.6L334.4 169.8L337.7 164.1L341.3 158.6L345.4 153.4L349.7 148.5L354.3 144.0L359.1 140.0L364.1 136.4L369.1 133.3L374.3 130.8L379.4 128.9L384.4 127.6L389.3 127.0L394.0 126.9L398.5 127.5L402.7 128.7L406.6 130.6L410.1 133.0L413.1 135.9L415.8 139.4M345.6 237.2L341.5 235.7L337.9 233.5M326.4 226.2L323.1 223.4L320.2 220.2L317.8 216.4L315.9 212.1L314.6 207.5L313.7 202.4L313.4 197.1L313.7 191.4L314.5 185.7L315.8 179.7L317.7 173.8L320.1 167.8L322.9 161.9L326.2 156.2L329.9 150.7L333.9 145.4L338.3 140.5L342.9 136.0L347.8 131.9L352.8 128.3L357.9 125.2L363.1 122.7L368.2 120.8L373.3 119.5L378.2 118.8L383.0 118.8L387.5 119.3L391.7 120.6L395.6 122.4L399.1 124.8M309.3 212.1L306.9 208.3L305.0 204.1L303.7 199.5L302.9 194.4L302.6 189.1L302.8 183.6L303.6 177.8L305.0 171.9L306.8 166.0L309.2 160.1L312.0 154.2L315.2 148.6L318.9 143.1L322.9 137.9L327.3 133.0L331.9 128.5L336.7 124.4L341.6 120.9L346.7 117.8L351.8 115.3L356.9 113.4L362.0 112.1L366.9 111.4L371.6 111.4L376.1 112.0M293.7 191.1L292.8 186.2L292.6 181.0L292.8 175.5L293.6 169.9L294.9 164.2L296.7 158.4L299.0 152.6L301.8 146.9L305.0 141.3L308.5 135.9L312.5 130.8L316.7 126.1L321.2 121.7L325.9 117.7L330.8 114.2L335.7 111.2L340.7 108.8L345.7 106.9L350.7 105.7L355.5 105.0M283.8 167.5L284.6 162.1L285.8 156.6L287.6 151.0L289.8 145.4L292.4 139.9L295.5 134.5L299.0 129.4L302.7 124.5L306.8 119.9L311.2 115.6L315.7 111.8L320.4 108.5L325.2 105.6M443.8 249.7L441.1 251.2L438.3 252.5L435.4 253.7L432.3 254.7L429.0 255.5L425.6 256.2L422.1 256.7L418.5 257.0L414.7 257.2L410.9 257.2L406.9 257.0L402.9 256.7L398.7 256.2L394.5 255.6L390.3 254.8L385.9 253.8L381.6 252.6L377.1 251.3L372.7 249.9L368.2 248.3L363.7 246.5L359.2 244.6L354.8 242.6L350.3 240.4L345.8 238.1L341.4 235.6L337.1 233.1L332.7 230.4L328.5 227.6M442.1 248.0L439.2 249.2L436.1 250.2L432.8 251.1L429.5 251.8L425.9 252.4L422.3 252.8L418.5 253.0L414.6 253.1L410.6 253.0L406.5 252.8L402.3 252.4L398.0 251.8L393.7 251.1L389.3 250.3L384.8 249.2L380.3 248.1L375.8 246.8L371.2 245.3L366.6 243.7L362.0 241.9L357.4 240.1L352.8 238.1L348.2 235.9L343.6 233.6L339.1 231.3L334.7 228.8L330.2 226.2L325.9 223.4L321.6 220.6L317.4 217.7L313.3 214.7L309.3 211.7M441.1 245.8L437.9 246.5L434.7 247.1L431.2 247.6L427.7 247.9L423.9 248.1L420.1 248.1L416.2 248.0L412.1 247.7L407.9 247.3L403.7 246.7L399.4 246.0L394.9 245.1L390.5 244.1L385.9 242.9L381.3 241.7L376.7 240.2L372.0 238.7L367.4 237.0L362.7 235.2L358.0 233.3L353.3 231.2L348.6 229.1L344.0 226.8L339.4 224.4L334.8 221.9L330.3 219.4L325.9 216.7L321.5 213.9L317.2 211.1L313.0 208.2L308.9 205.2L305.0 202.2L301.1 199.1L297.3 196.0L293.7 192.8M440.7 243.0L437.5 243.2L434.1 243.4L430.6 243.3L427.0 243.2L423.2 242.9L419.3 242.4L415.3 241.8L411.2 241.1L406.9 240.3L402.6 239.3L398.2 238.2L393.8 237.0L389.2 235.6L384.6 234.1L380.0 232.5L375.3 230.8L370.6 228.9L365.9 227.0L361.2 224.9L356.4 222.8L351.7 220.5L347.0 218.2L342.4 215.7L337.8 213.2L333.2 210.6L328.7 207.9L324.2 205.2L319.8 202.4L315.6 199.6L311.4 196.7L307.3 193.7L303.3 190.7L299.4 187.7L295.7 184.7L292.1 181.6L288.6 178.5L285.3 175.4M440.9 239.9L437.8 239.6L434.5 239.2L431.0 238.6L427.4 237.9L423.7 237.1L419.9 236.1L415.9 235.0L411.8 233.8L407.6 232.5L403.3 231.1L399.0 229.5L394.6 227.9L390.1 226.1L385.5 224.2L380.9 222.2L376.3 220.2L371.6 218.0L366.9 215.8L362.2 213.4L357.5 211.0L352.8 208.5L348.1 206.0L343.5 203.4L338.9 200.7L334.3 198.0L329.8 195.2L325.3 192.4L321.0 189.5L316.7 186.6L312.5 183.7L308.4 180.8L304.4 177.9L300.6 175.0L296.8 172.0L293.2 169.1L289.7 166.2L286.4 163.3L283.2 160.4M441.9 236.7L438.9 235.8L435.7 234.8L432.5 233.6L429.0 232.4L425.5 231.0L421.8 229.5L417.9 227.9L414.0 226.2L410.0 224.4L405.8 222.4L401.6 220.4L397.3 218.3L392.9 216.1L388.5 213.9L384.0 211.5L379.4 209.1L374.9 206.6L370.3 204.0L365.6 201.4L361.0 198.7L356.4 196.0L351.8 193.2L347.2 190.4L342.6 187.6L338.1 184.7L333.6 181.9L329.2 179.0L324.9 176.1L320.6 173.1L316.4 170.2L312.3 167.3L308.3 164.5L304.4 161.6L300.6 158.8L297.0 156.0L293.5 153.2L290.1 150.5L286.8 147.8L283.8 145.2M443.4 233.5L440.7 232.0L437.8 230.4L434.8 228.7L431.7 226.9L428.3 225.0L424.9 223.0L421.3 220.8L417.6 218.6L413.8 216.3L409.9 213.9L405.9 211.5L401.8 208.9L397.6 206.3L393.4 203.7L389.1 200.9L384.7 198.1L380.3 195.3L375.8 192.4L371.4 189.5L366.9 186.6L362.3 183.6L357.8 180.7L353.3 177.7L348.8 174.7L344.4 171.7L340.0 168.7L335.6 165.7L331.3 162.8L327.0 159.8L322.8 156.9L318.7 154.1L314.7 151.2L310.7 148.5L306.9 145.7L303.2 143.1L299.6 140.5L296.1 137.9L292.8 135.5L289.6 133.1L286.5 130.8M445.5 230.5L443.1 228.5L440.6 226.4L438.0 224.2L435.2 221.8L432.2 219.4L429.1 216.9L425.9 214.3L422.5 211.6L419.0 208.9L415.4 206.0L411.7 203.2L407.9 200.2L403.9 197.2L399.9 194.2L395.9 191.1L391.7 188.0L387.5 184.9L383.3 181.7L379.0 178.5L374.6 175.4L370.3 172.2L365.9 169.0L361.5 165.8L357.1 162.7L352.8 159.6L348.4 156.5L344.1 153.4L339.8 150.4L335.5 147.5L331.4 144.6L327.2 141.7L323.2 138.9L319.2 136.2L315.3 133.6L311.5 131.1L307.8 128.6L304.2 126.3L300.7 124.0L297.4 121.9L294.2 119.8M447.9 228.0L446.0 225.5L444.0 222.9L441.7 220.2L439.3 217.5L436.8 214.6L434.1 211.7L431.3 208.6L428.3 205.6L425.2 202.4L421.9 199.2L418.5 196.0L415.1 192.7L411.5 189.4L407.8 186.0L404.0 182.6L400.1 179.2L396.2 175.8L392.2 172.4L388.1 169.0L383.9 165.6L379.8 162.3L375.5 158.9L371.3 155.6L367.0 152.3L362.8 149.1L358.5 145.9L354.2 142.8L350.0 139.8L345.8 136.8L341.6 133.9L337.4 131.0L333.3 128.3L329.3 125.7L325.3 123.1L321.4 120.7L317.6 118.4L313.8 116.2L310.2 114.1L306.7 112.1M450.6 226.0L449.2 223.1L447.6 220.2L445.9 217.1L444.0 214.0L441.9 210.8L439.6 207.5L437.2 204.2L434.7 200.8L432.0 197.4L429.1 193.9L426.1 190.3L423.0 186.8L419.8 183.2L416.4 179.6L412.9 176.0L409.4 172.3L405.7 168.7L401.9 165.1L398.1 161.5L394.2 158.0L390.2 154.5L386.2 151.0L382.1 147.6L378.0 144.2L373.8 140.9L369.6 137.6L365.4 134.5L361.2 131.4L357.0 128.4L352.8 125.5L348.7 122.7L344.5 120.0L340.4 117.4L336.3 114.9L332.3 112.6L328.4 110.4L324.5 108.3L320.7 106.3M453.4 224.6L452.5 221.5L451.4 218.3L450.2 215.1L448.7 211.7L447.1 208.3L445.3 204.8L443.4 201.2L441.3 197.6L439.0 194.0L436.6 190.3L434.0 186.6L431.2 182.8L428.4 179.1L425.4 175.3L422.2 171.5L419.0 167.7L415.6 164.0L412.1 160.3L408.5 156.6L404.8 152.9L401.1 149.3L397.2 145.7L393.3 142.2L389.3 138.8L385.3 135.4L381.2 132.1L377.1 128.9L372.9 125.8L368.7 122.8L364.5 119.9L360.3 117.1L356.1 114.4L351.9 111.9L347.8 109.4L343.6 107.1L339.6 105.0L335.5 103.0M456.1 224.0L455.7 220.8L455.1 217.5L454.4 214.2L453.4 210.7L452.3 207.2L450.9 203.6L449.4 199.9L447.7 196.2L445.9 192.5L443.8 188.7L441.6 184.9L439.3 181.1L436.8 177.2L434.1 173.4L431.3 169.5L428.3 165.7L425.2 161.9L422.0 158.1L418.7 154.3L415.2 150.6L411.6 147.0L408.0 143.3L404.2 139.8L400.4 136.3L396.4 132.9L392.4 129.6L388.4 126.4L384.3 123.3L380.1 120.3L375.9 117.4L371.7 114.6L367.5 111.9L363.2 109.4L359.0 107.0L354.7 104.7M458.6 224.2L458.7 221.0L458.6 217.8L458.2 214.4L457.7 211.0L457.0 207.5L456.1 204.0L455.0 200.3L453.7 196.7L452.2 192.9L450.5 189.2L448.7 185.4L446.7 181.6L444.5 177.8L442.1 174.0L439.6 170.1L436.9 166.3L434.1 162.5L431.1 158.7L428.0 155.0L424.7 151.3L421.4 147.7L417.8 144.1L414.2 140.5L410.5 137.1L406.7 133.7L402.8 130.4L398.8 127.2L394.7 124.1L390.6 121.0L386.4 118.1L382.2 115.3L377.9 112.7M460.8 225.1L461.2 222.2L461.5 219.1L461.5 215.9L461.4 212.6L461.0 209.3L460.4 205.9L459.7 202.4L458.7 198.9L457.6 195.3L456.2 191.7L454.7 188.1L453.0 184.4L451.0 180.7L448.9 177.0L446.7 173.3L444.2 169.6L441.6 165.9L438.9 162.2L435.9 158.5L432.8 154.9L429.6 151.3L426.3 147.8L422.8 144.3L419.2 140.9L415.4 137.6L411.6 134.3L407.7 131.1L403.6 128.0L399.5 125.0M462.4 226.8L463.2 224.1L463.7 221.3L464.0 218.5L464.2 215.5L464.1 212.4L463.8 209.3L463.3 206.1L462.6 202.8L461.7 199.5L460.6 196.2L459.3 192.7L457.8 189.3L456.1 185.8L454.2 182.3L452.1 178.8L449.9 175.3L447.4 171.8L444.8 168.2L442.0 164.7L439.1 161.3L436.0 157.8L432.7 154.4L429.3 151.0L425.8 147.7L422.2 144.4L418.4 141.2L414.5 138.0M463.5 229.1L464.4 226.8L465.1 224.4L465.7 222.0L466.0 219.4L466.1 216.7L466.0 214.0L465.6 211.1L465.1 208.2L464.4 205.3L463.4 202.2L462.2 199.2L460.9 196.0L459.3 192.8L457.6 189.6L455.6 186.4L453.5 183.1L451.1 179.8L448.6 176.5L445.9 173.2L443.1 169.9L440.1 166.6L436.9 163.4L433.6 160.1L430.1 156.9M463.9 231.9L464.9 230.1L465.7 228.2L466.3 226.2L466.7 224.1L466.8 221.9L466.8 219.6L466.5 217.3L466.0 214.8L465.4 212.2L464.5 209.6L463.4 206.9L462.1 204.2L460.6 201.3L458.9 198.5L456.9 195.6L454.8 192.6L452.6 189.6L450.1 186.6L447.4 183.5L444.6 180.4L441.6 177.4L438.5 174.3M463.6 234.9L464.6 233.7L465.3 232.4L465.9 231.0L466.2 229.4L466.3 227.7L466.2 226.0L465.9 224.1L465.4 222.1L464.7 220.0L463.7 217.9L462.6 215.6L461.3 213.3L459.7 210.8L458.0 208.4L456.0 205.8L453.9 203.2L451.6 200.5L449.1 197.8L446.4 195.0L443.6 192.2L440.6 189.3M462.7 238.2L463.5 237.6L464.0 236.8L464.4 235.9L464.6 234.9L464.6 233.8L464.3 232.6L463.9 231.2L463.2 229.8L462.3 228.2L461.3 226.5L460.0 224.7L458.5 222.8L456.9 220.8L455.0 218.7L453.0 216.5L450.7 214.3L448.3 211.9L445.7 209.5L443.0 207.0L440.0 204.5M461.1 241.4L461.6 241.3L462.0 241.1L462.1 240.8L462.0 240.4L461.7 239.8L461.2 239.1L460.5 238.3L459.6 237.3L458.5 236.2L457.2 235.0L455.7 233.6L454.0 232.2L452.1 230.6L450.1 228.9L447.9 227.1L445.5 225.2L442.9 223.2L440.2 221.1L437.3 218.9M459.1 244.3L459.2 244.8L459.2 245.2L458.9 245.4L458.5 245.5L457.8 245.4L457.0 245.2L455.9 244.8L454.7 244.3L453.3 243.7L451.7 242.9L449.9 242.0L448.0 240.9L445.8 239.7L443.5 238.4L441.1 236.9L438.4 235.4L435.6 233.7L432.7 231.8L429.6 229.9M456.6 246.9L456.3 247.8L455.8 248.7L455.2 249.3L454.3 249.8L453.2 250.2L452.0 250.4L450.5 250.5L448.9 250.4L447.1 250.1L445.2 249.7L443.1 249.1L440.8 248.4L438.3 247.6L435.7 246.6L433.0 245.4L430.0 244.1L427.0 242.7L423.8 241.1L420.5 239.4L417.1 237.6M453.9 248.9L453.1 250.2L452.2 251.4L451.0 252.4L449.7 253.3L448.1 254.0L446.4 254.5L444.6 254.9L442.5 255.1L440.3 255.2L438.0 255.1L435.5 254.8L432.8 254.3L430.0 253.8L427.1 253.0L424.0 252.1L420.8 251.0L417.5 249.8L414.0 248.4L410.5 246.9L406.9 245.2L403.1 243.4M451.1 250.2L449.8 251.8L448.4 253.2L446.7 254.5L444.9 255.6L442.9 256.5L440.7 257.3L438.4 257.9L435.9 258.3L433.3 258.5L430.5 258.6L427.6 258.6L424.6 258.3L421.4 257.9L418.1 257.3L414.7 256.5L411.2 255.6L407.6 254.5L403.9 253.3L400.1 251.9L396.2 250.3L392.3 248.6L388.3 246.7M448.4 250.8L446.6 252.5L444.6 254.0L442.5 255.4L440.2 256.6L437.7 257.6L435.1 258.5L432.4 259.2L429.5 259.7L426.4 260.0L423.3 260.2L420.0 260.2L416.5 260.1L413.0 259.7L409.4 259.2L405.7 258.5L401.8 257.7L398.0 256.6L394.0 255.4L389.9 254.1L385.9 252.6L381.7 250.9L377.5 249.1L373.3 247.1L369.1 245.0M445.9 250.7L443.6 252.3L441.2 253.8L438.7 255.1L435.9 256.3L433.0 257.3L430.0 258.1L426.8 258.8L423.5 259.3L420.1 259.6L416.6 259.7L412.9 259.7L409.2 259.5L405.3 259.2L401.4 258.6L397.3 257.9L393.3 257.0L389.1 256.0L384.9 254.8L380.6 253.4L376.3 251.9L372.0 250.2L367.7 248.4L363.3 246.4L358.9 244.2L354.6 242.0L350.2 239.6L345.9 237.0M441.1 245.8L439.4 245.6L437.7 245.4L436.0 244.9L434.2 244.4L432.5 243.7L430.7 242.8L428.9 241.8L427.2 240.7L425.4 239.4L423.7 238.0L422.0 236.4L420.4 234.7L418.7 232.9L417.2 230.9L415.6 228.8L414.2 226.6L412.7 224.3L411.4 221.8L410.1 219.3L408.9 216.7L407.7 213.9L406.6 211.1L405.6 208.2L404.7 205.3L403.8 202.3L403.1 199.2L402.3 196.1L401.7 193.0L401.2 189.9L400.7 186.7L400.3 183.5L399.9 180.4L399.6 177.2L399.4 174.1L399.2 171.0L399.1 167.9L399.0 164.9L399.0 162.0L399.0 159.1L399.0 156.3L399.1 153.5L399.2 150.9L399.3 148.3L399.4 145.9L399.5 143.5L399.6 141.3L399.7 139.2L399.8 137.2L399.8 135.3L399.9 133.5L399.9 131.9L399.8 130.4L399.7 129.1L399.5 127.8L399.3 126.8L399.0 125.8L398.7 125.0L398.2 124.3L397.7 123.8M440.7 243.0L439.1 242.5L437.5 241.9L435.9 241.2L434.4 240.3L432.8 239.2L431.2 238.1L429.7 236.7L428.2 235.3L426.7 233.7L425.3 232.0L423.9 230.1L422.5 228.1L421.2 226.0L420.0 223.8L418.8 221.5L417.7 219.1L416.7 216.6L415.7 214.0L414.8 211.3L413.9 208.6L413.2 205.8L412.4 202.9L411.8 200.0L411.3 197.1L410.8 194.1L410.3 191.1L410.0 188.1L409.7 185.1L409.4 182.1L409.3 179.2L409.1 176.2L409.1 173.3L409.0 170.5L409.0 167.6L409.1 164.9L409.1 162.2L409.2 159.6L409.3 157.1L409.5 154.6L409.6 152.3L409.7 150.0L409.9 147.9L410.0 145.8L410.0 143.9L410.1 142.1L410.1 140.5L410.1 138.9L410.1 137.5L410.0 136.2L409.8 135.1L409.6 134.0L409.3 133.1L408.9 132.4L408.4 131.7L407.9 131.2L407.3 130.9L406.5 130.6M440.9 239.9L439.5 239.1L438.1 238.2L436.8 237.1L435.4 235.9L434.1 234.6L432.8 233.1L431.5 231.5L430.3 229.8L429.1 227.9L428.0 225.9L426.9 223.9L425.9 221.7L425.0 219.4L424.1 217.0L423.3 214.6L422.5 212.1L421.8 209.5L421.2 206.8L420.6 204.2L420.1 201.4L419.7 198.6L419.3 195.8L419.0 193.0L418.8 190.2L418.6 187.4L418.5 184.6L418.4 181.8L418.4 179.1L418.4 176.4L418.4 173.7L418.5 171.1L418.6 168.5L418.7 166.0L418.9 163.6L419.0 161.3L419.2 159.1L419.3 156.9L419.5 154.9L419.6 153.0L419.7 151.2L419.7 149.5L419.8 147.9L419.8 146.4L419.7 145.1L419.6 143.8L419.5 142.7L419.2 141.8L418.9 141.0L418.5 140.3L418.1 139.7L417.5 139.2L416.9 138.9L416.1 138.7L415.3 138.6M441.9 236.7L440.7 235.6L439.5 234.4L438.4 233.0L437.3 231.5L436.2 229.9L435.2 228.2L434.2 226.4L433.3 224.5L432.5 222.4L431.7 220.3L431.0 218.1L430.3 215.8L429.7 213.4L429.1 211.0L428.6 208.5L428.2 206.0L427.9 203.4L427.6 200.8L427.3 198.2L427.1 195.6L427.0 193.0L426.9 190.3L426.9 187.7L426.9 185.2L426.9 182.6L427.0 180.1L427.1 177.6L427.3 175.2L427.4 172.9L427.6 170.6L427.8 168.4L428.0 166.3L428.1 164.2L428.3 162.3L428.4 160.5L428.6 158.8L428.7 157.2L428.7 155.7L428.7 154.3L428.7 153.0L428.6 151.9L428.4 150.9L428.2 150.0L427.9 149.2L427.5 148.5L427.0 148.0L426.5 147.6L425.8 147.3L425.1 147.2L424.2 147.1L423.3 147.2M443.4 233.5L442.5 232.1L441.6 230.7L440.7 229.1L439.9 227.4L439.1 225.6L438.4 223.8L437.8 221.8L437.2 219.7L436.7 217.6L436.2 215.4L435.8 213.1L435.4 210.8L435.1 208.5L434.9 206.1L434.7 203.6L434.6 201.2L434.5 198.8L434.5 196.3L434.5 193.9L434.5 191.5L434.6 189.1L434.7 186.7L434.9 184.4L435.1 182.2L435.3 179.9L435.5 177.8L435.7 175.7L435.9 173.7L436.1 171.8L436.3 170.0L436.5 168.3L436.6 166.7L436.7 165.2L436.8 163.7L436.8 162.4L436.8 161.3L436.7 160.2L436.6 159.3L436.4 158.4L436.1 157.7L435.7 157.1L435.2 156.7L434.7 156.3L434.0 156.1L433.3 156.0L432.4 156.0L431.5 156.1L430.4 156.3L429.2 156.6M445.5 230.5L444.8 229.0L444.2 227.3L443.6 225.6L443.1 223.8L442.6 221.9L442.2 219.9L441.9 217.9L441.6 215.8L441.4 213.6L441.2 211.4L441.1 209.2L441.0 207.0L441.0 204.7L441.0 202.5L441.0 200.2L441.1 198.0L441.3 195.8L441.5 193.6L441.7 191.4L441.9 189.3L442.1 187.2L442.3 185.2L442.6 183.3L442.8 181.4L443.1 179.6L443.3 177.9L443.5 176.3L443.7 174.8L443.8 173.3L444.0 172.0L444.0 170.8L444.0 169.7L444.0 168.7L443.9 167.8L443.7 167.1L443.4 166.4L443.1 165.9L442.6 165.5L442.1 165.2L441.5 165.0L440.7 164.9L439.9 165.0L438.9 165.1L437.9 165.3L436.7 165.7L435.4 166.1L433.9 166.6M447.9 228.0L447.5 226.3L447.2 224.5L446.9 222.7L446.7 220.8L446.5 218.9L446.4 216.9L446.3 214.9L446.3 212.9L446.3 210.8L446.4 208.7L446.5 206.7L446.7 204.6L446.9 202.5L447.1 200.5L447.3 198.5L447.6 196.5L447.9 194.6L448.2 192.7L448.5 190.9L448.7 189.1L449.0 187.5L449.3 185.9L449.5 184.3L449.8 182.9L450.0 181.6L450.1 180.4L450.2 179.2L450.3 178.2L450.2 177.3L450.2 176.5L450.0 175.8L449.8 175.2L449.5 174.7L449.1 174.4L448.6 174.1L448.0 174.0L447.3 173.9L446.5 174.0L445.5 174.2L444.5 174.4L443.3 174.8L442.0 175.3L440.6 175.8L439.1 176.4M450.6 226.0L450.5 224.2L450.4 222.4L450.4 220.6L450.5 218.8L450.5 216.9L450.7 215.0L450.8 213.1L451.1 211.2L451.3 209.3L451.6 207.4L451.9 205.5L452.2 203.7L452.5 201.9L452.8 200.2L453.2 198.5L453.5 196.8L453.9 195.3L454.2 193.8L454.5 192.4L454.8 191.1L455.0 189.8L455.2 188.7L455.3 187.6L455.4 186.7L455.5 185.8L455.4 185.1L455.3 184.4L455.2 183.9L454.9 183.5L454.6 183.1L454.1 182.9L453.6 182.8L452.9 182.8L452.1 182.9L451.2 183.1L450.2 183.4L449.1 183.8L447.9 184.3L446.5 184.8L445.0 185.5L443.4 186.2L441.6 187.0M453.4 224.6L453.5 222.9L453.7 221.2L454.0 219.4L454.2 217.7L454.5 215.9L454.8 214.2L455.2 212.5L455.6 210.8L455.9 209.1L456.3 207.5L456.7 205.9L457.1 204.4L457.5 203.0L457.9 201.6L458.3 200.3L458.6 199.0L458.9 197.9L459.2 196.8L459.4 195.8L459.5 194.9L459.6 194.1L459.7 193.4L459.6 192.9L459.5 192.4L459.3 192.0L459.0 191.7L458.7 191.5L458.2 191.5L457.6 191.5L456.9 191.6L456.1 191.8L455.1 192.1L454.1 192.5L452.9 193.0L451.6 193.6L450.1 194.2L448.5 195.0L446.8 195.7L445.0 196.6L443.0 197.5L440.8 198.4M456.1 224.0L456.5 222.4L456.9 220.8L457.3 219.2L457.7 217.7L458.2 216.1L458.6 214.6L459.1 213.2L459.6 211.7L460.0 210.4L460.5 209.1L460.9 207.9L461.3 206.7L461.7 205.6L462.0 204.6L462.3 203.7L462.5 202.9L462.7 202.1L462.8 201.5L462.9 201.0L462.8 200.5L462.7 200.2L462.5 199.9L462.2 199.8L461.8 199.7L461.3 199.8L460.7 199.9L459.9 200.2L459.1 200.5L458.1 200.9L457.0 201.4L455.7 202.0L454.4 202.6L452.9 203.3L451.2 204.1L449.5 205.0L447.5 205.8L445.5 206.8L443.3 207.7L441.0 208.7M458.6 224.2L459.2 222.8L459.7 221.4L460.2 220.0L460.8 218.7L461.3 217.4L461.8 216.2L462.3 215.1L462.8 214.0L463.3 212.9L463.7 212.0L464.1 211.2L464.4 210.4L464.7 209.7L464.9 209.1L465.0 208.6L465.1 208.2L465.0 207.9L464.9 207.7L464.7 207.5L464.4 207.5L464.0 207.6L463.5 207.7L462.9 208.0L462.1 208.3L461.2 208.7L460.2 209.2L459.1 209.8L457.8 210.5L456.4 211.2L454.9 211.9L453.2 212.8L451.4 213.6L449.4 214.6L447.3 215.5L445.1 216.5L442.7 217.5L440.2 218.5L437.6 219.5L434.8 220.6M460.8 225.1L461.4 224.0L462.0 222.8L462.6 221.7L463.2 220.7L463.7 219.8L464.3 218.9L464.7 218.1L465.2 217.3L465.5 216.7L465.8 216.1L466.1 215.7L466.3 215.3L466.3 215.0L466.4 214.8L466.3 214.7L466.1 214.7L465.8 214.7L465.4 214.9L464.9 215.2L464.2 215.5L463.5 215.9L462.6 216.4L461.6 217.0L460.5 217.6L459.2 218.3L457.8 219.1L456.2 219.9L454.5 220.8L452.7 221.7L450.7 222.6L448.6 223.6L446.3 224.6L443.9 225.6L441.4 226.6L438.7 227.6L435.9 228.6L433.0 229.5L429.9 230.5L426.7 231.4M462.4 226.8L463.1 225.9L463.7 225.1L464.3 224.3L464.8 223.6L465.3 223.0L465.8 222.5L466.1 222.0L466.4 221.6L466.6 221.4L466.8 221.2L466.8 221.1L466.8 221.1L466.6 221.2L466.4 221.3L466.0 221.6L465.5 221.9L464.9 222.3L464.2 222.8L463.3 223.4L462.3 224.0L461.2 224.7L459.9 225.5L458.5 226.3L456.9 227.1L455.2 228.0L453.4 228.9L451.4 229.9L449.3 230.8L447.0 231.8L444.6 232.8L442.1 233.8L439.4 234.8L436.6 235.7L433.7 236.6L430.7 237.5L427.5 238.4L424.2 239.2L420.8 239.9L417.3 240.6L413.7 241.2L410.1 241.7M463.5 229.1L464.1 228.5L464.7 228.0L465.2 227.6L465.6 227.2L466.0 226.9L466.3 226.8L466.5 226.7L466.6 226.7L466.6 226.7L466.5 226.9L466.3 227.2L465.9 227.5L465.5 227.9L464.9 228.4L464.2 228.9L463.4 229.5L462.4 230.2L461.3 230.9L460.1 231.7L458.7 232.6L457.2 233.4L455.5 234.4L453.7 235.3L451.7 236.2L449.6 237.2L447.4 238.2L445.0 239.1L442.5 240.1L439.9 241.0L437.1 241.9L434.2 242.8L431.2 243.6L428.1 244.4L424.8 245.1L421.5 245.8L418.0 246.4L414.4 246.9L410.8 247.3L407.1 247.6L403.3 247.8L399.5 247.9L395.5 247.9L391.6 247.8L387.6 247.6L383.5 247.2L379.5 246.7L375.4 246.1L371.3 245.3L367.2 244.4L363.1 243.3L359.1 242.1L355.0 240.8L351.0 239.3L347.1 237.6L343.2 235.9L339.3 233.9M328.2 227.4L324.6 224.9L321.2 222.3L317.8 219.6L314.5 216.8M463.9 231.9L464.4 231.6L464.8 231.4L465.2 231.3L465.5 231.3L465.7 231.4L465.7 231.5L465.7 231.8L465.6 232.1L465.3 232.5L464.9 232.9L464.4 233.5L463.7 234.1L463.0 234.7L462.1 235.5L461.0 236.2L459.8 237.1L458.5 237.9L457.0 238.8L455.4 239.7L453.6 240.7L451.7 241.6L449.7 242.6L447.5 243.5L445.2 244.5L442.7 245.4L440.1 246.3L437.4 247.1L434.6 248.0L431.6 248.7L428.5 249.4L425.3 250.1L422.0 250.7L418.6 251.2L415.2 251.6L411.6 251.9L407.9 252.1L404.2 252.2L400.5 252.2L396.6 252.1L392.7 251.8L388.8 251.4L384.9 250.9L380.9 250.3L376.9 249.5L372.9 248.6L369.0 247.5L365.0 246.3L361.0 245.0L357.1 243.4L353.2 241.8L349.4 240.0L345.6 238.1L341.8 236.0L338.2 233.8L334.6 231.4L331.1 228.9L327.7 226.3L324.3 223.5L321.1 220.7L318.0 217.7L314.9 214.6L312.0 211.4L309.2 208.1L306.6 204.8L304.0 201.3L301.6 197.8L299.3 194.2L297.1 190.6L295.1 186.9L293.2 183.2L291.4 179.5L289.7 175.7L288.2 171.9L286.8 168.2L285.5 164.4L284.3 160.7L283.3 156.9L282.4 153.3M463.6 234.9L464.0 235.0L464.2 235.2L464.4 235.4L464.4 235.7L464.4 236.1L464.2 236.5L463.9 237.0L463.5 237.6L462.9 238.3L462.2 239.0L461.3 239.7L460.4 240.5L459.2 241.4L458.0 242.2L456.6 243.1L455.0 244.1L453.3 245.0L451.5 245.9L449.5 246.9L447.4 247.8L445.2 248.7L442.8 249.6L440.3 250.5L437.6 251.3L434.8 252.1L432.0 252.8L429.0 253.4L425.9 254.0L422.7 254.5L419.4 254.9L416.0 255.2L412.5 255.5L408.9 255.6L405.3 255.6L401.7 255.5L397.9 255.2L394.2 254.8L390.3 254.3L386.5 253.7L382.7 252.9L378.8 252.0L374.9 250.9L371.1 249.7L367.2 248.4L363.4 246.9L359.6 245.2L355.9 243.4L352.2 241.5L348.5 239.4L344.9 237.2L341.4 234.8L338.0 232.3L334.6 229.7L331.3 226.9L328.2 224.0L325.1 221.0L322.1 217.9L319.2 214.7L316.5 211.4L313.8 207.9L311.3 204.5L308.9 200.9L306.6 197.3L304.4 193.6L302.4 189.8L300.5 186.0L298.7 182.2L297.0 178.4L295.5 174.6L294.1 170.7L292.8 166.9L291.6 163.0L290.6 159.2L289.7 155.5L288.8 151.7L288.1 148.0L287.5 144.4L287.0 140.9L286.5 137.4L286.2 134.0M462.7 238.2L462.8 238.5L462.9 239.0L462.8 239.5L462.6 240.0L462.2 240.7L461.8 241.4L461.1 242.1L460.4 242.9L459.5 243.7L458.5 244.6L457.3 245.5L456.0 246.4L454.5 247.3L452.9 248.3L451.2 249.2L449.3 250.1L447.3 251.1L445.1 251.9L442.8 252.8L440.4 253.6L437.9 254.4L435.2 255.1L432.4 255.8L429.5 256.4L426.5 256.9L423.4 257.3L420.2 257.6L417.0 257.9L413.6 258.0L410.2 258.0L406.7 257.9L403.1 257.7L399.5 257.4L395.9 256.9L392.2 256.3L388.5 255.5L384.8 254.6L381.1 253.6L377.4 252.4L373.7 251.1L370.0 249.6L366.3 248.0L362.7 246.2L359.1 244.3L355.5 242.2L352.0 240.0L348.6 237.6L345.3 235.1L342.0 232.5L338.8 229.7L335.7 226.8L332.7 223.8L329.7 220.7L326.9 217.5L324.2 214.1L321.6 210.7L319.1 207.2L316.8 203.6L314.5 200.0L312.4 196.2L310.4 192.5L308.5 188.6L306.7 184.8L305.1 180.9L303.6 177.0L302.2 173.1L300.9 169.2L299.7 165.3L298.7 161.4L297.7 157.6L296.9 153.8L296.2 150.0L295.5 146.3L295.0 142.7L294.6 139.1L294.2 135.6L293.9 132.3L293.7 129.0L293.6 125.8L293.5 122.7M461.1 241.4L461.0 242.0L460.8 242.7L460.4 243.4L459.9 244.2L459.3 245.0L458.5 245.8L457.6 246.7L456.6 247.7L455.3 248.6L454.0 249.5L452.5 250.5L450.9 251.4L449.1 252.3L447.2 253.2L445.1 254.1L443.0 254.9L440.7 255.7L438.2 256.5L435.7 257.1L433.0 257.8L430.2 258.3L427.4 258.7L424.4 259.1L421.3 259.4L418.2 259.5L415.0 259.6L411.7 259.5L408.3 259.4L404.9 259.0L401.5 258.6L398.0 258.0L394.5 257.3L390.9 256.5L387.4 255.5L383.8 254.3L380.3 253.0L376.7 251.6L373.2 250.0L369.7 248.3L366.3 246.4L362.8 244.3L359.5 242.2L356.2 239.8L352.9 237.4L349.7 234.8L346.6 232.0L343.6 229.2L340.7 226.2L337.9 223.1L335.1 219.9L332.5 216.5L330.0 213.1L327.5 209.6L325.2 206.0L323.0 202.4L320.9 198.6L319.0 194.9L317.1 191.0L315.4 187.2L313.8 183.2L312.3 179.3L310.9 175.4L309.7 171.4L308.5 167.5L307.5 163.6L306.5 159.7L305.7 155.8L305.0 152.0L304.4 148.3L303.8 144.6L303.4 141.0L303.0 137.4L302.7 134.0L302.5 130.6L302.4 127.3L302.3 124.2L302.2 121.1L302.2 118.2L302.3 115.4L302.4 112.8M459.1 244.3L458.7 245.1L458.2 246.0L457.5 246.9L456.8 247.8L455.8 248.7L454.7 249.7L453.5 250.6L452.1 251.6L450.6 252.5L449.0 253.5L447.2 254.4L445.3 255.2L443.3 256.0L441.1 256.8L438.8 257.5L436.4 258.2L433.9 258.7L431.2 259.2L428.5 259.6L425.7 260.0L422.8 260.2L419.8 260.3L416.7 260.3L413.6 260.1L410.4 259.9L407.1 259.5L403.9 259.0L400.5 258.3L397.2 257.5L393.8 256.6L390.4 255.5L387.1 254.3L383.7 252.9L380.3 251.4L377.0 249.7L373.7 247.9L370.4 245.9L367.2 243.8L364.0 241.5L360.9 239.1L357.8 236.5L354.9 233.9L351.9 231.0L349.1 228.1L346.4 225.0L343.7 221.9L341.2 218.6L338.7 215.2L336.4 211.7L334.2 208.2L332.0 204.5L330.0 200.8L328.1 197.1L326.3 193.2L324.6 189.4L323.1 185.5L321.6 181.6L320.3 177.6L319.0 173.7L317.9 169.7L316.9 165.8L316.0 161.9L315.2 158.0L314.5 154.2L313.9 150.4L313.4 146.6L312.9 143.0L312.6 139.4L312.3 135.9L312.1 132.5L311.9 129.2L311.8 126.0L311.8 122.9L311.8 119.9L311.8 117.0L311.9 114.3L312.0 111.7L312.1 109.2M456.6 246.9L456.0 247.8L455.2 248.8L454.2 249.8L453.2 250.7L451.9 251.7L450.6 252.7L449.1 253.6L447.4 254.5L445.7 255.4L443.8 256.2L441.7 256.9L439.6 257.6L437.3 258.3L435.0 258.8L432.5 259.3L429.9 259.6L427.3 259.9L424.5 260.1L421.7 260.2L418.8 260.1L415.8 259.9L412.8 259.6L409.8 259.2L406.7 258.6L403.5 257.9L400.4 257.0L397.2 256.0L394.0 254.9L390.8 253.6L387.6 252.1L384.5 250.5L381.3 248.8L378.2 246.9L375.1 244.9L372.1 242.7L369.1 240.3L366.2 237.9L363.3 235.3L360.6 232.5L357.9 229.7L355.2 226.7L352.7 223.6L350.2 220.3L347.9 217.0L345.6 213.6L343.5 210.1L341.4 206.5L339.5 202.9L337.7 199.1L335.9 195.3L334.3 191.5L332.8 187.7L331.4 183.8L330.1 179.8L328.9 175.9L327.9 172.0L326.9 168.1L326.0 164.2L325.2 160.3L324.6 156.5L324.0 152.7L323.5 148.9L323.0 145.2L322.7 141.6L322.4 138.1L322.2 134.7L322.1 131.3L322.0 128.1L321.9 125.0L321.9 122.0L321.9 119.1L322.0 116.3L322.1 113.7L322.2 111.2L322.3 108.8L322.4 106.6L322.5 104.5M453.9 248.9L453.0 249.9L451.9 250.9L450.7 251.9L449.4 252.8L447.9 253.7L446.3 254.6L444.5 255.4L442.7 256.2L440.7 256.9L438.6 257.5L436.4 258.0L434.1 258.5L431.7 258.9L429.2 259.1L426.6 259.3L424.0 259.3L421.3 259.2L418.5 259.0L415.7 258.7L412.8 258.2L409.9 257.6L406.9 256.8L404.0 255.9L401.0 254.9L398.0 253.7L395.0 252.3L392.0 250.9L389.1 249.2L386.1 247.4L383.2 245.5L380.4 243.4L377.5 241.2L374.8 238.8L372.1 236.3L369.4 233.7L366.8 230.9L364.3 228.0L361.9 225.0L359.6 221.8L357.3 218.6L355.2 215.3L353.1 211.9L351.2 208.4L349.3 204.8L347.6 201.1L345.9 197.4L344.4 193.6L342.9 189.8L341.6 186.0L340.4 182.1L339.2 178.2L338.2 174.4L337.3 170.5L336.4 166.6L335.7 162.8L335.1 159.0L334.5 155.2L334.0 151.5L333.6 147.8L333.3 144.2L333.0 140.7L332.8 137.3L332.7 133.9L332.6 130.7L332.6 127.5L332.6 124.5L332.6 121.6L332.7 118.8L332.7 116.2L332.8 113.7L332.9 111.3L333.0 109.0L333.1 106.9L333.2 105.0L333.3 103.2M451.1 250.2L450.0 251.2L448.6 252.2L447.2 253.1L445.6 253.9L443.9 254.7L442.1 255.4L440.2 256.0L438.2 256.6L436.0 257.0L433.8 257.4L431.5 257.6L429.1 257.8L426.7 257.8L424.1 257.7L421.6 257.5L418.9 257.1L416.2 256.6L413.5 256.0L410.8 255.2L408.0 254.3L405.2 253.2L402.4 252.0L399.7 250.7L396.9 249.2L394.1 247.5L391.4 245.7L388.7 243.7L386.1 241.6L383.5 239.4L380.9 237.0L378.4 234.5L376.0 231.8L373.6 229.1L371.3 226.2L369.1 223.2L367.0 220.0L364.9 216.8L363.0 213.5L361.1 210.1L359.4 206.6L357.7 203.1L356.1 199.4L354.7 195.8L353.3 192.0L352.0 188.3L350.9 184.5L349.8 180.7L348.8 176.9L348.0 173.1L347.2 169.2L346.5 165.5L345.9 161.7L345.4 158.0L344.9 154.3L344.5 150.7L344.2 147.1L344.0 143.7L343.8 140.2L343.7 136.9L343.6 133.7L343.6 130.6L343.6 127.6L343.6 124.7L343.7 121.9L343.8 119.3L343.9 116.7L344.0 114.4L344.0 112.1L344.1 110.0L344.2 108.0L344.2 106.2L344.3 104.5M448.4 250.8L447.0 251.7L445.5 252.5L443.9 253.3L442.1 253.9L440.3 254.5L438.3 255.0L436.3 255.4L434.2 255.6L432.0 255.8L429.7 255.8L427.4 255.7L425.0 255.5L422.5 255.2L420.1 254.7L417.5 254.0L415.0 253.3L412.4 252.4L409.9 251.3L407.3 250.1L404.7 248.7L402.2 247.2L399.6 245.6L397.1 243.7L394.6 241.8L392.2 239.7L389.8 237.5L387.5 235.1L385.2 232.6L382.9 230.0L380.8 227.2L378.7 224.4L376.7 221.4L374.8 218.3L373.0 215.1L371.2 211.8L369.5 208.5L368.0 205.0L366.5 201.5L365.1 198.0L363.8 194.3L362.6 190.7L361.5 187.0L360.5 183.3L359.6 179.6L358.8 175.9L358.1 172.1L357.4 168.4L356.9 164.8L356.4 161.1L356.0 157.5L355.7 153.9L355.4 150.4L355.2 147.0L355.0 143.7L354.9 140.4L354.9 137.2L354.9 134.1L354.9 131.2L354.9 128.3L355.0 125.6L355.1 122.9L355.1 120.4L355.2 118.1L355.3 115.8L355.4 113.7L355.4 111.8L355.5 110.0L355.4 108.3L355.4 106.8L355.3 105.4M445.9 250.7L444.3 251.4L442.7 252.0L440.9 252.5L439.1 252.9L437.1 253.2L435.1 253.4L433.1 253.5L430.9 253.4L428.7 253.2L426.5 252.9L424.2 252.4L421.9 251.8L419.5 251.1L417.2 250.2L414.8 249.1L412.5 248.0L410.1 246.6L407.8 245.1L405.4 243.5L403.1 241.7L400.9 239.8L398.6 237.7L396.4 235.5L394.3 233.2L392.2 230.8L390.2 228.2L388.3 225.5L386.4 222.6L384.6 219.7L382.9 216.7L381.3 213.6L379.7 210.3L378.2 207.1L376.9 203.7L375.6 200.3L374.4 196.8L373.3 193.3L372.2 189.7L371.3 186.1L370.5 182.5L369.7 178.9L369.0 175.3L368.4 171.7L367.9 168.1L367.5 164.6L367.1 161.1L366.8 157.6L366.6 154.2L366.4 150.8L366.3 147.5L366.2 144.3L366.2 141.2L366.2 138.2L366.2 135.3L366.3 132.5L366.3 129.8L366.4 127.2L366.5 124.8L366.6 122.4L366.7 120.2L366.7 118.2L366.8 116.2L366.8 114.5L366.7 112.8L366.7 111.3L366.6 110.0L366.4 108.8L366.2 107.7M443.8 249.7L442.1 250.2L440.4 250.5L438.5 250.8L436.7 250.9L434.7 250.9L432.7 250.7L430.7 250.5L428.6 250.0L426.5 249.5L424.3 248.8L422.2 247.9L420.0 246.9L417.9 245.8L415.7 244.5L413.6 243.1L411.4 241.5L409.4 239.8L407.3 237.9L405.3 235.9L403.3 233.7L401.4 231.5L399.5 229.1L397.7 226.5L396.0 223.9L394.3 221.2L392.7 218.3L391.2 215.4L389.7 212.3L388.4 209.2L387.1 206.0L385.9 202.7L384.8 199.4L383.8 196.0L382.8 192.6L382.0 189.2L381.2 185.7L380.5 182.3L379.9 178.8L379.3 175.3L378.9 171.8L378.5 168.4L378.2 165.0L377.9 161.6L377.7 158.3L377.6 155.1L377.5 151.9L377.4 148.8L377.4 145.7L377.4 142.8L377.5 140.0L377.5 137.2L377.6 134.6L377.7 132.1L377.8 129.7L377.9 127.4L378.0 125.3L378.0 123.2L378.0 121.4L378.0 119.6L378.0 118.0L377.9 116.6L377.8 115.2L377.6 114.1L377.4 113.0L377.1 112.1M442.1 248.0L440.4 248.2L438.7 248.3L436.9 248.2L435.0 248.0L433.1 247.6L431.2 247.1L429.3 246.5L427.3 245.7L425.3 244.8L423.4 243.7L421.4 242.5L419.5 241.1L417.6 239.6L415.7 238.0L413.8 236.2L412.0 234.2L410.3 232.2L408.5 230.0L406.9 227.7L405.3 225.2L403.7 222.7L402.2 220.0L400.8 217.3L399.5 214.4L398.2 211.5L397.1 208.5L396.0 205.4L394.9 202.2L394.0 199.0L393.1 195.8L392.4 192.5L391.6 189.2L391.0 185.9L390.5 182.6L390.0 179.2L389.6 175.9L389.2 172.6L389.0 169.3L388.8 166.1L388.6 162.9L388.5 159.8L388.4 156.7L388.4 153.7L388.4 150.8L388.4 147.9L388.5 145.2L388.6 142.5L388.7 140.0L388.8 137.5L388.9 135.2L389.0 133.0L389.1 130.9L389.1 129.0L389.1 127.1L389.1 125.5L389.1 123.9L389.0 122.5L388.8 121.2L388.6 120.1L388.4 119.1L388.0 118.2L387.6 117.5" stroke="#f49090" stroke-width="1" fill="none" opacity="0.8"/>
<ellipse cx="350.5" cy="243.5" rx="12.0" ry="9.0" fill="url(#gr)"/>
<ellipse cx="447" cy="210.5" rx="12.0" ry="9.0" fill="url(#gr)"/>
<ellipse cx="435.7" cy="158" rx="12.5" ry="9.25" fill="url(#gr)"/>
<ellipse cx="403.7" cy="176.5" rx="12.75" ry="9.75" fill="url(#gr)"/>
<ellipse cx="453.7" cy="264" rx="12.35" ry="9.0" fill="url(#gr)"/>
<ellipse cx="203" cy="132.7" rx="12.0" ry="8.8" fill="url(#gr)"/>
<ellipse cx="334" cy="81.7" rx="11.3" ry="8.5" fill="url(#gr3)"/>
<ellipse cx="126.3" cy="186.5" rx="11.7" ry="8.8" fill="url(#gb)"/>
<ellipse cx="166.8" cy="111.5" rx="12.1" ry="9.2" fill="url(#gb)"/>
<ellipse cx="324" cy="342.8" rx="11.4" ry="8.8" fill="url(#gb)"/>
<text x="26" y="23.9" font-size="17.5" font-weight="bold" fill="#050505" font-family="Liberation Sans, sans-serif">PCA Mapping (38.2%)</text>
<circle cx="436.8" cy="10.8" r="8.4" fill="#f00"/>
<circle cx="436.8" cy="35.4" r="8.4" fill="#1c1caa"/>
<text transform="translate(456.6 18.9) scale(1.06 1)" font-size="18" font-weight="bold" fill="#050505" font-family="Liberation Sans, sans-serif">Vasospasm</text>
<text transform="translate(456.2 41.7) scale(1.065 1)" font-size="18" font-weight="bold" fill="#050505" font-family="Liberation Sans, sans-serif">No Vasospasm</text>
<text x="135" y="452" font-size="15.5" font-weight="bold" fill="#050505" font-family="Liberation Sans, sans-serif">PC#1 29.7%</text>
<text transform="translate(13.9 332) rotate(-90)" font-size="15.3" font-weight="bold" fill="#050505" font-family="Liberation Sans, sans-serif">PC#1 4.38%</text>
</svg>
</body></html>
